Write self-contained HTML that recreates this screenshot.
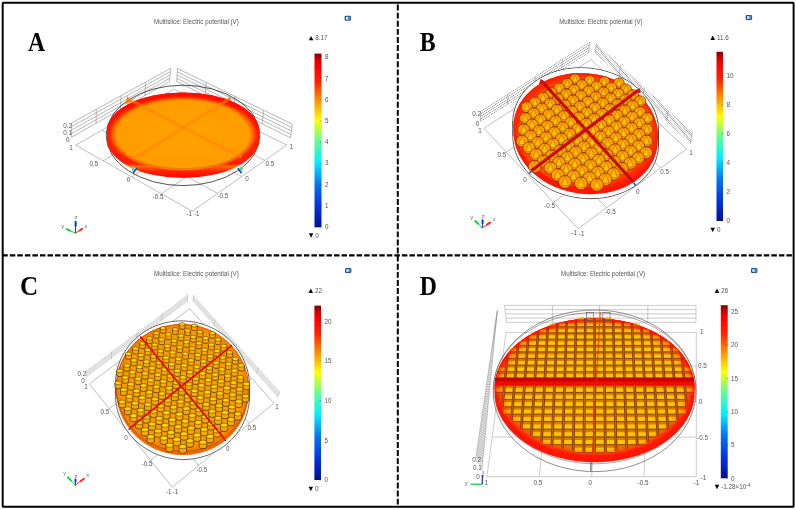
<!DOCTYPE html>
<html><head><meta charset="utf-8"><title>Figure</title>
<style>html,body{margin:0;padding:0;background:#fff;}svg{display:block;font-family:"Liberation Sans",sans-serif;}</style>
</head><body>
<svg width="796" height="510" viewBox="0 0 796 510">
<defs>
<linearGradient id="jet" x1="0" y1="0" x2="0" y2="1">
<stop offset="0" stop-color="#800000"/><stop offset="0.04" stop-color="#d80000"/><stop offset="0.075" stop-color="#ff0000"/><stop offset="0.16" stop-color="#ff2000"/><stop offset="0.27" stop-color="#ff9000"/><stop offset="0.385" stop-color="#ffff00"/><stop offset="0.5" stop-color="#60ff90"/><stop offset="0.625" stop-color="#00f0ff"/><stop offset="0.75" stop-color="#0078f0"/><stop offset="0.875" stop-color="#0034e4"/><stop offset="0.97" stop-color="#0018a8"/><stop offset="1" stop-color="#00108c"/>
</linearGradient>
<radialGradient id="gA" cx="0.5" cy="0.54" r="0.5"><stop offset="0" stop-color="#ffa300"/><stop offset="0.87" stop-color="#ff9c00"/><stop offset="0.925" stop-color="#ff6000"/><stop offset="0.96" stop-color="#ff2800"/><stop offset="1" stop-color="#ff1000"/></radialGradient>
<linearGradient id="rimA" x1="0" y1="0" x2="0" y2="1"><stop offset="0" stop-color="#ff1800"/><stop offset="0.83" stop-color="#ff2000"/><stop offset="0.865" stop-color="#ff6a00"/><stop offset="0.92" stop-color="#ff2000"/><stop offset="1" stop-color="#ff0800"/></linearGradient>
<radialGradient id="gB" cx="0.5" cy="0.5" r="0.5"><stop offset="0" stop-color="#ff6c00"/><stop offset="0.86" stop-color="#ff6400"/><stop offset="0.95" stop-color="#ff4400"/><stop offset="1" stop-color="#ff2800"/></radialGradient>
<radialGradient id="gC" cx="0.5" cy="0.5" r="0.5"><stop offset="0" stop-color="#f7a200"/><stop offset="0.9" stop-color="#f69c00"/><stop offset="0.97" stop-color="#f48400"/><stop offset="1" stop-color="#f07000"/></radialGradient>
<radialGradient id="gD" cx="0.5" cy="0.5" r="0.5"><stop offset="0" stop-color="#d88a00"/><stop offset="0.93" stop-color="#e07800"/><stop offset="0.965" stop-color="#ff3a00"/><stop offset="1" stop-color="#ff1000"/></radialGradient>
<radialGradient id="ovD" cx="0.5" cy="0.5" r="0.5"><stop offset="0" stop-color="#ff2000" stop-opacity="0"/><stop offset="0.88" stop-color="#ff2000" stop-opacity="0"/><stop offset="0.97" stop-color="#ff2000" stop-opacity="0.4"/><stop offset="1" stop-color="#ff1000" stop-opacity="0.95"/></radialGradient>
<filter id="bl" x="0" y="0" width="796" height="510" filterUnits="userSpaceOnUse"><feGaussianBlur stdDeviation="0.42"/></filter>
<filter id="bl3" x="0" y="0" width="796" height="510" filterUnits="userSpaceOnUse"><feGaussianBlur stdDeviation="0.22"/></filter>
<filter id="bl2" x="0" y="0" width="796" height="510" filterUnits="userSpaceOnUse"><feGaussianBlur stdDeviation="0.3"/></filter>
<linearGradient id="coneB" x1="0" y1="0" x2="0" y2="1"><stop offset="0" stop-color="#ff9800"/><stop offset="1" stop-color="#ffa800"/></linearGradient>
</defs>
<rect x="0" y="0" width="796" height="510" fill="#fff"/>
<g filter="url(#bl3)"><line x1="75.6" y1="145.2" x2="173.7" y2="89.2" stroke="#a4a4a4" stroke-width="0.7" /><line x1="75.6" y1="145.2" x2="192.2" y2="211.2" stroke="#a4a4a4" stroke-width="0.7" /><line x1="103.08" y1="160.75" x2="200.49" y2="102.42" stroke="#a4a4a4" stroke-width="0.7" /><line x1="101.81" y1="130.24" x2="217.6" y2="193.42" stroke="#a4a4a4" stroke-width="0.7" /><line x1="131.63" y1="176.91" x2="228.24" y2="116.11" stroke="#a4a4a4" stroke-width="0.7" /><line x1="126.85" y1="115.95" x2="241.78" y2="176.5" stroke="#a4a4a4" stroke-width="0.7" /><line x1="161.31" y1="193.72" x2="256.99" y2="130.29" stroke="#a4a4a4" stroke-width="0.7" /><line x1="150.79" y1="102.28" x2="264.82" y2="160.38" stroke="#a4a4a4" stroke-width="0.7" /><line x1="192.2" y1="211.2" x2="286.8" y2="145" stroke="#a4a4a4" stroke-width="0.7" /><line x1="173.7" y1="89.2" x2="286.8" y2="145" stroke="#a4a4a4" stroke-width="0.7" /><line x1="71.6" y1="137.1" x2="169.4" y2="81.6" stroke="#969696" stroke-width="0.7" /><line x1="71.6" y1="133.6" x2="169.68" y2="78.27" stroke="#969696" stroke-width="0.7" /><line x1="71.6" y1="130.1" x2="169.95" y2="74.95" stroke="#969696" stroke-width="0.7" /><line x1="71.6" y1="126.6" x2="170.22" y2="71.62" stroke="#969696" stroke-width="0.7" /><line x1="71.6" y1="123.1" x2="170.5" y2="68.3" stroke="#969696" stroke-width="0.7" /><line x1="71.6" y1="137.1" x2="71.6" y2="123.1" stroke="#969696" stroke-width="0.7" /><line x1="96.05" y1="123.22" x2="96.32" y2="109.4" stroke="#969696" stroke-width="0.7" /><line x1="120.5" y1="109.35" x2="121.05" y2="95.7" stroke="#969696" stroke-width="0.7" /><line x1="144.95" y1="95.47" x2="145.78" y2="82" stroke="#969696" stroke-width="0.7" /><line x1="169.4" y1="81.6" x2="170.5" y2="68.3" stroke="#969696" stroke-width="0.7" /><line x1="176.7" y1="81.6" x2="290.6" y2="137.9" stroke="#969696" stroke-width="0.7" /><line x1="176.9" y1="78.35" x2="291.03" y2="134.45" stroke="#969696" stroke-width="0.7" /><line x1="177.1" y1="75.1" x2="291.45" y2="131" stroke="#969696" stroke-width="0.7" /><line x1="177.3" y1="71.85" x2="291.88" y2="127.55" stroke="#969696" stroke-width="0.7" /><line x1="177.5" y1="68.6" x2="292.3" y2="124.1" stroke="#969696" stroke-width="0.7" /><line x1="176.7" y1="81.6" x2="177.5" y2="68.6" stroke="#969696" stroke-width="0.7" /><line x1="205.18" y1="95.67" x2="206.2" y2="82.47" stroke="#969696" stroke-width="0.7" /><line x1="233.65" y1="109.75" x2="234.9" y2="96.35" stroke="#969696" stroke-width="0.7" /><line x1="262.12" y1="123.83" x2="263.6" y2="110.22" stroke="#969696" stroke-width="0.7" /><line x1="290.6" y1="137.9" x2="292.3" y2="124.1" stroke="#969696" stroke-width="0.7" /></g><g filter="url(#bl)"><ellipse cx="183" cy="135.4" rx="76.8" ry="50.2" fill="none" stroke="#2a2a2a" stroke-width="0.8"/><path d="M106.8 131.45 A76.25 39.05 0 0 1 259.3 131.45 L259.3 139.05 A76.25 39.05 0 0 1 106.8 139.05 Z" fill="url(#rimA)"/><path d="M131 166 L137 168.2 L133 173.5 Z" fill="#40e0c0"/><path d="M131.2 166.3 L133 169.5" stroke="#ff9000" stroke-width="1"/><path d="M133 173.3 L136.8 168.4" stroke="#1030c8" stroke-width="1.3"/><path d="M243.5 166 L237.5 168.2 L241.5 173.5 Z" fill="#40e0c0"/><path d="M243.3 166.3 L241.5 169.5" stroke="#ff9000" stroke-width="1"/><path d="M241.5 173.3 L237.7 168.4" stroke="#1030c8" stroke-width="1.3"/><path d="M125.6 104 L126.6 99 L127.5 95.8 L129 99 L132.2 101.5 Z" fill="#ff7a00"/><path d="M231.6 104 L230.6 99 L229.7 95.8 L228.2 99 L225 101.5 Z" fill="#ff7a00"/><ellipse cx="183.05" cy="131.45" rx="76.25" ry="39.05" fill="url(#gA)"/><line x1="128" y1="98.8" x2="241.5" y2="157.3" stroke="#ff8200" stroke-width="3.2" opacity="0.55"/><line x1="229.2" y1="98.8" x2="132" y2="159.8" stroke="#ff8200" stroke-width="3.2" opacity="0.55"/><path d="M109.8 140.45 A76.25 39.05 0 0 0 256.3 140.45" fill="none" stroke="#b03800" stroke-width="0.5" opacity="0.6"/><text x="71.1" y="150.2" font-size="6.3" fill="#555555" text-anchor="middle" >1</text><text x="94" y="165.5" font-size="6.3" fill="#555555" text-anchor="middle" >0.5</text><text x="128.5" y="181.5" font-size="6.3" fill="#555555" text-anchor="middle" >0</text><text x="158" y="198.6" font-size="6.3" fill="#555555" text-anchor="middle" >-0.5</text><text x="189.2" y="216.4" font-size="6.3" fill="#555555" text-anchor="middle" >-1</text><text x="196.7" y="216.4" font-size="6.3" fill="#555555" text-anchor="middle" >-1</text><text x="222.9" y="198.4" font-size="6.3" fill="#555555" text-anchor="middle" >-0.5</text><text x="247" y="181.2" font-size="6.3" fill="#555555" text-anchor="middle" >0</text><text x="269.8" y="165.5" font-size="6.3" fill="#555555" text-anchor="middle" >0.5</text><text x="291.3" y="149.2" font-size="6.3" fill="#555555" text-anchor="middle" >1</text><text x="67.6" y="127.8" font-size="6.3" fill="#555555" text-anchor="middle" >0.2</text><text x="67.6" y="134.8" font-size="6.3" fill="#555555" text-anchor="middle" >0.1</text><text x="67.8" y="142.2" font-size="6.3" fill="#555555" text-anchor="middle" >0</text><line x1="75.4" y1="233.1" x2="66.6" y2="229.2" stroke="#00d848" stroke-width="1.0" /><line x1="69.94" y1="230.68" x2="66.6" y2="229.2" stroke="#00d848" stroke-width="2.0" stroke-linecap="round"/><line x1="75.4" y1="233.1" x2="82.2" y2="228.9" stroke="#ff2828" stroke-width="1.0" /><line x1="79.62" y1="230.5" x2="82.2" y2="228.9" stroke="#ff2828" stroke-width="2.0" stroke-linecap="round"/><line x1="75.4" y1="233.1" x2="75.7" y2="221.8" stroke="#1038e0" stroke-width="1.0" /><line x1="75.59" y1="226.09" x2="75.7" y2="221.8" stroke="#1038e0" stroke-width="2.0" stroke-linecap="round"/><text x="62.7" y="228" font-size="5.8" fill="#6a6a6a" text-anchor="middle" >y</text><text x="86" y="228" font-size="5.8" fill="#6a6a6a" text-anchor="middle" >x</text><text x="76" y="218.7" font-size="5.8" fill="#6a6a6a" text-anchor="middle" >z</text><text x="154" y="24.2" font-size="6.3" fill="#555555" textLength="84.8" lengthAdjust="spacingAndGlyphs">Multislice: Electric potential (V)</text><rect x="344.6" y="15.8" width="6.4" height="5.0" rx="1.2" fill="#2450a4"/><rect x="348.5" y="16.5" width="1.8" height="3.6" fill="#4a86d8"/><rect x="345.9" y="16.9" width="2.4" height="2.8" fill="#d4efd0"/><rect x="314.5" y="53.6" width="7" height="173.7" fill="url(#jet)"/><line x1="320" y1="226.8" x2="321.5" y2="226.8" stroke="#333" stroke-width="0.4" /><text x="324.9" y="229" font-size="6.3" fill="#555555" text-anchor="start" >0</text><line x1="320" y1="205.6" x2="321.5" y2="205.6" stroke="#333" stroke-width="0.4" /><text x="324.9" y="207.8" font-size="6.3" fill="#555555" text-anchor="start" >1</text><line x1="320" y1="184.4" x2="321.5" y2="184.4" stroke="#333" stroke-width="0.4" /><text x="324.9" y="186.6" font-size="6.3" fill="#555555" text-anchor="start" >2</text><line x1="320" y1="163.2" x2="321.5" y2="163.2" stroke="#333" stroke-width="0.4" /><text x="324.9" y="165.4" font-size="6.3" fill="#555555" text-anchor="start" >3</text><line x1="320" y1="142" x2="321.5" y2="142" stroke="#333" stroke-width="0.4" /><text x="324.9" y="144.2" font-size="6.3" fill="#555555" text-anchor="start" >4</text><line x1="320" y1="120.8" x2="321.5" y2="120.8" stroke="#333" stroke-width="0.4" /><text x="324.9" y="123" font-size="6.3" fill="#555555" text-anchor="start" >5</text><line x1="320" y1="99.6" x2="321.5" y2="99.6" stroke="#333" stroke-width="0.4" /><text x="324.9" y="101.8" font-size="6.3" fill="#555555" text-anchor="start" >6</text><line x1="320" y1="78.4" x2="321.5" y2="78.4" stroke="#333" stroke-width="0.4" /><text x="324.9" y="80.6" font-size="6.3" fill="#555555" text-anchor="start" >7</text><line x1="320" y1="57.2" x2="321.5" y2="57.2" stroke="#333" stroke-width="0.4" /><text x="324.9" y="59.4" font-size="6.3" fill="#555555" text-anchor="start" >8</text><path d="M308.8 40.3 l2.3 -4.4 l2.3 4.4z" fill="#111"/><text x="315.3" y="40.3" font-size="6.3" fill="#555555" text-anchor="start" >8.17</text><path d="M308.8 233.3 l2.3 4.4 l2.3 -4.4z" fill="#111"/><text x="315.3" y="237.7" font-size="6.3" fill="#555555" text-anchor="start" >0</text></g>
<g filter="url(#bl3)"><line x1="483.9" y1="128.2" x2="591" y2="59.6" stroke="#a4a4a4" stroke-width="0.7" /><line x1="483.9" y1="128.2" x2="578.2" y2="228.7" stroke="#a4a4a4" stroke-width="0.7" /><line x1="506.26" y1="152.03" x2="613.72" y2="80.87" stroke="#a4a4a4" stroke-width="0.7" /><line x1="511.94" y1="110.24" x2="606.64" y2="207.77" stroke="#a4a4a4" stroke-width="0.7" /><line x1="529.4" y1="176.69" x2="637.19" y2="102.84" stroke="#a4a4a4" stroke-width="0.7" /><line x1="539.11" y1="92.84" x2="634.15" y2="187.53" stroke="#a4a4a4" stroke-width="0.7" /><line x1="553.37" y1="202.24" x2="661.43" y2="125.53" stroke="#a4a4a4" stroke-width="0.7" /><line x1="565.45" y1="75.96" x2="660.75" y2="167.95" stroke="#a4a4a4" stroke-width="0.7" /><line x1="578.2" y1="228.7" x2="686.5" y2="149" stroke="#a4a4a4" stroke-width="0.7" /><line x1="591" y1="59.6" x2="686.5" y2="149" stroke="#a4a4a4" stroke-width="0.7" /><linearGradient id="wg1" gradientUnits="userSpaceOnUse" spreadMethod="repeat" x1="480.6" y1="121.4" x2="479.476" y2="119.631"><stop offset="0" stop-color="#969696"/><stop offset="0.24" stop-color="#f8f8f8"/><stop offset="0.76" stop-color="#f8f8f8"/><stop offset="1" stop-color="#969696"/></linearGradient><path d="M480.6 121.75 L480.6 111.05 L589.7 41.85 L588.7 53.05 Z" fill="url(#wg1)"/><line x1="480.6" y1="121.4" x2="480.6" y2="111.4" stroke="#909090" stroke-width="0.6" /><line x1="507.62" y1="104.23" x2="507.88" y2="94.1" stroke="#909090" stroke-width="0.6" /><line x1="534.65" y1="87.05" x2="535.15" y2="76.8" stroke="#909090" stroke-width="0.6" /><line x1="561.68" y1="69.88" x2="562.43" y2="59.5" stroke="#909090" stroke-width="0.6" /><line x1="588.7" y1="52.7" x2="589.7" y2="42.2" stroke="#909090" stroke-width="0.6" /><linearGradient id="wg2" gradientUnits="userSpaceOnUse" spreadMethod="repeat" x1="690.3" y1="143.7" x2="691.473" y2="142.478"><stop offset="0" stop-color="#969696"/><stop offset="0.24" stop-color="#f8f8f8"/><stop offset="0.76" stop-color="#f8f8f8"/><stop offset="1" stop-color="#969696"/></linearGradient><path d="M690.3 144.05 L692.3 132.25 L596.4 42.75 L595.4 52.95 Z" fill="url(#wg2)"/><line x1="690.3" y1="143.7" x2="692.3" y2="132.6" stroke="#909090" stroke-width="0.6" /><line x1="666.57" y1="120.92" x2="668.32" y2="110.22" stroke="#909090" stroke-width="0.6" /><line x1="642.85" y1="98.15" x2="644.35" y2="87.85" stroke="#909090" stroke-width="0.6" /><line x1="619.12" y1="75.38" x2="620.38" y2="65.47" stroke="#909090" stroke-width="0.6" /><line x1="595.4" y1="52.6" x2="596.4" y2="43.1" stroke="#909090" stroke-width="0.6" /></g><g filter="url(#bl)"><path d="M658 141.83 L657.45 144.82 L656.7 147.77 L655.76 150.67 L654.62 153.51 L653.29 156.3 L651.78 159.01 L650.09 161.65 L648.22 164.2 L646.19 166.67 L643.98 169.03 L641.62 171.29 L639.1 173.44 L636.43 175.47 L633.63 177.38 L630.7 179.16 L627.64 180.82 L624.46 182.33 L621.18 183.7 L617.81 184.93 L614.34 186.01 L610.8 186.94 L607.19 187.71 L603.52 188.33 L599.8 188.8 L596.04 189.1 L592.25 189.24 L588.45 189.23 L584.64 189.05 L580.83 188.72 L577.03 188.22 L573.26 187.57 L569.52 186.77 L565.83 185.81 L562.19 184.7 L558.61 183.44 L555.11 182.04 L551.7 180.5 L548.37 178.82 L545.15 177.01 L542.04 175.08 L539.05 173.02 L536.19 170.85 L533.46 168.57 L530.88 166.18 L528.44 163.7 L526.17 161.13 L524.06 158.48 L522.11 155.75 L520.34 152.95 L518.75 150.09 L517.34 147.18 L516.12 144.23 L515.09 141.23 L514.26 138.21 L513.62 135.17 L513.18 132.12 L512.93 129.07 L512.89 126.02 L513.04 122.98 L513.4 119.97 L513.95 116.98 L514.7 114.03 L515.64 111.13 L516.78 108.29 L518.11 105.5 L519.62 102.79 L521.31 100.15 L523.18 97.6 L525.21 95.13 L527.42 92.77 L529.78 90.51 L532.3 88.36 L534.97 86.33 L537.77 84.42 L540.7 82.64 L543.76 80.98 L546.94 79.47 L550.22 78.1 L553.59 76.87 L557.06 75.79 L560.6 74.86 L564.21 74.09 L567.88 73.47 L571.6 73 L575.36 72.7 L579.15 72.56 L582.95 72.57 L586.76 72.75 L590.57 73.08 L594.37 73.58 L598.14 74.23 L601.88 75.03 L605.57 75.99 L609.21 77.1 L612.79 78.36 L616.29 79.76 L619.7 81.3 L623.03 82.98 L626.25 84.79 L629.36 86.72 L632.35 88.78 L635.21 90.95 L637.94 93.23 L640.52 95.62 L642.96 98.1 L645.23 100.67 L647.34 103.32 L649.29 106.05 L651.06 108.85 L652.65 111.71 L654.06 114.62 L655.28 117.57 L656.31 120.57 L657.14 123.59 L657.78 126.63 L658.22 129.68 L658.47 132.73 L658.51 135.78 L658.36 138.82 Z M658 156.03 L657.45 159.02 L656.7 161.97 L655.76 164.87 L654.62 167.71 L653.29 170.5 L651.78 173.21 L650.09 175.85 L648.22 178.4 L646.19 180.87 L643.98 183.23 L641.62 185.49 L639.1 187.64 L636.43 189.67 L633.63 191.58 L630.7 193.36 L627.64 195.02 L624.46 196.53 L621.18 197.9 L617.81 199.13 L614.34 200.21 L610.8 201.14 L607.19 201.91 L603.52 202.53 L599.8 203 L596.04 203.3 L592.25 203.44 L588.45 203.43 L584.64 203.25 L580.83 202.92 L577.03 202.42 L573.26 201.77 L569.52 200.97 L565.83 200.01 L562.19 198.9 L558.61 197.64 L555.11 196.24 L551.7 194.7 L548.37 193.02 L545.15 191.21 L542.04 189.28 L539.05 187.22 L536.19 185.05 L533.46 182.77 L530.88 180.38 L528.44 177.9 L526.17 175.33 L524.06 172.68 L522.11 169.95 L520.34 167.15 L518.75 164.29 L517.34 161.38 L516.12 158.43 L515.09 155.43 L514.26 152.41 L513.62 149.37 L513.18 146.32 L512.93 143.27 L512.89 140.22 L513.04 137.18 L513.4 134.17 L513.95 131.18 L514.7 128.23 L515.64 125.33 L516.78 122.49 L518.11 119.7 L519.62 116.99 L521.31 114.35 L523.18 111.8 L525.21 109.33 L527.42 106.97 L529.78 104.71 L532.3 102.56 L534.97 100.53 L537.77 98.62 L540.7 96.84 L543.76 95.18 L546.94 93.67 L550.22 92.3 L553.59 91.07 L557.06 89.99 L560.6 89.06 L564.21 88.29 L567.88 87.67 L571.6 87.2 L575.36 86.9 L579.15 86.76 L582.95 86.77 L586.76 86.95 L590.57 87.28 L594.37 87.78 L598.14 88.43 L601.88 89.23 L605.57 90.19 L609.21 91.3 L612.79 92.56 L616.29 93.96 L619.7 95.5 L623.03 97.18 L626.25 98.99 L629.36 100.92 L632.35 102.98 L635.21 105.15 L637.94 107.43 L640.52 109.82 L642.96 112.3 L645.23 114.87 L647.34 117.52 L649.29 120.25 L651.06 123.05 L652.65 125.91 L654.06 128.82 L655.28 131.77 L656.31 134.77 L657.14 137.79 L657.78 140.83 L658.22 143.88 L658.47 146.93 L658.51 149.98 L658.36 153.02 Z M658.51 135.78 L658.51 149.98 L512.89 140.22 L512.89 126.02 Z" fill="#fff" stroke="#444" stroke-width="0.9" transform="translate(0,-4.8)"/><path d="M657.29 141.73 L656.74 144.68 L656 147.6 L655.06 150.47 L653.94 153.29 L652.63 156.05 L651.13 158.73 L649.46 161.35 L647.61 163.87 L645.59 166.31 L643.4 168.65 L641.06 170.89 L638.57 173.02 L635.93 175.03 L633.16 176.92 L630.25 178.69 L627.22 180.32 L624.08 181.82 L620.83 183.18 L617.49 184.39 L614.06 185.46 L610.55 186.38 L606.98 187.15 L603.34 187.76 L599.66 188.22 L595.94 188.52 L592.19 188.67 L588.42 188.65 L584.65 188.48 L580.87 188.14 L577.12 187.65 L573.38 187.01 L569.68 186.21 L566.02 185.26 L562.42 184.16 L558.88 182.92 L555.42 181.53 L552.03 180.01 L548.74 178.34 L545.55 176.55 L542.47 174.64 L539.51 172.6 L536.68 170.45 L533.98 168.19 L531.42 165.83 L529.01 163.38 L526.76 160.83 L524.67 158.2 L522.74 155.5 L520.99 152.73 L519.41 149.9 L518.02 147.02 L516.81 144.09 L515.79 141.13 L514.97 138.14 L514.33 135.13 L513.89 132.11 L513.65 129.09 L513.61 126.07 L513.76 123.06 L514.11 120.07 L514.66 117.12 L515.4 114.2 L516.34 111.33 L517.46 108.51 L518.77 105.75 L520.27 103.07 L521.94 100.45 L523.79 97.93 L525.81 95.49 L528 93.15 L530.34 90.91 L532.83 88.78 L535.47 86.77 L538.24 84.88 L541.15 83.11 L544.18 81.48 L547.32 79.98 L550.57 78.62 L553.91 77.41 L557.34 76.34 L560.85 75.42 L564.42 74.65 L568.06 74.04 L571.74 73.58 L575.46 73.28 L579.21 73.13 L582.98 73.15 L586.75 73.32 L590.53 73.66 L594.28 74.15 L598.02 74.79 L601.72 75.59 L605.38 76.54 L608.98 77.64 L612.52 78.88 L615.98 80.27 L619.37 81.79 L622.66 83.46 L625.85 85.25 L628.93 87.16 L631.89 89.2 L634.72 91.35 L637.42 93.61 L639.98 95.97 L642.39 98.42 L644.64 100.97 L646.73 103.6 L648.66 106.3 L650.41 109.07 L651.99 111.9 L653.38 114.78 L654.59 117.71 L655.61 120.67 L656.43 123.66 L657.07 126.67 L657.51 129.69 L657.75 132.71 L657.79 135.73 L657.64 138.74 Z M657.29 155.93 L656.74 158.88 L656 161.8 L655.06 164.67 L653.94 167.49 L652.63 170.25 L651.13 172.93 L649.46 175.55 L647.61 178.07 L645.59 180.51 L643.4 182.85 L641.06 185.09 L638.57 187.22 L635.93 189.23 L633.16 191.12 L630.25 192.89 L627.22 194.52 L624.08 196.02 L620.83 197.38 L617.49 198.59 L614.06 199.66 L610.55 200.58 L606.98 201.35 L603.34 201.96 L599.66 202.42 L595.94 202.72 L592.19 202.87 L588.42 202.85 L584.65 202.68 L580.87 202.34 L577.12 201.85 L573.38 201.21 L569.68 200.41 L566.02 199.46 L562.42 198.36 L558.88 197.12 L555.42 195.73 L552.03 194.21 L548.74 192.54 L545.55 190.75 L542.47 188.84 L539.51 186.8 L536.68 184.65 L533.98 182.39 L531.42 180.03 L529.01 177.58 L526.76 175.03 L524.67 172.4 L522.74 169.7 L520.99 166.93 L519.41 164.1 L518.02 161.22 L516.81 158.29 L515.79 155.33 L514.97 152.34 L514.33 149.33 L513.89 146.31 L513.65 143.29 L513.61 140.27 L513.76 137.26 L514.11 134.27 L514.66 131.32 L515.4 128.4 L516.34 125.53 L517.46 122.71 L518.77 119.95 L520.27 117.27 L521.94 114.65 L523.79 112.13 L525.81 109.69 L528 107.35 L530.34 105.11 L532.83 102.98 L535.47 100.97 L538.24 99.08 L541.15 97.31 L544.18 95.68 L547.32 94.18 L550.57 92.82 L553.91 91.61 L557.34 90.54 L560.85 89.62 L564.42 88.85 L568.06 88.24 L571.74 87.78 L575.46 87.48 L579.21 87.33 L582.98 87.35 L586.75 87.52 L590.53 87.86 L594.28 88.35 L598.02 88.99 L601.72 89.79 L605.38 90.74 L608.98 91.84 L612.52 93.08 L615.98 94.47 L619.37 95.99 L622.66 97.66 L625.85 99.45 L628.93 101.36 L631.89 103.4 L634.72 105.55 L637.42 107.81 L639.98 110.17 L642.39 112.62 L644.64 115.17 L646.73 117.8 L648.66 120.5 L650.41 123.27 L651.99 126.1 L653.38 128.98 L654.59 131.91 L655.61 134.87 L656.43 137.86 L657.07 140.87 L657.51 143.89 L657.75 146.91 L657.79 149.93 L657.64 152.94 Z M657.79 135.73 L657.79 149.93 L513.61 140.27 L513.61 126.07 Z" fill="#fff" transform="translate(0,-4.8)"/><line x1="531" y1="171.5" x2="529" y2="174" stroke="#1060e0" stroke-width="1.6" /><line x1="633.7" y1="182.5" x2="635.5" y2="185.5" stroke="#1060e0" stroke-width="1.6" /><path d="M657.29 141.73 L656.74 144.68 L656 147.6 L655.06 150.47 L653.94 153.29 L652.63 156.05 L651.13 158.73 L649.46 161.35 L647.61 163.87 L645.59 166.31 L643.4 168.65 L641.06 170.89 L638.57 173.02 L635.93 175.03 L633.16 176.92 L630.25 178.69 L627.22 180.32 L624.08 181.82 L620.83 183.18 L617.49 184.39 L614.06 185.46 L610.55 186.38 L606.98 187.15 L603.34 187.76 L599.66 188.22 L595.94 188.52 L592.19 188.67 L588.42 188.65 L584.65 188.48 L580.87 188.14 L577.12 187.65 L573.38 187.01 L569.68 186.21 L566.02 185.26 L562.42 184.16 L558.88 182.92 L555.42 181.53 L552.03 180.01 L548.74 178.34 L545.55 176.55 L542.47 174.64 L539.51 172.6 L536.68 170.45 L533.98 168.19 L531.42 165.83 L529.01 163.38 L526.76 160.83 L524.67 158.2 L522.74 155.5 L520.99 152.73 L519.41 149.9 L518.02 147.02 L516.81 144.09 L515.79 141.13 L514.97 138.14 L514.33 135.13 L513.89 132.11 L513.65 129.09 L513.61 126.07 L513.76 123.06 L514.11 120.07 L514.66 117.12 L515.4 114.2 L516.34 111.33 L517.46 108.51 L518.77 105.75 L520.27 103.07 L521.94 100.45 L523.79 97.93 L525.81 95.49 L528 93.15 L530.34 90.91 L532.83 88.78 L535.47 86.77 L538.24 84.88 L541.15 83.11 L544.18 81.48 L547.32 79.98 L550.57 78.62 L553.91 77.41 L557.34 76.34 L560.85 75.42 L564.42 74.65 L568.06 74.04 L571.74 73.58 L575.46 73.28 L579.21 73.13 L582.98 73.15 L586.75 73.32 L590.53 73.66 L594.28 74.15 L598.02 74.79 L601.72 75.59 L605.38 76.54 L608.98 77.64 L612.52 78.88 L615.98 80.27 L619.37 81.79 L622.66 83.46 L625.85 85.25 L628.93 87.16 L631.89 89.2 L634.72 91.35 L637.42 93.61 L639.98 95.97 L642.39 98.42 L644.64 100.97 L646.73 103.6 L648.66 106.3 L650.41 109.07 L651.99 111.9 L653.38 114.78 L654.59 117.71 L655.61 120.67 L656.43 123.66 L657.07 126.67 L657.51 129.69 L657.75 132.71 L657.79 135.73 L657.64 138.74 Z M657.29 147.33 L656.74 150.28 L656 153.2 L655.06 156.07 L653.94 158.89 L652.63 161.65 L651.13 164.33 L649.46 166.95 L647.61 169.47 L645.59 171.91 L643.4 174.25 L641.06 176.49 L638.57 178.62 L635.93 180.63 L633.16 182.52 L630.25 184.29 L627.22 185.92 L624.08 187.42 L620.83 188.78 L617.49 189.99 L614.06 191.06 L610.55 191.98 L606.98 192.75 L603.34 193.36 L599.66 193.82 L595.94 194.12 L592.19 194.27 L588.42 194.25 L584.65 194.08 L580.87 193.74 L577.12 193.25 L573.38 192.61 L569.68 191.81 L566.02 190.86 L562.42 189.76 L558.88 188.52 L555.42 187.13 L552.03 185.61 L548.74 183.94 L545.55 182.15 L542.47 180.24 L539.51 178.2 L536.68 176.05 L533.98 173.79 L531.42 171.43 L529.01 168.98 L526.76 166.43 L524.67 163.8 L522.74 161.1 L520.99 158.33 L519.41 155.5 L518.02 152.62 L516.81 149.69 L515.79 146.73 L514.97 143.74 L514.33 140.73 L513.89 137.71 L513.65 134.69 L513.61 131.67 L513.76 128.66 L514.11 125.67 L514.66 122.72 L515.4 119.8 L516.34 116.93 L517.46 114.11 L518.77 111.35 L520.27 108.67 L521.94 106.05 L523.79 103.53 L525.81 101.09 L528 98.75 L530.34 96.51 L532.83 94.38 L535.47 92.37 L538.24 90.48 L541.15 88.71 L544.18 87.08 L547.32 85.58 L550.57 84.22 L553.91 83.01 L557.34 81.94 L560.85 81.02 L564.42 80.25 L568.06 79.64 L571.74 79.18 L575.46 78.88 L579.21 78.73 L582.98 78.75 L586.75 78.92 L590.53 79.26 L594.28 79.75 L598.02 80.39 L601.72 81.19 L605.38 82.14 L608.98 83.24 L612.52 84.48 L615.98 85.87 L619.37 87.39 L622.66 89.06 L625.85 90.85 L628.93 92.76 L631.89 94.8 L634.72 96.95 L637.42 99.21 L639.98 101.57 L642.39 104.02 L644.64 106.57 L646.73 109.2 L648.66 111.9 L650.41 114.67 L651.99 117.5 L653.38 120.38 L654.59 123.31 L655.61 126.27 L656.43 129.26 L657.07 132.27 L657.51 135.29 L657.75 138.31 L657.79 141.33 L657.64 144.34 Z M657.79 135.73 L657.79 141.33 L513.61 131.67 L513.61 126.07 Z" fill="#ff1800"/><path d="M657.29 141.73 L656.74 144.68 L656 147.6 L655.06 150.47 L653.94 153.29 L652.63 156.05 L651.13 158.73 L649.46 161.35 L647.61 163.87 L645.59 166.31 L643.4 168.65 L641.06 170.89 L638.57 173.02 L635.93 175.03 L633.16 176.92 L630.25 178.69 L627.22 180.32 L624.08 181.82 L620.83 183.18 L617.49 184.39 L614.06 185.46 L610.55 186.38 L606.98 187.15 L603.34 187.76 L599.66 188.22 L595.94 188.52 L592.19 188.67 L588.42 188.65 L584.65 188.48 L580.87 188.14 L577.12 187.65 L573.38 187.01 L569.68 186.21 L566.02 185.26 L562.42 184.16 L558.88 182.92 L555.42 181.53 L552.03 180.01 L548.74 178.34 L545.55 176.55 L542.47 174.64 L539.51 172.6 L536.68 170.45 L533.98 168.19 L531.42 165.83 L529.01 163.38 L526.76 160.83 L524.67 158.2 L522.74 155.5 L520.99 152.73 L519.41 149.9 L518.02 147.02 L516.81 144.09 L515.79 141.13 L514.97 138.14 L514.33 135.13 L513.89 132.11 L513.65 129.09 L513.61 126.07 L513.76 123.06 L514.11 120.07 L514.66 117.12 L515.4 114.2 L516.34 111.33 L517.46 108.51 L518.77 105.75 L520.27 103.07 L521.94 100.45 L523.79 97.93 L525.81 95.49 L528 93.15 L530.34 90.91 L532.83 88.78 L535.47 86.77 L538.24 84.88 L541.15 83.11 L544.18 81.48 L547.32 79.98 L550.57 78.62 L553.91 77.41 L557.34 76.34 L560.85 75.42 L564.42 74.65 L568.06 74.04 L571.74 73.58 L575.46 73.28 L579.21 73.13 L582.98 73.15 L586.75 73.32 L590.53 73.66 L594.28 74.15 L598.02 74.79 L601.72 75.59 L605.38 76.54 L608.98 77.64 L612.52 78.88 L615.98 80.27 L619.37 81.79 L622.66 83.46 L625.85 85.25 L628.93 87.16 L631.89 89.2 L634.72 91.35 L637.42 93.61 L639.98 95.97 L642.39 98.42 L644.64 100.97 L646.73 103.6 L648.66 106.3 L650.41 109.07 L651.99 111.9 L653.38 114.78 L654.59 117.71 L655.61 120.67 L656.43 123.66 L657.07 126.67 L657.51 129.69 L657.75 132.71 L657.79 135.73 L657.64 138.74 Z" fill="#ff2200"/><path d="M655.5 142.06 L654.96 144.94 L654.24 147.78 L653.33 150.58 L652.23 153.33 L650.95 156.02 L649.49 158.64 L647.86 161.19 L646.06 163.65 L644.09 166.03 L641.96 168.31 L639.68 170.49 L637.25 172.57 L634.68 174.53 L631.97 176.37 L629.14 178.09 L626.18 179.69 L623.12 181.15 L619.95 182.47 L616.7 183.66 L613.35 184.7 L609.93 185.6 L606.44 186.35 L602.9 186.94 L599.31 187.39 L595.68 187.68 L592.03 187.82 L588.35 187.81 L584.67 187.64 L581 187.31 L577.33 186.84 L573.69 186.21 L570.08 185.43 L566.52 184.5 L563 183.43 L559.55 182.22 L556.17 180.87 L552.87 179.38 L549.67 177.76 L546.56 176.01 L543.55 174.14 L540.67 172.16 L537.9 170.06 L535.27 167.86 L532.78 165.56 L530.43 163.16 L528.23 160.68 L526.19 158.12 L524.31 155.49 L522.61 152.79 L521.07 150.03 L519.71 147.22 L518.53 144.36 L517.54 141.48 L516.73 138.56 L516.12 135.63 L515.69 132.68 L515.45 129.73 L515.41 126.79 L515.56 123.85 L515.9 120.94 L516.44 118.06 L517.16 115.22 L518.07 112.42 L519.17 109.67 L520.45 106.98 L521.91 104.36 L523.54 101.81 L525.34 99.35 L527.31 96.97 L529.44 94.69 L531.72 92.51 L534.15 90.43 L536.72 88.47 L539.43 86.63 L542.26 84.91 L545.22 83.31 L548.28 81.85 L551.45 80.53 L554.7 79.34 L558.05 78.3 L561.47 77.4 L564.96 76.65 L568.5 76.06 L572.09 75.61 L575.72 75.32 L579.37 75.18 L583.05 75.19 L586.73 75.36 L590.4 75.69 L594.07 76.16 L597.71 76.79 L601.32 77.57 L604.88 78.5 L608.4 79.57 L611.85 80.78 L615.23 82.13 L618.53 83.62 L621.73 85.24 L624.84 86.99 L627.85 88.86 L630.73 90.84 L633.5 92.94 L636.13 95.14 L638.62 97.44 L640.97 99.84 L643.17 102.32 L645.21 104.88 L647.09 107.51 L648.79 110.21 L650.33 112.97 L651.69 115.78 L652.87 118.64 L653.86 121.52 L654.67 124.44 L655.28 127.37 L655.71 130.32 L655.95 133.27 L655.99 136.21 L655.84 139.15 Z" fill="url(#gB)"/><ellipse cx="575.04" cy="78.98" rx="5.35" ry="5.13" fill="#ffa000" stroke="#6e1a00" stroke-width="0.6"/><path d="M572.08 82.04 L575.04 74.58 L578.01 82.04 Z" fill="#ffc400" stroke="#8a3000" stroke-width="0.35"/><ellipse cx="589.66" cy="80.32" rx="5.37" ry="5.14" fill="#ffa000" stroke="#6e1a00" stroke-width="0.6"/><path d="M586.68 83.39 L589.66 75.9 L592.64 83.39 Z" fill="#ffc400" stroke="#8a3000" stroke-width="0.35"/><ellipse cx="604.28" cy="81.66" rx="5.38" ry="5.16" fill="#ffa000" stroke="#6e1a00" stroke-width="0.6"/><path d="M601.3 84.73 L604.28 77.23 L607.27 84.73 Z" fill="#ffc400" stroke="#8a3000" stroke-width="0.35"/><ellipse cx="618.92" cy="83" rx="5.4" ry="5.17" fill="#ffa000" stroke="#6e1a00" stroke-width="0.6"/><path d="M615.92 86.08 L618.92 78.55 L621.91 86.08 Z" fill="#ffc400" stroke="#8a3000" stroke-width="0.35"/><ellipse cx="567.19" cy="83.56" rx="5.4" ry="5.18" fill="#ffa000" stroke="#6e1a00" stroke-width="0.6"/><path d="M564.19 86.65 L567.19 79.11 L570.19 86.65 Z" fill="#ffc400" stroke="#8a3000" stroke-width="0.35"/><ellipse cx="581.87" cy="84.91" rx="5.42" ry="5.19" fill="#ffa000" stroke="#6e1a00" stroke-width="0.6"/><path d="M578.87 88.01 L581.87 80.44 L584.88 88.01 Z" fill="#ffc400" stroke="#8a3000" stroke-width="0.35"/><ellipse cx="596.56" cy="86.26" rx="5.44" ry="5.21" fill="#ffa000" stroke="#6e1a00" stroke-width="0.6"/><path d="M593.55 89.36 L596.56 81.78 L599.58 89.36 Z" fill="#ffc400" stroke="#8a3000" stroke-width="0.35"/><ellipse cx="611.26" cy="87.6" rx="5.45" ry="5.22" fill="#ffa000" stroke="#6e1a00" stroke-width="0.6"/><path d="M608.24 90.72 L611.26 83.11 L614.28 90.72 Z" fill="#ffc400" stroke="#8a3000" stroke-width="0.35"/><ellipse cx="559.27" cy="88.19" rx="5.46" ry="5.23" fill="#ffa000" stroke="#6e1a00" stroke-width="0.6"/><path d="M556.24 91.31 L559.27 83.69 L562.29 91.31 Z" fill="#ffc400" stroke="#8a3000" stroke-width="0.35"/><ellipse cx="625.96" cy="88.95" rx="5.47" ry="5.24" fill="#ffa000" stroke="#6e1a00" stroke-width="0.6"/><path d="M622.93 92.08 L625.96 84.45 L629 92.08 Z" fill="#ffc400" stroke="#8a3000" stroke-width="0.35"/><ellipse cx="574.02" cy="89.54" rx="5.48" ry="5.25" fill="#ffa000" stroke="#6e1a00" stroke-width="0.6"/><path d="M570.98 92.67 L574.02 85.03 L577.05 92.67 Z" fill="#ffc400" stroke="#8a3000" stroke-width="0.35"/><ellipse cx="588.77" cy="90.89" rx="5.49" ry="5.26" fill="#ffa000" stroke="#6e1a00" stroke-width="0.6"/><path d="M585.73 94.03 L588.77 86.37 L591.82 94.03 Z" fill="#ffc400" stroke="#8a3000" stroke-width="0.35"/><ellipse cx="603.53" cy="92.25" rx="5.51" ry="5.28" fill="#ffa000" stroke="#6e1a00" stroke-width="0.6"/><path d="M600.48 95.4 L603.53 87.71 L606.59 95.4 Z" fill="#ffc400" stroke="#8a3000" stroke-width="0.35"/><ellipse cx="551.27" cy="92.85" rx="5.52" ry="5.28" fill="#ffa000" stroke="#6e1a00" stroke-width="0.6"/><path d="M548.21 96 L551.27 88.31 L554.33 96 Z" fill="#ffc400" stroke="#8a3000" stroke-width="0.35"/><ellipse cx="618.31" cy="93.6" rx="5.52" ry="5.29" fill="#ffa000" stroke="#6e1a00" stroke-width="0.6"/><path d="M615.24 96.76 L618.31 89.06 L621.37 96.76 Z" fill="#ffc400" stroke="#8a3000" stroke-width="0.35"/><ellipse cx="566.08" cy="94.21" rx="5.53" ry="5.3" fill="#ffa000" stroke="#6e1a00" stroke-width="0.6"/><path d="M563.02 97.37 L566.08 89.66 L569.15 97.37 Z" fill="#ffc400" stroke="#8a3000" stroke-width="0.35"/><ellipse cx="633.08" cy="94.96" rx="5.54" ry="5.31" fill="#ffa000" stroke="#6e1a00" stroke-width="0.6"/><path d="M630.01 98.13 L633.08 90.4 L636.16 98.13 Z" fill="#ffc400" stroke="#8a3000" stroke-width="0.35"/><ellipse cx="580.91" cy="95.58" rx="5.55" ry="5.31" fill="#ffa000" stroke="#6e1a00" stroke-width="0.6"/><path d="M577.83 98.75 L580.91 91.01 L583.98 98.75 Z" fill="#ffc400" stroke="#8a3000" stroke-width="0.35"/><ellipse cx="595.74" cy="96.94" rx="5.56" ry="5.33" fill="#ffa000" stroke="#6e1a00" stroke-width="0.6"/><path d="M592.65 100.12 L595.74 92.36 L598.82 100.12 Z" fill="#ffc400" stroke="#8a3000" stroke-width="0.35"/><ellipse cx="543.19" cy="97.56" rx="5.57" ry="5.34" fill="#ffa000" stroke="#6e1a00" stroke-width="0.6"/><path d="M540.1 100.75 L543.19 92.98 L546.28 100.75 Z" fill="#ffc400" stroke="#8a3000" stroke-width="0.35"/><ellipse cx="610.57" cy="98.3" rx="5.58" ry="5.35" fill="#ffa000" stroke="#6e1a00" stroke-width="0.6"/><path d="M607.48 101.49 L610.57 93.71 L613.67 101.49 Z" fill="#ffc400" stroke="#8a3000" stroke-width="0.35"/><ellipse cx="558.08" cy="98.93" rx="5.59" ry="5.35" fill="#ffa000" stroke="#6e1a00" stroke-width="0.6"/><path d="M554.98 102.13 L558.08 94.33 L561.18 102.13 Z" fill="#ffc400" stroke="#8a3000" stroke-width="0.35"/><ellipse cx="625.42" cy="99.66" rx="5.6" ry="5.36" fill="#ffa000" stroke="#6e1a00" stroke-width="0.6"/><path d="M622.32 102.86 L625.42 95.06 L628.52 102.86 Z" fill="#ffc400" stroke="#8a3000" stroke-width="0.35"/><ellipse cx="572.97" cy="100.3" rx="5.6" ry="5.37" fill="#ffa000" stroke="#6e1a00" stroke-width="0.6"/><path d="M569.86 103.5 L572.97 95.69 L576.07 103.5 Z" fill="#ffc400" stroke="#8a3000" stroke-width="0.35"/><ellipse cx="640.27" cy="101.03" rx="5.61" ry="5.38" fill="#ffa000" stroke="#6e1a00" stroke-width="0.6"/><path d="M637.16 104.24 L640.27 96.41 L643.39 104.24 Z" fill="#ffc400" stroke="#8a3000" stroke-width="0.35"/><ellipse cx="587.86" cy="101.67" rx="5.62" ry="5.38" fill="#ffa000" stroke="#6e1a00" stroke-width="0.6"/><path d="M584.75 104.88 L587.86 97.04 L590.98 104.88 Z" fill="#ffc400" stroke="#8a3000" stroke-width="0.35"/><ellipse cx="535.04" cy="102.32" rx="5.63" ry="5.39" fill="#ffa000" stroke="#6e1a00" stroke-width="0.6"/><path d="M531.92 105.53 L535.04 97.68 L538.17 105.53 Z" fill="#ffc400" stroke="#8a3000" stroke-width="0.35"/><ellipse cx="602.77" cy="103.04" rx="5.64" ry="5.4" fill="#ffa000" stroke="#6e1a00" stroke-width="0.6"/><path d="M599.64 106.26 L602.77 98.4 L605.9 106.26 Z" fill="#ffc400" stroke="#8a3000" stroke-width="0.35"/><ellipse cx="550" cy="103.69" rx="5.64" ry="5.41" fill="#ffa000" stroke="#6e1a00" stroke-width="0.6"/><path d="M546.86 106.92 L550 99.05 L553.13 106.92 Z" fill="#ffc400" stroke="#8a3000" stroke-width="0.35"/><ellipse cx="617.68" cy="104.41" rx="5.65" ry="5.42" fill="#ffa000" stroke="#6e1a00" stroke-width="0.6"/><path d="M614.55 107.64 L617.68 99.76 L620.82 107.64 Z" fill="#ffc400" stroke="#8a3000" stroke-width="0.35"/><ellipse cx="564.95" cy="105.07" rx="5.66" ry="5.42" fill="#ffa000" stroke="#6e1a00" stroke-width="0.6"/><path d="M561.81 108.31 L564.95 100.41 L568.09 108.31 Z" fill="#ffc400" stroke="#8a3000" stroke-width="0.35"/><ellipse cx="632.6" cy="105.79" rx="5.67" ry="5.43" fill="#ffa000" stroke="#6e1a00" stroke-width="0.6"/><path d="M629.46 109.02 L632.6 101.12 L635.75 109.02 Z" fill="#ffc400" stroke="#8a3000" stroke-width="0.35"/><ellipse cx="579.92" cy="106.45" rx="5.68" ry="5.44" fill="#ffa000" stroke="#6e1a00" stroke-width="0.6"/><path d="M576.77 109.69 L579.92 101.77 L583.07 109.69 Z" fill="#ffc400" stroke="#8a3000" stroke-width="0.35"/><ellipse cx="526.82" cy="107.12" rx="5.68" ry="5.45" fill="#ffa000" stroke="#6e1a00" stroke-width="0.6"/><path d="M523.66 110.37 L526.82 102.44 L529.97 110.37 Z" fill="#ffc400" stroke="#8a3000" stroke-width="0.35"/><ellipse cx="594.89" cy="107.83" rx="5.69" ry="5.45" fill="#ffa000" stroke="#6e1a00" stroke-width="0.6"/><path d="M591.74 111.08 L594.89 103.14 L598.05 111.08 Z" fill="#ffc400" stroke="#8a3000" stroke-width="0.35"/><ellipse cx="541.84" cy="108.5" rx="5.7" ry="5.46" fill="#ffa000" stroke="#6e1a00" stroke-width="0.6"/><path d="M538.67 111.76 L541.84 103.81 L545 111.76 Z" fill="#ffc400" stroke="#8a3000" stroke-width="0.35"/><ellipse cx="609.87" cy="109.21" rx="5.71" ry="5.47" fill="#ffa000" stroke="#6e1a00" stroke-width="0.6"/><path d="M606.71 112.47 L609.87 104.5 L613.04 112.47 Z" fill="#ffc400" stroke="#8a3000" stroke-width="0.35"/><ellipse cx="556.86" cy="109.89" rx="5.72" ry="5.48" fill="#ffa000" stroke="#6e1a00" stroke-width="0.6"/><path d="M553.69 113.15 L556.86 105.18 L560.04 113.15 Z" fill="#ffc400" stroke="#8a3000" stroke-width="0.35"/><ellipse cx="624.86" cy="110.59" rx="5.73" ry="5.49" fill="#ffa000" stroke="#6e1a00" stroke-width="0.6"/><path d="M621.69 113.86 L624.86 105.87 L628.04 113.86 Z" fill="#ffc400" stroke="#8a3000" stroke-width="0.35"/><ellipse cx="571.9" cy="111.27" rx="5.73" ry="5.49" fill="#ffa000" stroke="#6e1a00" stroke-width="0.6"/><path d="M568.72 114.55 L571.9 106.55 L575.08 114.55 Z" fill="#ffc400" stroke="#8a3000" stroke-width="0.35"/><ellipse cx="639.86" cy="111.97" rx="5.74" ry="5.5" fill="#ffa000" stroke="#6e1a00" stroke-width="0.6"/><path d="M636.68 115.25 L639.86 107.24 L643.05 115.25 Z" fill="#ffc400" stroke="#8a3000" stroke-width="0.35"/><ellipse cx="586.94" cy="112.66" rx="5.75" ry="5.51" fill="#ffa000" stroke="#6e1a00" stroke-width="0.6"/><path d="M583.75 115.94 L586.94 107.92 L590.13 115.94 Z" fill="#ffc400" stroke="#8a3000" stroke-width="0.35"/><ellipse cx="533.6" cy="113.36" rx="5.76" ry="5.52" fill="#ffa000" stroke="#6e1a00" stroke-width="0.6"/><path d="M530.41 116.65 L533.6 108.61 L536.8 116.65 Z" fill="#ffc400" stroke="#8a3000" stroke-width="0.35"/><ellipse cx="601.99" cy="114.05" rx="5.77" ry="5.52" fill="#ffa000" stroke="#6e1a00" stroke-width="0.6"/><path d="M598.79 117.34 L601.99 109.3 L605.19 117.34 Z" fill="#ffc400" stroke="#8a3000" stroke-width="0.35"/><ellipse cx="548.7" cy="114.75" rx="5.78" ry="5.53" fill="#ffa000" stroke="#6e1a00" stroke-width="0.6"/><path d="M545.49 118.05 L548.7 109.99 L551.9 118.05 Z" fill="#ffc400" stroke="#8a3000" stroke-width="0.35"/><ellipse cx="617.05" cy="115.43" rx="5.78" ry="5.54" fill="#ffa000" stroke="#6e1a00" stroke-width="0.6"/><path d="M613.84 118.74 L617.05 110.67 L620.26 118.74 Z" fill="#ffc400" stroke="#8a3000" stroke-width="0.35"/><ellipse cx="563.8" cy="116.14" rx="5.79" ry="5.55" fill="#ffa000" stroke="#6e1a00" stroke-width="0.6"/><path d="M560.59 119.45 L563.8 111.37 L567.01 119.45 Z" fill="#ffc400" stroke="#8a3000" stroke-width="0.35"/><ellipse cx="632.12" cy="116.82" rx="5.8" ry="5.56" fill="#ffa000" stroke="#6e1a00" stroke-width="0.6"/><path d="M628.9 120.14 L632.12 112.04 L635.33 120.14 Z" fill="#ffc400" stroke="#8a3000" stroke-width="0.35"/><ellipse cx="578.91" cy="117.54" rx="5.81" ry="5.56" fill="#ffa000" stroke="#6e1a00" stroke-width="0.6"/><path d="M575.69 120.86 L578.91 112.75 L582.14 120.86 Z" fill="#ffc400" stroke="#8a3000" stroke-width="0.35"/><ellipse cx="647.19" cy="118.21" rx="5.82" ry="5.57" fill="#ffa000" stroke="#6e1a00" stroke-width="0.6"/><path d="M643.96 121.53 L647.19 113.42 L650.42 121.53 Z" fill="#ffc400" stroke="#8a3000" stroke-width="0.35"/><ellipse cx="525.29" cy="118.26" rx="5.82" ry="5.57" fill="#ffa000" stroke="#6e1a00" stroke-width="0.6"/><path d="M522.06 121.58 L525.29 113.46 L528.51 121.58 Z" fill="#ffc400" stroke="#8a3000" stroke-width="0.35"/><ellipse cx="594.03" cy="118.93" rx="5.83" ry="5.58" fill="#ffa000" stroke="#6e1a00" stroke-width="0.6"/><path d="M590.8 122.26 L594.03 114.13 L597.26 122.26 Z" fill="#ffc400" stroke="#8a3000" stroke-width="0.35"/><ellipse cx="540.45" cy="119.66" rx="5.83" ry="5.59" fill="#ffa000" stroke="#6e1a00" stroke-width="0.6"/><path d="M537.22 122.99 L540.45 114.85 L543.69 122.99 Z" fill="#ffc400" stroke="#8a3000" stroke-width="0.35"/><ellipse cx="609.16" cy="120.33" rx="5.84" ry="5.6" fill="#ffa000" stroke="#6e1a00" stroke-width="0.6"/><path d="M605.92 123.66 L609.16 115.51 L612.4 123.66 Z" fill="#ffc400" stroke="#8a3000" stroke-width="0.35"/><ellipse cx="555.63" cy="121.06" rx="5.85" ry="5.6" fill="#ffa000" stroke="#6e1a00" stroke-width="0.6"/><path d="M552.38 124.4 L555.63 116.24 L558.87 124.4 Z" fill="#ffc400" stroke="#8a3000" stroke-width="0.35"/><ellipse cx="624.3" cy="121.72" rx="5.86" ry="5.61" fill="#ffa000" stroke="#6e1a00" stroke-width="0.6"/><path d="M621.05 125.07 L624.3 116.9 L627.55 125.07 Z" fill="#ffc400" stroke="#8a3000" stroke-width="0.35"/><ellipse cx="570.81" cy="122.46" rx="5.87" ry="5.62" fill="#ffa000" stroke="#6e1a00" stroke-width="0.6"/><path d="M567.56 125.81 L570.81 117.63 L574.06 125.81 Z" fill="#ffc400" stroke="#8a3000" stroke-width="0.35"/><ellipse cx="639.44" cy="123.12" rx="5.88" ry="5.63" fill="#ffa000" stroke="#6e1a00" stroke-width="0.6"/><path d="M636.18 126.48 L639.44 118.28 L642.7 126.48 Z" fill="#ffc400" stroke="#8a3000" stroke-width="0.35"/><ellipse cx="586" cy="123.86" rx="5.88" ry="5.64" fill="#ffa000" stroke="#6e1a00" stroke-width="0.6"/><path d="M582.74 127.22 L586 119.02 L589.26 127.22 Z" fill="#ffc400" stroke="#8a3000" stroke-width="0.35"/><ellipse cx="532.13" cy="124.61" rx="5.89" ry="5.65" fill="#ffa000" stroke="#6e1a00" stroke-width="0.6"/><path d="M528.86 127.98 L532.13 119.76 L535.4 127.98 Z" fill="#ffc400" stroke="#8a3000" stroke-width="0.35"/><ellipse cx="601.2" cy="125.27" rx="5.9" ry="5.65" fill="#ffa000" stroke="#6e1a00" stroke-width="0.6"/><path d="M597.92 128.64 L601.2 120.41 L604.47 128.64 Z" fill="#ffc400" stroke="#8a3000" stroke-width="0.35"/><ellipse cx="547.37" cy="126.02" rx="5.91" ry="5.66" fill="#ffa000" stroke="#6e1a00" stroke-width="0.6"/><path d="M544.1 129.4 L547.37 121.15 L550.65 129.4 Z" fill="#ffc400" stroke="#8a3000" stroke-width="0.35"/><ellipse cx="616.4" cy="126.67" rx="5.92" ry="5.67" fill="#ffa000" stroke="#6e1a00" stroke-width="0.6"/><path d="M613.12 130.05 L616.4 121.8 L619.69 130.05 Z" fill="#ffc400" stroke="#8a3000" stroke-width="0.35"/><ellipse cx="562.63" cy="127.43" rx="5.93" ry="5.68" fill="#ffa000" stroke="#6e1a00" stroke-width="0.6"/><path d="M559.34 130.82 L562.63 122.55 L565.91 130.82 Z" fill="#ffc400" stroke="#8a3000" stroke-width="0.35"/><ellipse cx="631.62" cy="128.07" rx="5.93" ry="5.68" fill="#ffa000" stroke="#6e1a00" stroke-width="0.6"/><path d="M628.33 131.47 L631.62 123.19 L634.91 131.47 Z" fill="#ffc400" stroke="#8a3000" stroke-width="0.35"/><ellipse cx="577.89" cy="128.84" rx="5.94" ry="5.69" fill="#ffa000" stroke="#6e1a00" stroke-width="0.6"/><path d="M574.59 132.24 L577.89 123.95 L581.18 132.24 Z" fill="#ffc400" stroke="#8a3000" stroke-width="0.35"/><ellipse cx="646.84" cy="129.48" rx="5.95" ry="5.7" fill="#ffa000" stroke="#6e1a00" stroke-width="0.6"/><path d="M643.54 132.88 L646.84 124.58 L650.14 132.88 Z" fill="#ffc400" stroke="#8a3000" stroke-width="0.35"/><ellipse cx="523.72" cy="129.61" rx="5.95" ry="5.7" fill="#ffa000" stroke="#6e1a00" stroke-width="0.6"/><path d="M520.42 133.02 L523.72 124.71 L527.03 133.02 Z" fill="#ffc400" stroke="#8a3000" stroke-width="0.35"/><ellipse cx="593.16" cy="130.25" rx="5.96" ry="5.71" fill="#ffa000" stroke="#6e1a00" stroke-width="0.6"/><path d="M589.85 133.66 L593.16 125.34 L596.46 133.66 Z" fill="#ffc400" stroke="#8a3000" stroke-width="0.35"/><ellipse cx="539.04" cy="131.03" rx="5.97" ry="5.72" fill="#ffa000" stroke="#6e1a00" stroke-width="0.6"/><path d="M535.73 134.44 L539.04 126.12 L542.35 134.44 Z" fill="#ffc400" stroke="#8a3000" stroke-width="0.35"/><ellipse cx="608.43" cy="131.66" rx="5.98" ry="5.73" fill="#ffa000" stroke="#6e1a00" stroke-width="0.6"/><path d="M605.12 135.08 L608.43 126.74 L611.75 135.08 Z" fill="#ffc400" stroke="#8a3000" stroke-width="0.35"/><ellipse cx="554.37" cy="132.45" rx="5.99" ry="5.73" fill="#ffa000" stroke="#6e1a00" stroke-width="0.6"/><path d="M551.05 135.87 L554.37 127.52 L557.69 135.87 Z" fill="#ffc400" stroke="#8a3000" stroke-width="0.35"/><ellipse cx="623.72" cy="133.08" rx="5.99" ry="5.74" fill="#ffa000" stroke="#6e1a00" stroke-width="0.6"/><path d="M620.4 136.5 L623.72 128.14 L627.04 136.5 Z" fill="#ffc400" stroke="#8a3000" stroke-width="0.35"/><ellipse cx="569.7" cy="133.87" rx="6" ry="5.75" fill="#ffa000" stroke="#6e1a00" stroke-width="0.6"/><path d="M566.37 137.3 L569.7 128.92 L573.03 137.3 Z" fill="#ffc400" stroke="#8a3000" stroke-width="0.35"/><ellipse cx="639.01" cy="134.49" rx="6.01" ry="5.76" fill="#ffa000" stroke="#6e1a00" stroke-width="0.6"/><path d="M635.68 137.93 L639.01 129.54 L642.35 137.93 Z" fill="#ffc400" stroke="#8a3000" stroke-width="0.35"/><ellipse cx="585.04" cy="135.29" rx="6.02" ry="5.77" fill="#ffa000" stroke="#6e1a00" stroke-width="0.6"/><path d="M581.7 138.73 L585.04 130.33 L588.38 138.73 Z" fill="#ffc400" stroke="#8a3000" stroke-width="0.35"/><ellipse cx="530.63" cy="136.09" rx="6.03" ry="5.78" fill="#ffa000" stroke="#6e1a00" stroke-width="0.6"/><path d="M527.28 139.54 L530.63 131.13 L533.97 139.54 Z" fill="#ffc400" stroke="#8a3000" stroke-width="0.35"/><ellipse cx="600.39" cy="136.71" rx="6.04" ry="5.78" fill="#ffa000" stroke="#6e1a00" stroke-width="0.6"/><path d="M597.04 140.16 L600.39 131.74 L603.74 140.16 Z" fill="#ffc400" stroke="#8a3000" stroke-width="0.35"/><ellipse cx="546.02" cy="137.52" rx="6.05" ry="5.79" fill="#ffa000" stroke="#6e1a00" stroke-width="0.6"/><path d="M542.67 140.97 L546.02 132.54 L549.38 140.97 Z" fill="#ffc400" stroke="#8a3000" stroke-width="0.35"/><ellipse cx="615.74" cy="138.13" rx="6.05" ry="5.8" fill="#ffa000" stroke="#6e1a00" stroke-width="0.6"/><path d="M612.39 141.59 L615.74 133.14 L619.1 141.59 Z" fill="#ffc400" stroke="#8a3000" stroke-width="0.35"/><ellipse cx="561.43" cy="138.94" rx="6.06" ry="5.81" fill="#ffa000" stroke="#6e1a00" stroke-width="0.6"/><path d="M558.07 142.41 L561.43 133.95 L564.79 142.41 Z" fill="#ffc400" stroke="#8a3000" stroke-width="0.35"/><ellipse cx="631.11" cy="139.55" rx="6.07" ry="5.82" fill="#ffa000" stroke="#6e1a00" stroke-width="0.6"/><path d="M627.74 143.02 L631.11 134.55 L634.48 143.02 Z" fill="#ffc400" stroke="#8a3000" stroke-width="0.35"/><ellipse cx="576.84" cy="140.37" rx="6.08" ry="5.83" fill="#ffa000" stroke="#6e1a00" stroke-width="0.6"/><path d="M573.47 143.85 L576.84 135.36 L580.21 143.85 Z" fill="#ffc400" stroke="#8a3000" stroke-width="0.35"/><ellipse cx="646.48" cy="140.97" rx="6.09" ry="5.83" fill="#ffa000" stroke="#6e1a00" stroke-width="0.6"/><path d="M643.11 144.45 L646.48 135.96 L649.86 144.45 Z" fill="#ffc400" stroke="#8a3000" stroke-width="0.35"/><ellipse cx="522.13" cy="141.2" rx="6.09" ry="5.83" fill="#ffa000" stroke="#6e1a00" stroke-width="0.6"/><path d="M518.75 144.68 L522.13 136.18 L525.51 144.68 Z" fill="#ffc400" stroke="#8a3000" stroke-width="0.35"/><ellipse cx="592.26" cy="141.8" rx="6.1" ry="5.84" fill="#ffa000" stroke="#6e1a00" stroke-width="0.6"/><path d="M588.88 145.29 L592.26 136.78 L595.64 145.29 Z" fill="#ffc400" stroke="#8a3000" stroke-width="0.35"/><ellipse cx="537.6" cy="142.63" rx="6.11" ry="5.85" fill="#ffa000" stroke="#6e1a00" stroke-width="0.6"/><path d="M534.21 146.12 L537.6 137.6 L540.99 146.12 Z" fill="#ffc400" stroke="#8a3000" stroke-width="0.35"/><ellipse cx="607.69" cy="143.23" rx="6.11" ry="5.86" fill="#ffa000" stroke="#6e1a00" stroke-width="0.6"/><path d="M604.3 146.72 L607.69 138.19 L611.08 146.72 Z" fill="#ffc400" stroke="#8a3000" stroke-width="0.35"/><ellipse cx="553.08" cy="144.07" rx="6.12" ry="5.87" fill="#ffa000" stroke="#6e1a00" stroke-width="0.6"/><path d="M549.68 147.57 L553.08 139.03 L556.48 147.57 Z" fill="#ffc400" stroke="#8a3000" stroke-width="0.35"/><ellipse cx="623.13" cy="144.66" rx="6.13" ry="5.87" fill="#ffa000" stroke="#6e1a00" stroke-width="0.6"/><path d="M619.73 148.16 L623.13 139.61 L626.53 148.16 Z" fill="#ffc400" stroke="#8a3000" stroke-width="0.35"/><ellipse cx="568.56" cy="145.51" rx="6.14" ry="5.88" fill="#ffa000" stroke="#6e1a00" stroke-width="0.6"/><path d="M565.16 149.02 L568.56 140.45 L571.97 149.02 Z" fill="#ffc400" stroke="#8a3000" stroke-width="0.35"/><ellipse cx="638.58" cy="146.09" rx="6.15" ry="5.89" fill="#ffa000" stroke="#6e1a00" stroke-width="0.6"/><path d="M635.17 149.6 L638.58 141.03 L641.99 149.6 Z" fill="#ffc400" stroke="#8a3000" stroke-width="0.35"/><ellipse cx="584.06" cy="146.94" rx="6.16" ry="5.9" fill="#ffa000" stroke="#6e1a00" stroke-width="0.6"/><path d="M580.64 150.46 L584.06 141.87 L587.47 150.46 Z" fill="#ffc400" stroke="#8a3000" stroke-width="0.35"/><ellipse cx="529.1" cy="147.8" rx="6.17" ry="5.91" fill="#ffa000" stroke="#6e1a00" stroke-width="0.6"/><path d="M525.67 151.33 L529.1 142.72 L532.52 151.33 Z" fill="#ffc400" stroke="#8a3000" stroke-width="0.35"/><ellipse cx="599.56" cy="148.38" rx="6.18" ry="5.92" fill="#ffa000" stroke="#6e1a00" stroke-width="0.6"/><path d="M596.14 151.91 L599.56 143.29 L602.99 151.91 Z" fill="#ffc400" stroke="#8a3000" stroke-width="0.35"/><ellipse cx="544.65" cy="149.25" rx="6.19" ry="5.93" fill="#ffa000" stroke="#6e1a00" stroke-width="0.6"/><path d="M541.22 152.78 L544.65 144.15 L548.08 152.78 Z" fill="#ffc400" stroke="#8a3000" stroke-width="0.35"/><ellipse cx="615.07" cy="149.82" rx="6.19" ry="5.93" fill="#ffa000" stroke="#6e1a00" stroke-width="0.6"/><path d="M611.64 153.36 L615.07 144.72 L618.51 153.36 Z" fill="#ffc400" stroke="#8a3000" stroke-width="0.35"/><ellipse cx="560.21" cy="150.69" rx="6.2" ry="5.94" fill="#ffa000" stroke="#6e1a00" stroke-width="0.6"/><path d="M556.77 154.23 L560.21 145.58 L563.65 154.23 Z" fill="#ffc400" stroke="#8a3000" stroke-width="0.35"/><ellipse cx="630.59" cy="151.26" rx="6.21" ry="5.95" fill="#ffa000" stroke="#6e1a00" stroke-width="0.6"/><path d="M627.15 154.81 L630.59 146.14 L634.04 154.81 Z" fill="#ffc400" stroke="#8a3000" stroke-width="0.35"/><ellipse cx="575.77" cy="152.14" rx="6.22" ry="5.96" fill="#ffa000" stroke="#6e1a00" stroke-width="0.6"/><path d="M572.32 155.69 L575.77 147.01 L579.22 155.69 Z" fill="#ffc400" stroke="#8a3000" stroke-width="0.35"/><ellipse cx="646.12" cy="152.7" rx="6.23" ry="5.97" fill="#ffa000" stroke="#6e1a00" stroke-width="0.6"/><path d="M642.67 156.26 L646.12 147.57 L649.57 156.26 Z" fill="#ffc400" stroke="#8a3000" stroke-width="0.35"/><ellipse cx="591.35" cy="153.58" rx="6.24" ry="5.98" fill="#ffa000" stroke="#6e1a00" stroke-width="0.6"/><path d="M587.89 157.15 L591.35 148.44 L594.81 157.15 Z" fill="#ffc400" stroke="#8a3000" stroke-width="0.35"/><ellipse cx="536.13" cy="154.47" rx="6.25" ry="5.99" fill="#ffa000" stroke="#6e1a00" stroke-width="0.6"/><path d="M532.67 158.04 L536.13 149.33 L539.6 158.04 Z" fill="#ffc400" stroke="#8a3000" stroke-width="0.35"/><ellipse cx="606.94" cy="155.03" rx="6.25" ry="5.99" fill="#ffa000" stroke="#6e1a00" stroke-width="0.6"/><path d="M603.47 158.6 L606.94 149.88 L610.4 158.6 Z" fill="#ffc400" stroke="#8a3000" stroke-width="0.35"/><ellipse cx="551.77" cy="155.93" rx="6.27" ry="6" fill="#ffa000" stroke="#6e1a00" stroke-width="0.6"/><path d="M548.29 159.51 L551.77 150.77 L555.24 159.51 Z" fill="#ffc400" stroke="#8a3000" stroke-width="0.35"/><ellipse cx="622.53" cy="156.48" rx="6.27" ry="6.01" fill="#ffa000" stroke="#6e1a00" stroke-width="0.6"/><path d="M619.05 160.06 L622.53 151.31 L626.01 160.06 Z" fill="#ffc400" stroke="#8a3000" stroke-width="0.35"/><ellipse cx="567.41" cy="157.38" rx="6.28" ry="6.02" fill="#ffa000" stroke="#6e1a00" stroke-width="0.6"/><path d="M563.92 160.97 L567.41 152.2 L570.89 160.97 Z" fill="#ffc400" stroke="#8a3000" stroke-width="0.35"/><ellipse cx="638.13" cy="157.93" rx="6.29" ry="6.03" fill="#ffa000" stroke="#6e1a00" stroke-width="0.6"/><path d="M634.64 161.52 L638.13 152.75 L641.62 161.52 Z" fill="#ffc400" stroke="#8a3000" stroke-width="0.35"/><ellipse cx="583.06" cy="158.83" rx="6.3" ry="6.04" fill="#ffa000" stroke="#6e1a00" stroke-width="0.6"/><path d="M579.57 162.43 L583.06 153.65 L586.55 162.43 Z" fill="#ffc400" stroke="#8a3000" stroke-width="0.35"/><ellipse cx="598.72" cy="160.29" rx="6.32" ry="6.05" fill="#ffa000" stroke="#6e1a00" stroke-width="0.6"/><path d="M595.21 163.9 L598.72 155.09 L602.22 163.9 Z" fill="#ffc400" stroke="#8a3000" stroke-width="0.35"/><ellipse cx="543.24" cy="161.21" rx="6.33" ry="6.06" fill="#ffa000" stroke="#6e1a00" stroke-width="0.6"/><path d="M539.73 164.83 L543.24 156 L546.75 164.83 Z" fill="#ffc400" stroke="#8a3000" stroke-width="0.35"/><ellipse cx="614.39" cy="161.75" rx="6.33" ry="6.07" fill="#ffa000" stroke="#6e1a00" stroke-width="0.6"/><path d="M610.87 165.37 L614.39 156.53 L617.9 165.37 Z" fill="#ffc400" stroke="#8a3000" stroke-width="0.35"/><ellipse cx="558.96" cy="162.67" rx="6.35" ry="6.08" fill="#ffa000" stroke="#6e1a00" stroke-width="0.6"/><path d="M555.44 166.3 L558.96 157.45 L562.48 166.3 Z" fill="#ffc400" stroke="#8a3000" stroke-width="0.35"/><ellipse cx="630.06" cy="163.2" rx="6.35" ry="6.09" fill="#ffa000" stroke="#6e1a00" stroke-width="0.6"/><path d="M626.54 166.83 L630.06 157.97 L633.59 166.83 Z" fill="#ffc400" stroke="#8a3000" stroke-width="0.35"/><ellipse cx="574.69" cy="164.14" rx="6.36" ry="6.1" fill="#ffa000" stroke="#6e1a00" stroke-width="0.6"/><path d="M571.16 167.77 L574.69 158.9 L578.22 167.77 Z" fill="#ffc400" stroke="#8a3000" stroke-width="0.35"/><ellipse cx="590.42" cy="165.6" rx="6.38" ry="6.11" fill="#ffa000" stroke="#6e1a00" stroke-width="0.6"/><path d="M586.88 169.25 L590.42 160.35 L593.96 169.25 Z" fill="#ffc400" stroke="#8a3000" stroke-width="0.35"/><ellipse cx="534.63" cy="166.55" rx="6.39" ry="6.12" fill="#ffa000" stroke="#6e1a00" stroke-width="0.6"/><path d="M531.09 170.2 L534.63 161.29 L538.18 170.2 Z" fill="#ffc400" stroke="#8a3000" stroke-width="0.35"/><ellipse cx="606.16" cy="167.07" rx="6.4" ry="6.13" fill="#ffa000" stroke="#6e1a00" stroke-width="0.6"/><path d="M602.62 170.72 L606.16 161.8 L609.71 170.72 Z" fill="#ffc400" stroke="#8a3000" stroke-width="0.35"/><ellipse cx="550.43" cy="168.02" rx="6.41" ry="6.14" fill="#ffa000" stroke="#6e1a00" stroke-width="0.6"/><path d="M546.87 171.69 L550.43 162.74 L553.98 171.69 Z" fill="#ffc400" stroke="#8a3000" stroke-width="0.35"/><ellipse cx="621.92" cy="168.53" rx="6.42" ry="6.15" fill="#ffa000" stroke="#6e1a00" stroke-width="0.6"/><path d="M618.36 172.2 L621.92 163.25 L625.47 172.2 Z" fill="#ffc400" stroke="#8a3000" stroke-width="0.35"/><ellipse cx="566.23" cy="169.5" rx="6.43" ry="6.16" fill="#ffa000" stroke="#6e1a00" stroke-width="0.6"/><path d="M562.66 173.17 L566.23 164.2 L569.79 173.17 Z" fill="#ffc400" stroke="#8a3000" stroke-width="0.35"/><ellipse cx="582.04" cy="170.97" rx="6.44" ry="6.17" fill="#ffa000" stroke="#6e1a00" stroke-width="0.6"/><path d="M578.47 174.65 L582.04 165.66 L585.61 174.65 Z" fill="#ffc400" stroke="#8a3000" stroke-width="0.35"/><ellipse cx="597.86" cy="172.44" rx="6.46" ry="6.19" fill="#ffa000" stroke="#6e1a00" stroke-width="0.6"/><path d="M594.27 176.13 L597.86 167.12 L601.44 176.13 Z" fill="#ffc400" stroke="#8a3000" stroke-width="0.35"/><ellipse cx="613.69" cy="173.92" rx="6.48" ry="6.21" fill="#ffa000" stroke="#6e1a00" stroke-width="0.6"/><path d="M610.09 177.62 L613.69 168.58 L617.28 177.62 Z" fill="#ffc400" stroke="#8a3000" stroke-width="0.35"/><ellipse cx="557.69" cy="174.91" rx="6.49" ry="6.22" fill="#ffa000" stroke="#6e1a00" stroke-width="0.6"/><path d="M554.09 178.62 L557.69 169.56 L561.29 178.62 Z" fill="#ffc400" stroke="#8a3000" stroke-width="0.35"/><ellipse cx="573.57" cy="176.39" rx="6.51" ry="6.24" fill="#ffa000" stroke="#6e1a00" stroke-width="0.6"/><path d="M569.96 180.11 L573.57 171.03 L577.18 180.11 Z" fill="#ffc400" stroke="#8a3000" stroke-width="0.35"/><ellipse cx="589.47" cy="177.87" rx="6.53" ry="6.25" fill="#ffa000" stroke="#6e1a00" stroke-width="0.6"/><path d="M585.85 181.6 L589.47 172.5 L593.09 181.6 Z" fill="#ffc400" stroke="#8a3000" stroke-width="0.35"/><ellipse cx="605.38" cy="179.35" rx="6.54" ry="6.27" fill="#ffa000" stroke="#6e1a00" stroke-width="0.6"/><path d="M601.75 183.09 L605.38 173.96 L609.01 183.09 Z" fill="#ffc400" stroke="#8a3000" stroke-width="0.35"/><ellipse cx="565.02" cy="181.86" rx="6.57" ry="6.3" fill="#ffa000" stroke="#6e1a00" stroke-width="0.6"/><path d="M561.38 185.62 L565.02 176.45 L568.67 185.62 Z" fill="#ffc400" stroke="#8a3000" stroke-width="0.35"/><ellipse cx="581" cy="183.35" rx="6.59" ry="6.32" fill="#ffa000" stroke="#6e1a00" stroke-width="0.6"/><path d="M577.34 187.12 L581 177.92 L584.65 187.12 Z" fill="#ffc400" stroke="#8a3000" stroke-width="0.35"/><ellipse cx="596.98" cy="184.85" rx="6.61" ry="6.33" fill="#ffa000" stroke="#6e1a00" stroke-width="0.6"/><path d="M593.31 188.62 L596.98 179.4 L600.65 188.62 Z" fill="#ffc400" stroke="#8a3000" stroke-width="0.35"/><line x1="541.2" y1="80.6" x2="633.4" y2="182" stroke="#c80c0c" stroke-width="3.3" /><line x1="638.2" y1="90.3" x2="531.5" y2="170.6" stroke="#c80c0c" stroke-width="3.3" /><path d="M539 84 L540.8 78.8 L545 83 Z" fill="#d81010"/><path d="M640.5 93.5 L640.2 88 L635 91 Z" fill="#d81010"/><text x="479.9" y="133.4" font-size="6.3" fill="#555555" text-anchor="middle" >1</text><text x="502" y="157.2" font-size="6.3" fill="#555555" text-anchor="middle" >0.5</text><text x="525" y="182.2" font-size="6.3" fill="#555555" text-anchor="middle" >0</text><text x="549.5" y="207.8" font-size="6.3" fill="#555555" text-anchor="middle" >-0.5</text><text x="574.2" y="235.2" font-size="6.3" fill="#555555" text-anchor="middle" >-1</text><text x="581.7" y="235.6" font-size="6.3" fill="#555555" text-anchor="middle" >-1</text><text x="610.4" y="214.3" font-size="6.3" fill="#555555" text-anchor="middle" >-0.5</text><text x="637.7" y="193.9" font-size="6.3" fill="#555555" text-anchor="middle" >0</text><text x="664.6" y="173.8" font-size="6.3" fill="#555555" text-anchor="middle" >0.5</text><text x="691" y="154.5" font-size="6.3" fill="#555555" text-anchor="middle" >1</text><text x="476.6" y="115.8" font-size="6.3" fill="#555555" text-anchor="middle" >0.2</text><text x="477.6" y="126.3" font-size="6.3" fill="#555555" text-anchor="middle" >0</text><line x1="482.3" y1="227.8" x2="475.2" y2="221" stroke="#00d848" stroke-width="1.0" /><line x1="477.9" y1="223.58" x2="475.2" y2="221" stroke="#00d848" stroke-width="2.0" stroke-linecap="round"/><line x1="482.3" y1="227.8" x2="490" y2="222.6" stroke="#ff2828" stroke-width="1.0" /><line x1="487.07" y1="224.58" x2="490" y2="222.6" stroke="#ff2828" stroke-width="2.0" stroke-linecap="round"/><line x1="482.3" y1="227.8" x2="482.6" y2="220.2" stroke="#1038e0" stroke-width="1.0" /><line x1="482.49" y1="223.09" x2="482.6" y2="220.2" stroke="#1038e0" stroke-width="2.0" stroke-linecap="round"/><text x="471.7" y="218.5" font-size="5.8" fill="#6a6a6a" text-anchor="middle" >y</text><text x="494.3" y="220.9" font-size="5.8" fill="#6a6a6a" text-anchor="middle" >x</text><text x="483.3" y="217.5" font-size="5.8" fill="#6a6a6a" text-anchor="middle" >z</text><text x="559.2" y="23.8" font-size="6.3" fill="#555555" textLength="83.4" lengthAdjust="spacingAndGlyphs">Multislice: Electric potential (V)</text><rect x="745.7" y="15" width="6.4" height="5.0" rx="1.2" fill="#2450a4"/><rect x="749.6" y="15.7" width="1.8" height="3.6" fill="#4a86d8"/><rect x="747" y="16.1" width="2.4" height="2.8" fill="#d4efd0"/><rect x="716.5" y="51.8" width="6.5" height="169.2" fill="url(#jet)"/><line x1="721.5" y1="221" x2="723" y2="221" stroke="#333" stroke-width="0.4" /><text x="726.4" y="223.2" font-size="6.3" fill="#555555" text-anchor="start" >0</text><line x1="721.5" y1="191.88" x2="723" y2="191.88" stroke="#333" stroke-width="0.4" /><text x="726.4" y="194.08" font-size="6.3" fill="#555555" text-anchor="start" >2</text><line x1="721.5" y1="162.76" x2="723" y2="162.76" stroke="#333" stroke-width="0.4" /><text x="726.4" y="164.96" font-size="6.3" fill="#555555" text-anchor="start" >4</text><line x1="721.5" y1="133.64" x2="723" y2="133.64" stroke="#333" stroke-width="0.4" /><text x="726.4" y="135.84" font-size="6.3" fill="#555555" text-anchor="start" >6</text><line x1="721.5" y1="104.52" x2="723" y2="104.52" stroke="#333" stroke-width="0.4" /><text x="726.4" y="106.72" font-size="6.3" fill="#555555" text-anchor="start" >8</text><line x1="721.5" y1="75.4" x2="723" y2="75.4" stroke="#333" stroke-width="0.4" /><text x="726.4" y="77.6" font-size="6.3" fill="#555555" text-anchor="start" >10</text><path d="M710.4 39.9 l2.3 -4.4 l2.3 4.4z" fill="#111"/><text x="716.9" y="39.9" font-size="6.3" fill="#555555" text-anchor="start" >11.6</text><path d="M710.4 227.8 l2.3 4.4 l2.3 -4.4z" fill="#111"/><text x="716.9" y="232.2" font-size="6.3" fill="#555555" text-anchor="start" >0</text></g>
<g filter="url(#bl3)"><line x1="89.3" y1="383.9" x2="189.7" y2="308.6" stroke="#a4a4a4" stroke-width="0.7" /><line x1="89.3" y1="383.9" x2="172.2" y2="487.2" stroke="#a4a4a4" stroke-width="0.7" /><line x1="109.23" y1="408.73" x2="209.95" y2="331.38" stroke="#a4a4a4" stroke-width="0.7" /><line x1="115.27" y1="364.42" x2="198.53" y2="465.43" stroke="#a4a4a4" stroke-width="0.7" /><line x1="129.67" y1="434.21" x2="230.71" y2="354.73" stroke="#a4a4a4" stroke-width="0.7" /><line x1="140.65" y1="345.39" x2="224.23" y2="444.19" stroke="#a4a4a4" stroke-width="0.7" /><line x1="150.66" y1="460.35" x2="251.98" y2="378.66" stroke="#a4a4a4" stroke-width="0.7" /><line x1="165.45" y1="326.78" x2="249.31" y2="423.45" stroke="#a4a4a4" stroke-width="0.7" /><line x1="172.2" y1="487.2" x2="273.8" y2="403.2" stroke="#a4a4a4" stroke-width="0.7" /><line x1="189.7" y1="308.6" x2="273.8" y2="403.2" stroke="#a4a4a4" stroke-width="0.7" /><path d="M86.1 377.6 L86.1 370.6 L187.7 294.5 L187.2 302.1 Z" fill="#e6e6e6"/><line x1="86.1" y1="377.6" x2="86.1" y2="370.6" stroke="#d0d0d0" stroke-width="0.35" /><line x1="87.78" y1="376.34" x2="87.79" y2="369.33" stroke="#d0d0d0" stroke-width="0.35" /><line x1="89.47" y1="375.08" x2="89.49" y2="368.06" stroke="#d0d0d0" stroke-width="0.35" /><line x1="91.16" y1="373.83" x2="91.18" y2="366.8" stroke="#d0d0d0" stroke-width="0.35" /><line x1="92.84" y1="372.57" x2="92.87" y2="365.53" stroke="#d0d0d0" stroke-width="0.35" /><line x1="94.52" y1="371.31" x2="94.57" y2="364.26" stroke="#d0d0d0" stroke-width="0.35" /><line x1="96.21" y1="370.05" x2="96.26" y2="362.99" stroke="#d0d0d0" stroke-width="0.35" /><line x1="97.89" y1="368.79" x2="97.95" y2="361.72" stroke="#d0d0d0" stroke-width="0.35" /><line x1="99.58" y1="367.53" x2="99.65" y2="360.45" stroke="#d0d0d0" stroke-width="0.35" /><line x1="101.26" y1="366.28" x2="101.34" y2="359.19" stroke="#d0d0d0" stroke-width="0.35" /><line x1="102.95" y1="365.02" x2="103.03" y2="357.92" stroke="#d0d0d0" stroke-width="0.35" /><line x1="104.63" y1="363.76" x2="104.73" y2="356.65" stroke="#d0d0d0" stroke-width="0.35" /><line x1="106.32" y1="362.5" x2="106.42" y2="355.38" stroke="#d0d0d0" stroke-width="0.35" /><line x1="108" y1="361.24" x2="108.11" y2="354.11" stroke="#d0d0d0" stroke-width="0.35" /><line x1="109.69" y1="359.98" x2="109.81" y2="352.84" stroke="#d0d0d0" stroke-width="0.35" /><line x1="111.38" y1="358.73" x2="111.5" y2="351.58" stroke="#d0d0d0" stroke-width="0.35" /><line x1="113.06" y1="357.47" x2="113.19" y2="350.31" stroke="#d0d0d0" stroke-width="0.35" /><line x1="114.74" y1="356.21" x2="114.89" y2="349.04" stroke="#d0d0d0" stroke-width="0.35" /><line x1="116.43" y1="354.95" x2="116.58" y2="347.77" stroke="#d0d0d0" stroke-width="0.35" /><line x1="118.11" y1="353.69" x2="118.27" y2="346.5" stroke="#d0d0d0" stroke-width="0.35" /><line x1="119.8" y1="352.43" x2="119.97" y2="345.23" stroke="#d0d0d0" stroke-width="0.35" /><line x1="121.48" y1="351.18" x2="121.66" y2="343.97" stroke="#d0d0d0" stroke-width="0.35" /><line x1="123.17" y1="349.92" x2="123.35" y2="342.7" stroke="#d0d0d0" stroke-width="0.35" /><line x1="124.85" y1="348.66" x2="125.05" y2="341.43" stroke="#d0d0d0" stroke-width="0.35" /><line x1="126.54" y1="347.4" x2="126.74" y2="340.16" stroke="#d0d0d0" stroke-width="0.35" /><line x1="128.22" y1="346.14" x2="128.43" y2="338.89" stroke="#d0d0d0" stroke-width="0.35" /><line x1="129.91" y1="344.88" x2="130.13" y2="337.62" stroke="#d0d0d0" stroke-width="0.35" /><line x1="131.59" y1="343.62" x2="131.82" y2="336.36" stroke="#d0d0d0" stroke-width="0.35" /><line x1="133.28" y1="342.37" x2="133.51" y2="335.09" stroke="#d0d0d0" stroke-width="0.35" /><line x1="134.96" y1="341.11" x2="135.21" y2="333.82" stroke="#d0d0d0" stroke-width="0.35" /><line x1="136.65" y1="339.85" x2="136.9" y2="332.55" stroke="#d0d0d0" stroke-width="0.35" /><line x1="138.33" y1="338.59" x2="138.59" y2="331.28" stroke="#d0d0d0" stroke-width="0.35" /><line x1="140.02" y1="337.33" x2="140.29" y2="330.01" stroke="#d0d0d0" stroke-width="0.35" /><line x1="141.7" y1="336.08" x2="141.98" y2="328.75" stroke="#d0d0d0" stroke-width="0.35" /><line x1="143.39" y1="334.82" x2="143.67" y2="327.48" stroke="#d0d0d0" stroke-width="0.35" /><line x1="145.07" y1="333.56" x2="145.37" y2="326.21" stroke="#d0d0d0" stroke-width="0.35" /><line x1="146.76" y1="332.3" x2="147.06" y2="324.94" stroke="#d0d0d0" stroke-width="0.35" /><line x1="148.44" y1="331.04" x2="148.75" y2="323.67" stroke="#d0d0d0" stroke-width="0.35" /><line x1="150.13" y1="329.78" x2="150.45" y2="322.4" stroke="#d0d0d0" stroke-width="0.35" /><line x1="151.81" y1="328.53" x2="152.14" y2="321.13" stroke="#d0d0d0" stroke-width="0.35" /><line x1="153.5" y1="327.27" x2="153.83" y2="319.87" stroke="#d0d0d0" stroke-width="0.35" /><line x1="155.19" y1="326.01" x2="155.53" y2="318.6" stroke="#d0d0d0" stroke-width="0.35" /><line x1="156.87" y1="324.75" x2="157.22" y2="317.33" stroke="#d0d0d0" stroke-width="0.35" /><line x1="158.56" y1="323.49" x2="158.91" y2="316.06" stroke="#d0d0d0" stroke-width="0.35" /><line x1="160.24" y1="322.23" x2="160.61" y2="314.79" stroke="#d0d0d0" stroke-width="0.35" /><line x1="161.92" y1="320.98" x2="162.3" y2="313.52" stroke="#d0d0d0" stroke-width="0.35" /><line x1="163.61" y1="319.72" x2="163.99" y2="312.26" stroke="#d0d0d0" stroke-width="0.35" /><line x1="165.29" y1="318.46" x2="165.69" y2="310.99" stroke="#d0d0d0" stroke-width="0.35" /><line x1="166.98" y1="317.2" x2="167.38" y2="309.72" stroke="#d0d0d0" stroke-width="0.35" /><line x1="168.66" y1="315.94" x2="169.07" y2="308.45" stroke="#d0d0d0" stroke-width="0.35" /><line x1="170.35" y1="314.68" x2="170.77" y2="307.18" stroke="#d0d0d0" stroke-width="0.35" /><line x1="172.03" y1="313.43" x2="172.46" y2="305.92" stroke="#d0d0d0" stroke-width="0.35" /><line x1="173.72" y1="312.17" x2="174.15" y2="304.65" stroke="#d0d0d0" stroke-width="0.35" /><line x1="175.4" y1="310.91" x2="175.85" y2="303.38" stroke="#d0d0d0" stroke-width="0.35" /><line x1="177.09" y1="309.65" x2="177.54" y2="302.11" stroke="#d0d0d0" stroke-width="0.35" /><line x1="178.77" y1="308.39" x2="179.23" y2="300.84" stroke="#d0d0d0" stroke-width="0.35" /><line x1="180.46" y1="307.13" x2="180.93" y2="299.57" stroke="#d0d0d0" stroke-width="0.35" /><line x1="182.14" y1="305.88" x2="182.62" y2="298.31" stroke="#d0d0d0" stroke-width="0.35" /><line x1="183.83" y1="304.62" x2="184.31" y2="297.04" stroke="#d0d0d0" stroke-width="0.35" /><line x1="185.51" y1="303.36" x2="186.01" y2="295.77" stroke="#d0d0d0" stroke-width="0.35" /><line x1="187.2" y1="302.1" x2="187.7" y2="294.5" stroke="#d0d0d0" stroke-width="0.35" /><line x1="86.1" y1="377.6" x2="86.1" y2="370.6" stroke="#aaa" stroke-width="0.5" /><line x1="111.38" y1="358.73" x2="111.5" y2="351.58" stroke="#aaa" stroke-width="0.5" /><line x1="136.65" y1="339.85" x2="136.9" y2="332.55" stroke="#aaa" stroke-width="0.5" /><line x1="161.92" y1="320.98" x2="162.3" y2="313.52" stroke="#aaa" stroke-width="0.5" /><line x1="187.2" y1="302.1" x2="187.7" y2="294.5" stroke="#aaa" stroke-width="0.5" /><path d="M193.2 302.1 L193.4 295.1 L279.8 391.6 L277.5 397.3 Z" fill="#e6e6e6"/><line x1="193.2" y1="302.1" x2="193.4" y2="295.1" stroke="#d0d0d0" stroke-width="0.35" /><line x1="194.6" y1="303.69" x2="194.84" y2="296.71" stroke="#d0d0d0" stroke-width="0.35" /><line x1="196.01" y1="305.27" x2="196.28" y2="298.32" stroke="#d0d0d0" stroke-width="0.35" /><line x1="197.41" y1="306.86" x2="197.72" y2="299.93" stroke="#d0d0d0" stroke-width="0.35" /><line x1="198.82" y1="308.45" x2="199.16" y2="301.53" stroke="#d0d0d0" stroke-width="0.35" /><line x1="200.22" y1="310.03" x2="200.6" y2="303.14" stroke="#d0d0d0" stroke-width="0.35" /><line x1="201.63" y1="311.62" x2="202.04" y2="304.75" stroke="#d0d0d0" stroke-width="0.35" /><line x1="203.03" y1="313.21" x2="203.48" y2="306.36" stroke="#d0d0d0" stroke-width="0.35" /><line x1="204.44" y1="314.79" x2="204.92" y2="307.97" stroke="#d0d0d0" stroke-width="0.35" /><line x1="205.84" y1="316.38" x2="206.36" y2="309.58" stroke="#d0d0d0" stroke-width="0.35" /><line x1="207.25" y1="317.97" x2="207.8" y2="311.18" stroke="#d0d0d0" stroke-width="0.35" /><line x1="208.66" y1="319.55" x2="209.24" y2="312.79" stroke="#d0d0d0" stroke-width="0.35" /><line x1="210.06" y1="321.14" x2="210.68" y2="314.4" stroke="#d0d0d0" stroke-width="0.35" /><line x1="211.47" y1="322.73" x2="212.12" y2="316.01" stroke="#d0d0d0" stroke-width="0.35" /><line x1="212.87" y1="324.31" x2="213.56" y2="317.62" stroke="#d0d0d0" stroke-width="0.35" /><line x1="214.27" y1="325.9" x2="215" y2="319.23" stroke="#d0d0d0" stroke-width="0.35" /><line x1="215.68" y1="327.49" x2="216.44" y2="320.83" stroke="#d0d0d0" stroke-width="0.35" /><line x1="217.08" y1="329.07" x2="217.88" y2="322.44" stroke="#d0d0d0" stroke-width="0.35" /><line x1="218.49" y1="330.66" x2="219.32" y2="324.05" stroke="#d0d0d0" stroke-width="0.35" /><line x1="219.89" y1="332.25" x2="220.76" y2="325.66" stroke="#d0d0d0" stroke-width="0.35" /><line x1="221.3" y1="333.83" x2="222.2" y2="327.27" stroke="#d0d0d0" stroke-width="0.35" /><line x1="222.7" y1="335.42" x2="223.64" y2="328.88" stroke="#d0d0d0" stroke-width="0.35" /><line x1="224.11" y1="337.01" x2="225.08" y2="330.48" stroke="#d0d0d0" stroke-width="0.35" /><line x1="225.51" y1="338.59" x2="226.52" y2="332.09" stroke="#d0d0d0" stroke-width="0.35" /><line x1="226.92" y1="340.18" x2="227.96" y2="333.7" stroke="#d0d0d0" stroke-width="0.35" /><line x1="228.32" y1="341.77" x2="229.4" y2="335.31" stroke="#d0d0d0" stroke-width="0.35" /><line x1="229.73" y1="343.35" x2="230.84" y2="336.92" stroke="#d0d0d0" stroke-width="0.35" /><line x1="231.13" y1="344.94" x2="232.28" y2="338.53" stroke="#d0d0d0" stroke-width="0.35" /><line x1="232.54" y1="346.53" x2="233.72" y2="340.13" stroke="#d0d0d0" stroke-width="0.35" /><line x1="233.94" y1="348.11" x2="235.16" y2="341.74" stroke="#d0d0d0" stroke-width="0.35" /><line x1="235.35" y1="349.7" x2="236.6" y2="343.35" stroke="#d0d0d0" stroke-width="0.35" /><line x1="236.75" y1="351.29" x2="238.04" y2="344.96" stroke="#d0d0d0" stroke-width="0.35" /><line x1="238.16" y1="352.87" x2="239.48" y2="346.57" stroke="#d0d0d0" stroke-width="0.35" /><line x1="239.56" y1="354.46" x2="240.92" y2="348.18" stroke="#d0d0d0" stroke-width="0.35" /><line x1="240.97" y1="356.05" x2="242.36" y2="349.78" stroke="#d0d0d0" stroke-width="0.35" /><line x1="242.38" y1="357.63" x2="243.8" y2="351.39" stroke="#d0d0d0" stroke-width="0.35" /><line x1="243.78" y1="359.22" x2="245.24" y2="353" stroke="#d0d0d0" stroke-width="0.35" /><line x1="245.19" y1="360.81" x2="246.68" y2="354.61" stroke="#d0d0d0" stroke-width="0.35" /><line x1="246.59" y1="362.39" x2="248.12" y2="356.22" stroke="#d0d0d0" stroke-width="0.35" /><line x1="248" y1="363.98" x2="249.56" y2="357.83" stroke="#d0d0d0" stroke-width="0.35" /><line x1="249.4" y1="365.57" x2="251" y2="359.43" stroke="#d0d0d0" stroke-width="0.35" /><line x1="250.81" y1="367.15" x2="252.44" y2="361.04" stroke="#d0d0d0" stroke-width="0.35" /><line x1="252.21" y1="368.74" x2="253.88" y2="362.65" stroke="#d0d0d0" stroke-width="0.35" /><line x1="253.62" y1="370.33" x2="255.32" y2="364.26" stroke="#d0d0d0" stroke-width="0.35" /><line x1="255.02" y1="371.91" x2="256.76" y2="365.87" stroke="#d0d0d0" stroke-width="0.35" /><line x1="256.43" y1="373.5" x2="258.2" y2="367.48" stroke="#d0d0d0" stroke-width="0.35" /><line x1="257.83" y1="375.09" x2="259.64" y2="369.08" stroke="#d0d0d0" stroke-width="0.35" /><line x1="259.24" y1="376.67" x2="261.08" y2="370.69" stroke="#d0d0d0" stroke-width="0.35" /><line x1="260.64" y1="378.26" x2="262.52" y2="372.3" stroke="#d0d0d0" stroke-width="0.35" /><line x1="262.05" y1="379.85" x2="263.96" y2="373.91" stroke="#d0d0d0" stroke-width="0.35" /><line x1="263.45" y1="381.43" x2="265.4" y2="375.52" stroke="#d0d0d0" stroke-width="0.35" /><line x1="264.86" y1="383.02" x2="266.84" y2="377.12" stroke="#d0d0d0" stroke-width="0.35" /><line x1="266.26" y1="384.61" x2="268.28" y2="378.73" stroke="#d0d0d0" stroke-width="0.35" /><line x1="267.66" y1="386.19" x2="269.72" y2="380.34" stroke="#d0d0d0" stroke-width="0.35" /><line x1="269.07" y1="387.78" x2="271.16" y2="381.95" stroke="#d0d0d0" stroke-width="0.35" /><line x1="270.48" y1="389.37" x2="272.6" y2="383.56" stroke="#d0d0d0" stroke-width="0.35" /><line x1="271.88" y1="390.95" x2="274.04" y2="385.17" stroke="#d0d0d0" stroke-width="0.35" /><line x1="273.28" y1="392.54" x2="275.48" y2="386.78" stroke="#d0d0d0" stroke-width="0.35" /><line x1="274.69" y1="394.13" x2="276.92" y2="388.38" stroke="#d0d0d0" stroke-width="0.35" /><line x1="276.1" y1="395.71" x2="278.36" y2="389.99" stroke="#d0d0d0" stroke-width="0.35" /><line x1="277.5" y1="397.3" x2="279.8" y2="391.6" stroke="#d0d0d0" stroke-width="0.35" /><line x1="193.2" y1="302.1" x2="193.4" y2="295.1" stroke="#aaa" stroke-width="0.5" /><line x1="214.27" y1="325.9" x2="215" y2="319.23" stroke="#aaa" stroke-width="0.5" /><line x1="235.35" y1="349.7" x2="236.6" y2="343.35" stroke="#aaa" stroke-width="0.5" /><line x1="256.43" y1="373.5" x2="258.2" y2="367.48" stroke="#aaa" stroke-width="0.5" /><line x1="277.5" y1="397.3" x2="279.8" y2="391.6" stroke="#aaa" stroke-width="0.5" /></g><g filter="url(#bl)"><path d="M226.41 436.92 L229.06 434.63 L231.58 432.2 L233.95 429.64 L236.17 426.98 L238.23 424.2 L240.13 421.32 L241.87 418.36 L243.43 415.31 L244.82 412.19 L246.04 409.01 L247.07 405.77 L247.92 402.49 L248.59 399.18 L249.07 395.84 L249.38 392.48 L249.49 389.12 L249.42 385.76 L249.18 382.41 L248.75 379.08 L248.14 375.78 L247.35 372.52 L246.4 369.31 L245.27 366.15 L243.98 363.06 L242.53 360.03 L240.92 357.09 L239.15 354.23 L237.24 351.46 L235.2 348.79 L233.01 346.23 L230.7 343.78 L228.26 341.44 L225.71 339.23 L223.05 337.15 L220.28 335.2 L217.42 333.39 L214.47 331.72 L211.45 330.2 L208.35 328.82 L205.18 327.6 L201.96 326.53 L198.69 325.62 L195.39 324.87 L192.04 324.28 L188.68 323.85 L185.3 323.59 L181.91 323.49 L178.52 323.55 L175.14 323.78 L171.78 324.18 L168.45 324.73 L165.14 325.45 L161.89 326.33 L158.68 327.36 L155.53 328.56 L152.45 329.9 L149.44 331.4 L146.52 333.04 L143.68 334.83 L140.94 336.76 L138.31 338.82 L135.79 341.02 L133.39 343.34 L131.11 345.78 L128.97 348.33 L126.96 350.99 L125.1 353.75 L123.38 356.61 L121.82 359.56 L120.42 362.58 L119.19 365.68 L118.12 368.85 L117.22 372.07 L116.5 375.34 L115.96 378.65 L115.6 381.99 L115.42 385.35 L115.43 388.73 L115.62 392.11 L115.99 395.48 L116.56 398.84 L117.3 402.17 L118.23 405.47 L119.35 408.73 L120.64 411.93 L122.11 415.07 L123.76 418.13 L125.57 421.12 L127.55 424.01 L129.69 426.8 L131.98 429.49 L134.42 432.06 L137.01 434.5 L139.73 436.81 L142.57 438.99 L145.54 441.01 L148.61 442.89 L151.79 444.6 L155.06 446.15 L158.41 447.53 L161.83 448.73 L165.32 449.76 L168.85 450.6 L172.43 451.26 L176.04 451.73 L179.66 452.02 L183.3 452.12 L186.93 452.03 L190.55 451.75 L194.14 451.28 L197.7 450.62 L201.21 449.78 L204.66 448.77 L208.05 447.57 L211.36 446.2 L214.58 444.66 L217.7 442.96 L220.72 441.1 L223.63 439.08 Z M226.41 446.92 L229.06 444.63 L231.58 442.2 L233.95 439.64 L236.17 436.98 L238.23 434.2 L240.13 431.32 L241.87 428.36 L243.43 425.31 L244.82 422.19 L246.04 419.01 L247.07 415.77 L247.92 412.49 L248.59 409.18 L249.07 405.84 L249.38 402.48 L249.49 399.12 L249.42 395.76 L249.18 392.41 L248.75 389.08 L248.14 385.78 L247.35 382.52 L246.4 379.31 L245.27 376.15 L243.98 373.06 L242.53 370.03 L240.92 367.09 L239.15 364.23 L237.24 361.46 L235.2 358.79 L233.01 356.23 L230.7 353.78 L228.26 351.44 L225.71 349.23 L223.05 347.15 L220.28 345.2 L217.42 343.39 L214.47 341.72 L211.45 340.2 L208.35 338.82 L205.18 337.6 L201.96 336.53 L198.69 335.62 L195.39 334.87 L192.04 334.28 L188.68 333.85 L185.3 333.59 L181.91 333.49 L178.52 333.55 L175.14 333.78 L171.78 334.18 L168.45 334.73 L165.14 335.45 L161.89 336.33 L158.68 337.36 L155.53 338.56 L152.45 339.9 L149.44 341.4 L146.52 343.04 L143.68 344.83 L140.94 346.76 L138.31 348.82 L135.79 351.02 L133.39 353.34 L131.11 355.78 L128.97 358.33 L126.96 360.99 L125.1 363.75 L123.38 366.61 L121.82 369.56 L120.42 372.58 L119.19 375.68 L118.12 378.85 L117.22 382.07 L116.5 385.34 L115.96 388.65 L115.6 391.99 L115.42 395.35 L115.43 398.73 L115.62 402.11 L115.99 405.48 L116.56 408.84 L117.3 412.17 L118.23 415.47 L119.35 418.73 L120.64 421.93 L122.11 425.07 L123.76 428.13 L125.57 431.12 L127.55 434.01 L129.69 436.8 L131.98 439.49 L134.42 442.06 L137.01 444.5 L139.73 446.81 L142.57 448.99 L145.54 451.01 L148.61 452.89 L151.79 454.6 L155.06 456.15 L158.41 457.53 L161.83 458.73 L165.32 459.76 L168.85 460.6 L172.43 461.26 L176.04 461.73 L179.66 462.02 L183.3 462.12 L186.93 462.03 L190.55 461.75 L194.14 461.28 L197.7 460.62 L201.21 459.78 L204.66 458.77 L208.05 457.57 L211.36 456.2 L214.58 454.66 L217.7 452.96 L220.72 451.1 L223.63 449.08 Z M249.49 389.12 L249.49 399.12 L115.42 395.35 L115.42 385.35 Z" fill="#fff" stroke="#555" stroke-width="0.9" transform="translate(0,-2.6)"/><path d="M225.88 436.3 L228.5 434.03 L230.98 431.63 L233.33 429.11 L235.52 426.47 L237.56 423.73 L239.44 420.89 L241.15 417.96 L242.7 414.95 L244.08 411.87 L245.28 408.73 L246.3 405.53 L247.14 402.29 L247.8 399.02 L248.28 395.72 L248.58 392.4 L248.7 389.08 L248.63 385.76 L248.39 382.45 L247.97 379.16 L247.37 375.9 L246.59 372.68 L245.65 369.5 L244.54 366.38 L243.26 363.32 L241.83 360.33 L240.24 357.42 L238.5 354.59 L236.61 351.85 L234.58 349.22 L232.43 346.68 L230.14 344.26 L227.73 341.95 L225.21 339.77 L222.58 337.71 L219.85 335.78 L217.02 333.99 L214.11 332.34 L211.12 330.83 L208.05 329.47 L204.93 328.26 L201.74 327.21 L198.51 326.31 L195.24 325.57 L191.94 324.98 L188.61 324.56 L185.27 324.3 L181.91 324.2 L178.57 324.26 L175.23 324.49 L171.9 324.88 L168.61 325.43 L165.34 326.14 L162.12 327.01 L158.95 328.03 L155.84 329.21 L152.8 330.54 L149.82 332.02 L146.93 333.65 L144.13 335.42 L141.42 337.32 L138.82 339.36 L136.33 341.53 L133.96 343.83 L131.71 346.24 L129.59 348.76 L127.61 351.39 L125.77 354.12 L124.07 356.95 L122.53 359.86 L121.15 362.85 L119.93 365.92 L118.88 369.04 L117.99 372.23 L117.28 375.46 L116.75 378.73 L116.39 382.03 L116.22 385.35 L116.23 388.69 L116.42 392.03 L116.79 395.36 L117.35 398.68 L118.09 401.97 L119.01 405.23 L120.11 408.45 L121.39 411.61 L122.84 414.71 L124.47 417.74 L126.26 420.69 L128.22 423.54 L130.33 426.3 L132.6 428.96 L135.01 431.49 L137.56 433.91 L140.25 436.19 L143.06 438.33 L145.99 440.33 L149.03 442.18 L152.17 443.88 L155.39 445.4 L158.7 446.77 L162.09 447.95 L165.53 448.97 L169.02 449.8 L172.56 450.45 L176.12 450.92 L179.7 451.2 L183.29 451.3 L186.88 451.21 L190.45 450.93 L194 450.47 L197.51 449.82 L200.98 449 L204.39 447.99 L207.74 446.81 L211.01 445.46 L214.19 443.94 L217.28 442.26 L220.26 440.42 L223.13 438.43 Z M225.88 440.1 L228.5 437.83 L230.98 435.43 L233.33 432.91 L235.52 430.27 L237.56 427.53 L239.44 424.69 L241.15 421.76 L242.7 418.75 L244.08 415.67 L245.28 412.53 L246.3 409.33 L247.14 406.09 L247.8 402.82 L248.28 399.52 L248.58 396.2 L248.7 392.88 L248.63 389.56 L248.39 386.25 L247.97 382.96 L247.37 379.7 L246.59 376.48 L245.65 373.3 L244.54 370.18 L243.26 367.12 L241.83 364.13 L240.24 361.22 L238.5 358.39 L236.61 355.65 L234.58 353.02 L232.43 350.48 L230.14 348.06 L227.73 345.75 L225.21 343.57 L222.58 341.51 L219.85 339.58 L217.02 337.79 L214.11 336.14 L211.12 334.63 L208.05 333.27 L204.93 332.06 L201.74 331.01 L198.51 330.11 L195.24 329.37 L191.94 328.78 L188.61 328.36 L185.27 328.1 L181.91 328 L178.57 328.06 L175.23 328.29 L171.9 328.68 L168.61 329.23 L165.34 329.94 L162.12 330.81 L158.95 331.83 L155.84 333.01 L152.8 334.34 L149.82 335.82 L146.93 337.45 L144.13 339.22 L141.42 341.12 L138.82 343.16 L136.33 345.33 L133.96 347.63 L131.71 350.04 L129.59 352.56 L127.61 355.19 L125.77 357.92 L124.07 360.75 L122.53 363.66 L121.15 366.65 L119.93 369.72 L118.88 372.84 L117.99 376.03 L117.28 379.26 L116.75 382.53 L116.39 385.83 L116.22 389.15 L116.23 392.49 L116.42 395.83 L116.79 399.16 L117.35 402.48 L118.09 405.77 L119.01 409.03 L120.11 412.25 L121.39 415.41 L122.84 418.51 L124.47 421.54 L126.26 424.49 L128.22 427.34 L130.33 430.1 L132.6 432.76 L135.01 435.29 L137.56 437.71 L140.25 439.99 L143.06 442.13 L145.99 444.13 L149.03 445.98 L152.17 447.68 L155.39 449.2 L158.7 450.57 L162.09 451.75 L165.53 452.77 L169.02 453.6 L172.56 454.25 L176.12 454.72 L179.7 455 L183.29 455.1 L186.88 455.01 L190.45 454.73 L194 454.27 L197.51 453.62 L200.98 452.8 L204.39 451.79 L207.74 450.61 L211.01 449.26 L214.19 447.74 L217.28 446.06 L220.26 444.22 L223.13 442.23 Z M248.7 389.08 L248.7 392.88 L116.22 389.15 L116.22 385.35 Z" fill="#f06800"/><path d="M225.88 436.3 L228.5 434.03 L230.98 431.63 L233.33 429.11 L235.52 426.47 L237.56 423.73 L239.44 420.89 L241.15 417.96 L242.7 414.95 L244.08 411.87 L245.28 408.73 L246.3 405.53 L247.14 402.29 L247.8 399.02 L248.28 395.72 L248.58 392.4 L248.7 389.08 L248.63 385.76 L248.39 382.45 L247.97 379.16 L247.37 375.9 L246.59 372.68 L245.65 369.5 L244.54 366.38 L243.26 363.32 L241.83 360.33 L240.24 357.42 L238.5 354.59 L236.61 351.85 L234.58 349.22 L232.43 346.68 L230.14 344.26 L227.73 341.95 L225.21 339.77 L222.58 337.71 L219.85 335.78 L217.02 333.99 L214.11 332.34 L211.12 330.83 L208.05 329.47 L204.93 328.26 L201.74 327.21 L198.51 326.31 L195.24 325.57 L191.94 324.98 L188.61 324.56 L185.27 324.3 L181.91 324.2 L178.57 324.26 L175.23 324.49 L171.9 324.88 L168.61 325.43 L165.34 326.14 L162.12 327.01 L158.95 328.03 L155.84 329.21 L152.8 330.54 L149.82 332.02 L146.93 333.65 L144.13 335.42 L141.42 337.32 L138.82 339.36 L136.33 341.53 L133.96 343.83 L131.71 346.24 L129.59 348.76 L127.61 351.39 L125.77 354.12 L124.07 356.95 L122.53 359.86 L121.15 362.85 L119.93 365.92 L118.88 369.04 L117.99 372.23 L117.28 375.46 L116.75 378.73 L116.39 382.03 L116.22 385.35 L116.23 388.69 L116.42 392.03 L116.79 395.36 L117.35 398.68 L118.09 401.97 L119.01 405.23 L120.11 408.45 L121.39 411.61 L122.84 414.71 L124.47 417.74 L126.26 420.69 L128.22 423.54 L130.33 426.3 L132.6 428.96 L135.01 431.49 L137.56 433.91 L140.25 436.19 L143.06 438.33 L145.99 440.33 L149.03 442.18 L152.17 443.88 L155.39 445.4 L158.7 446.77 L162.09 447.95 L165.53 448.97 L169.02 449.8 L172.56 450.45 L176.12 450.92 L179.7 451.2 L183.29 451.3 L186.88 451.21 L190.45 450.93 L194 450.47 L197.51 449.82 L200.98 449 L204.39 447.99 L207.74 446.81 L211.01 445.46 L214.19 443.94 L217.28 442.26 L220.26 440.42 L223.13 438.43 Z" fill="url(#gC)" stroke="#8a4000" stroke-width="0.4"/><path d="M179.23 324.32 v3.48 a2.87 1.65 0 0 0 5.73 0 v-3.48z" fill="#f5aa00" stroke="#4a1c00" stroke-width="0.7"/><ellipse cx="182.1" cy="324.32" rx="2.87" ry="1.65" fill="#ffd800" stroke="#5e2c00" stroke-width="0.55"/><path d="M191.51 325.57 v3.49 a2.88 1.66 0 0 0 5.75 0 v-3.49z" fill="#f5aa00" stroke="#4a1c00" stroke-width="0.7"/><ellipse cx="194.38" cy="325.57" rx="2.88" ry="1.66" fill="#ffd800" stroke="#5e2c00" stroke-width="0.55"/><path d="M160.15 328.11 v3.51 a2.89 1.67 0 0 0 5.79 0 v-3.51z" fill="#f5aa00" stroke="#4a1c00" stroke-width="0.7"/><ellipse cx="163.04" cy="328.11" rx="2.89" ry="1.67" fill="#ffd800" stroke="#5e2c00" stroke-width="0.55"/><path d="M172.45 329.37 v3.52 a2.9 1.67 0 0 0 5.81 0 v-3.52z" fill="#f5aa00" stroke="#4a1c00" stroke-width="0.7"/><ellipse cx="175.36" cy="329.37" rx="2.9" ry="1.67" fill="#ffd800" stroke="#5e2c00" stroke-width="0.55"/><path d="M184.76 330.62 v3.53 a2.91 1.68 0 0 0 5.82 0 v-3.53z" fill="#f5aa00" stroke="#4a1c00" stroke-width="0.7"/><ellipse cx="187.68" cy="330.62" rx="2.91" ry="1.68" fill="#ffd800" stroke="#5e2c00" stroke-width="0.55"/><path d="M197.08 331.88 v3.54 a2.92 1.68 0 0 0 5.84 0 v-3.54z" fill="#f5aa00" stroke="#4a1c00" stroke-width="0.7"/><ellipse cx="200" cy="331.88" rx="2.92" ry="1.68" fill="#ffd800" stroke="#5e2c00" stroke-width="0.55"/><path d="M209.41 333.14 v3.55 a2.93 1.69 0 0 0 5.86 0 v-3.55z" fill="#f5aa00" stroke="#4a1c00" stroke-width="0.7"/><ellipse cx="212.34" cy="333.14" rx="2.93" ry="1.69" fill="#ffd800" stroke="#5e2c00" stroke-width="0.55"/><path d="M153.29 333.18 v3.55 a2.93 1.69 0 0 0 5.86 0 v-3.55z" fill="#f5aa00" stroke="#4a1c00" stroke-width="0.7"/><ellipse cx="156.22" cy="333.18" rx="2.93" ry="1.69" fill="#ffd800" stroke="#5e2c00" stroke-width="0.55"/><path d="M165.63 334.45 v3.56 a2.94 1.69 0 0 0 5.88 0 v-3.56z" fill="#f5aa00" stroke="#4a1c00" stroke-width="0.7"/><ellipse cx="168.57" cy="334.45" rx="2.94" ry="1.69" fill="#ffd800" stroke="#5e2c00" stroke-width="0.55"/><path d="M177.98 335.71 v3.57 a2.95 1.7 0 0 0 5.9 0 v-3.57z" fill="#f5aa00" stroke="#4a1c00" stroke-width="0.7"/><ellipse cx="180.93" cy="335.71" rx="2.95" ry="1.7" fill="#ffd800" stroke="#5e2c00" stroke-width="0.55"/><path d="M190.33 336.97 v3.59 a2.96 1.7 0 0 0 5.92 0 v-3.59z" fill="#f5aa00" stroke="#4a1c00" stroke-width="0.7"/><ellipse cx="193.29" cy="336.97" rx="2.96" ry="1.7" fill="#ffd800" stroke="#5e2c00" stroke-width="0.55"/><path d="M202.69 338.24 v3.6 a2.97 1.71 0 0 0 5.93 0 v-3.6z" fill="#f5aa00" stroke="#4a1c00" stroke-width="0.7"/><ellipse cx="205.66" cy="338.24" rx="2.97" ry="1.71" fill="#ffd800" stroke="#5e2c00" stroke-width="0.55"/><path d="M146.39 338.29 v3.6 a2.97 1.71 0 0 0 5.94 0 v-3.6z" fill="#f5aa00" stroke="#4a1c00" stroke-width="0.7"/><ellipse cx="149.35" cy="338.29" rx="2.97" ry="1.71" fill="#ffd800" stroke="#5e2c00" stroke-width="0.55"/><path d="M215.06 339.5 v3.61 a2.98 1.71 0 0 0 5.95 0 v-3.61z" fill="#f5aa00" stroke="#4a1c00" stroke-width="0.7"/><ellipse cx="218.04" cy="339.5" rx="2.98" ry="1.71" fill="#ffd800" stroke="#5e2c00" stroke-width="0.55"/><path d="M158.77 339.56 v3.61 a2.98 1.71 0 0 0 5.95 0 v-3.61z" fill="#f5aa00" stroke="#4a1c00" stroke-width="0.7"/><ellipse cx="161.74" cy="339.56" rx="2.98" ry="1.71" fill="#ffd800" stroke="#5e2c00" stroke-width="0.55"/><path d="M171.15 340.83 v3.62 a2.99 1.72 0 0 0 5.97 0 v-3.62z" fill="#f5aa00" stroke="#4a1c00" stroke-width="0.7"/><ellipse cx="174.14" cy="340.83" rx="2.99" ry="1.72" fill="#ffd800" stroke="#5e2c00" stroke-width="0.55"/><path d="M183.54 342.09 v3.63 a3 1.72 0 0 0 5.99 0 v-3.63z" fill="#f5aa00" stroke="#4a1c00" stroke-width="0.7"/><ellipse cx="186.54" cy="342.09" rx="3" ry="1.72" fill="#ffd800" stroke="#5e2c00" stroke-width="0.55"/><path d="M195.94 343.36 v3.64 a3 1.73 0 0 0 6.01 0 v-3.64z" fill="#f5aa00" stroke="#4a1c00" stroke-width="0.7"/><ellipse cx="198.94" cy="343.36" rx="3" ry="1.73" fill="#ffd800" stroke="#5e2c00" stroke-width="0.55"/><path d="M139.44 343.43 v3.64 a3 1.73 0 0 0 6.01 0 v-3.64z" fill="#f5aa00" stroke="#4a1c00" stroke-width="0.7"/><ellipse cx="142.45" cy="343.43" rx="3" ry="1.73" fill="#ffd800" stroke="#5e2c00" stroke-width="0.55"/><path d="M208.34 344.63 v3.65 a3.01 1.74 0 0 0 6.03 0 v-3.65z" fill="#f5aa00" stroke="#4a1c00" stroke-width="0.7"/><ellipse cx="211.36" cy="344.63" rx="3.01" ry="1.74" fill="#ffd800" stroke="#5e2c00" stroke-width="0.55"/><path d="M151.86 344.7 v3.65 a3.01 1.74 0 0 0 6.03 0 v-3.65z" fill="#f5aa00" stroke="#4a1c00" stroke-width="0.7"/><ellipse cx="154.87" cy="344.7" rx="3.01" ry="1.74" fill="#ffd800" stroke="#5e2c00" stroke-width="0.55"/><path d="M220.75 345.91 v3.66 a3.02 1.74 0 0 0 6.05 0 v-3.66z" fill="#f5aa00" stroke="#4a1c00" stroke-width="0.7"/><ellipse cx="223.78" cy="345.91" rx="3.02" ry="1.74" fill="#ffd800" stroke="#5e2c00" stroke-width="0.55"/><path d="M164.28 345.97 v3.66 a3.02 1.74 0 0 0 6.05 0 v-3.66z" fill="#f5aa00" stroke="#4a1c00" stroke-width="0.7"/><ellipse cx="167.3" cy="345.97" rx="3.02" ry="1.74" fill="#ffd800" stroke="#5e2c00" stroke-width="0.55"/><path d="M176.71 347.25 v3.68 a3.03 1.75 0 0 0 6.06 0 v-3.68z" fill="#f5aa00" stroke="#4a1c00" stroke-width="0.7"/><ellipse cx="179.74" cy="347.25" rx="3.03" ry="1.75" fill="#ffd800" stroke="#5e2c00" stroke-width="0.55"/><path d="M189.14 348.52 v3.69 a3.04 1.75 0 0 0 6.08 0 v-3.69z" fill="#f5aa00" stroke="#4a1c00" stroke-width="0.7"/><ellipse cx="192.18" cy="348.52" rx="3.04" ry="1.75" fill="#ffd800" stroke="#5e2c00" stroke-width="0.55"/><path d="M132.46 348.6 v3.69 a3.04 1.75 0 0 0 6.08 0 v-3.69z" fill="#f5aa00" stroke="#4a1c00" stroke-width="0.7"/><ellipse cx="135.5" cy="348.6" rx="3.04" ry="1.75" fill="#ffd800" stroke="#5e2c00" stroke-width="0.55"/><path d="M201.58 349.8 v3.7 a3.05 1.76 0 0 0 6.1 0 v-3.7z" fill="#f5aa00" stroke="#4a1c00" stroke-width="0.7"/><ellipse cx="204.63" cy="349.8" rx="3.05" ry="1.76" fill="#ffd800" stroke="#5e2c00" stroke-width="0.55"/><path d="M144.91 349.88 v3.7 a3.05 1.76 0 0 0 6.1 0 v-3.7z" fill="#f5aa00" stroke="#4a1c00" stroke-width="0.7"/><ellipse cx="147.96" cy="349.88" rx="3.05" ry="1.76" fill="#ffd800" stroke="#5e2c00" stroke-width="0.55"/><path d="M214.03 351.08 v3.71 a3.06 1.76 0 0 0 6.12 0 v-3.71z" fill="#f5aa00" stroke="#4a1c00" stroke-width="0.7"/><ellipse cx="217.09" cy="351.08" rx="3.06" ry="1.76" fill="#ffd800" stroke="#5e2c00" stroke-width="0.55"/><path d="M157.37 351.16 v3.71 a3.06 1.76 0 0 0 6.12 0 v-3.71z" fill="#f5aa00" stroke="#4a1c00" stroke-width="0.7"/><ellipse cx="160.43" cy="351.16" rx="3.06" ry="1.76" fill="#ffd800" stroke="#5e2c00" stroke-width="0.55"/><path d="M226.48 352.35 v3.72 a3.07 1.77 0 0 0 6.14 0 v-3.72z" fill="#f5aa00" stroke="#4a1c00" stroke-width="0.7"/><ellipse cx="229.55" cy="352.35" rx="3.07" ry="1.77" fill="#ffd800" stroke="#5e2c00" stroke-width="0.55"/><path d="M169.83 352.44 v3.72 a3.07 1.77 0 0 0 6.14 0 v-3.72z" fill="#f5aa00" stroke="#4a1c00" stroke-width="0.7"/><ellipse cx="172.9" cy="352.44" rx="3.07" ry="1.77" fill="#ffd800" stroke="#5e2c00" stroke-width="0.55"/><path d="M182.3 353.72 v3.73 a3.08 1.77 0 0 0 6.16 0 v-3.73z" fill="#f5aa00" stroke="#4a1c00" stroke-width="0.7"/><ellipse cx="185.38" cy="353.72" rx="3.08" ry="1.77" fill="#ffd800" stroke="#5e2c00" stroke-width="0.55"/><path d="M125.42 353.8 v3.73 a3.08 1.77 0 0 0 6.16 0 v-3.73z" fill="#f5aa00" stroke="#4a1c00" stroke-width="0.7"/><ellipse cx="128.5" cy="353.8" rx="3.08" ry="1.77" fill="#ffd800" stroke="#5e2c00" stroke-width="0.55"/><path d="M194.78 355 v3.74 a3.09 1.78 0 0 0 6.18 0 v-3.74z" fill="#f5aa00" stroke="#4a1c00" stroke-width="0.7"/><ellipse cx="197.87" cy="355" rx="3.09" ry="1.78" fill="#ffd800" stroke="#5e2c00" stroke-width="0.55"/><path d="M137.91 355.09 v3.74 a3.09 1.78 0 0 0 6.18 0 v-3.74z" fill="#f5aa00" stroke="#4a1c00" stroke-width="0.7"/><ellipse cx="141" cy="355.09" rx="3.09" ry="1.78" fill="#ffd800" stroke="#5e2c00" stroke-width="0.55"/><path d="M207.27 356.28 v3.75 a3.1 1.78 0 0 0 6.19 0 v-3.75z" fill="#f5aa00" stroke="#4a1c00" stroke-width="0.7"/><ellipse cx="210.36" cy="356.28" rx="3.1" ry="1.78" fill="#ffd800" stroke="#5e2c00" stroke-width="0.55"/><path d="M150.41 356.37 v3.76 a3.1 1.78 0 0 0 6.2 0 v-3.76z" fill="#f5aa00" stroke="#4a1c00" stroke-width="0.7"/><ellipse cx="153.51" cy="356.37" rx="3.1" ry="1.78" fill="#ffd800" stroke="#5e2c00" stroke-width="0.55"/><path d="M219.76 357.56 v3.77 a3.11 1.79 0 0 0 6.21 0 v-3.77z" fill="#f5aa00" stroke="#4a1c00" stroke-width="0.7"/><ellipse cx="222.86" cy="357.56" rx="3.11" ry="1.79" fill="#ffd800" stroke="#5e2c00" stroke-width="0.55"/><path d="M162.91 357.65 v3.77 a3.11 1.79 0 0 0 6.21 0 v-3.77z" fill="#f5aa00" stroke="#4a1c00" stroke-width="0.7"/><ellipse cx="166.02" cy="357.65" rx="3.11" ry="1.79" fill="#ffd800" stroke="#5e2c00" stroke-width="0.55"/><path d="M232.25 358.84 v3.78 a3.12 1.79 0 0 0 6.23 0 v-3.78z" fill="#f5aa00" stroke="#4a1c00" stroke-width="0.7"/><ellipse cx="235.37" cy="358.84" rx="3.12" ry="1.79" fill="#ffd800" stroke="#5e2c00" stroke-width="0.55"/><path d="M175.42 358.94 v3.78 a3.12 1.79 0 0 0 6.23 0 v-3.78z" fill="#f5aa00" stroke="#4a1c00" stroke-width="0.7"/><ellipse cx="178.54" cy="358.94" rx="3.12" ry="1.79" fill="#ffd800" stroke="#5e2c00" stroke-width="0.55"/><path d="M187.94 360.23 v3.79 a3.13 1.8 0 0 0 6.25 0 v-3.79z" fill="#f5aa00" stroke="#4a1c00" stroke-width="0.7"/><ellipse cx="191.06" cy="360.23" rx="3.13" ry="1.8" fill="#ffd800" stroke="#5e2c00" stroke-width="0.55"/><path d="M130.88 360.33 v3.79 a3.13 1.8 0 0 0 6.25 0 v-3.79z" fill="#f5aa00" stroke="#4a1c00" stroke-width="0.7"/><ellipse cx="134" cy="360.33" rx="3.13" ry="1.8" fill="#ffd800" stroke="#5e2c00" stroke-width="0.55"/><path d="M200.46 361.51 v3.8 a3.14 1.81 0 0 0 6.27 0 v-3.8z" fill="#f5aa00" stroke="#4a1c00" stroke-width="0.7"/><ellipse cx="203.59" cy="361.51" rx="3.14" ry="1.81" fill="#ffd800" stroke="#5e2c00" stroke-width="0.55"/><path d="M143.41 361.62 v3.8 a3.14 1.81 0 0 0 6.27 0 v-3.8z" fill="#f5aa00" stroke="#4a1c00" stroke-width="0.7"/><ellipse cx="146.55" cy="361.62" rx="3.14" ry="1.81" fill="#ffd800" stroke="#5e2c00" stroke-width="0.55"/><path d="M212.99 362.8 v3.81 a3.14 1.81 0 0 0 6.29 0 v-3.81z" fill="#f5aa00" stroke="#4a1c00" stroke-width="0.7"/><ellipse cx="216.13" cy="362.8" rx="3.14" ry="1.81" fill="#ffd800" stroke="#5e2c00" stroke-width="0.55"/><path d="M155.95 362.91 v3.81 a3.15 1.81 0 0 0 6.29 0 v-3.81z" fill="#f5aa00" stroke="#4a1c00" stroke-width="0.7"/><ellipse cx="159.1" cy="362.91" rx="3.15" ry="1.81" fill="#ffd800" stroke="#5e2c00" stroke-width="0.55"/><path d="M225.52 364.09 v3.82 a3.15 1.82 0 0 0 6.31 0 v-3.82z" fill="#f5aa00" stroke="#4a1c00" stroke-width="0.7"/><ellipse cx="228.67" cy="364.09" rx="3.15" ry="1.82" fill="#ffd800" stroke="#5e2c00" stroke-width="0.55"/><path d="M168.5 364.2 v3.82 a3.15 1.82 0 0 0 6.31 0 v-3.82z" fill="#f5aa00" stroke="#4a1c00" stroke-width="0.7"/><ellipse cx="171.65" cy="364.2" rx="3.15" ry="1.82" fill="#ffd800" stroke="#5e2c00" stroke-width="0.55"/><path d="M238.06 365.38 v3.83 a3.16 1.82 0 0 0 6.33 0 v-3.83z" fill="#f5aa00" stroke="#4a1c00" stroke-width="0.7"/><ellipse cx="241.22" cy="365.38" rx="3.16" ry="1.82" fill="#ffd800" stroke="#5e2c00" stroke-width="0.55"/><path d="M181.05 365.49 v3.83 a3.16 1.82 0 0 0 6.33 0 v-3.83z" fill="#f5aa00" stroke="#4a1c00" stroke-width="0.7"/><ellipse cx="184.21" cy="365.49" rx="3.16" ry="1.82" fill="#ffd800" stroke="#5e2c00" stroke-width="0.55"/><path d="M123.79 365.6 v3.84 a3.16 1.82 0 0 0 6.33 0 v-3.84z" fill="#f5aa00" stroke="#4a1c00" stroke-width="0.7"/><ellipse cx="126.96" cy="365.6" rx="3.16" ry="1.82" fill="#ffd800" stroke="#5e2c00" stroke-width="0.55"/><path d="M193.61 366.78 v3.85 a3.17 1.83 0 0 0 6.35 0 v-3.85z" fill="#f5aa00" stroke="#4a1c00" stroke-width="0.7"/><ellipse cx="196.78" cy="366.78" rx="3.17" ry="1.83" fill="#ffd800" stroke="#5e2c00" stroke-width="0.55"/><path d="M136.37 366.9 v3.85 a3.17 1.83 0 0 0 6.35 0 v-3.85z" fill="#f5aa00" stroke="#4a1c00" stroke-width="0.7"/><ellipse cx="139.54" cy="366.9" rx="3.17" ry="1.83" fill="#ffd800" stroke="#5e2c00" stroke-width="0.55"/><path d="M206.17 368.07 v3.86 a3.18 1.83 0 0 0 6.36 0 v-3.86z" fill="#f5aa00" stroke="#4a1c00" stroke-width="0.7"/><ellipse cx="209.36" cy="368.07" rx="3.18" ry="1.83" fill="#ffd800" stroke="#5e2c00" stroke-width="0.55"/><path d="M148.94 368.19 v3.86 a3.18 1.83 0 0 0 6.37 0 v-3.86z" fill="#f5aa00" stroke="#4a1c00" stroke-width="0.7"/><ellipse cx="152.13" cy="368.19" rx="3.18" ry="1.83" fill="#ffd800" stroke="#5e2c00" stroke-width="0.55"/><path d="M218.75 369.37 v3.87 a3.19 1.84 0 0 0 6.38 0 v-3.87z" fill="#f5aa00" stroke="#4a1c00" stroke-width="0.7"/><ellipse cx="221.94" cy="369.37" rx="3.19" ry="1.84" fill="#ffd800" stroke="#5e2c00" stroke-width="0.55"/><path d="M161.53 369.49 v3.87 a3.19 1.84 0 0 0 6.39 0 v-3.87z" fill="#f5aa00" stroke="#4a1c00" stroke-width="0.7"/><ellipse cx="164.72" cy="369.49" rx="3.19" ry="1.84" fill="#ffd800" stroke="#5e2c00" stroke-width="0.55"/><path d="M231.32 370.66 v3.88 a3.2 1.84 0 0 0 6.4 0 v-3.88z" fill="#f5aa00" stroke="#4a1c00" stroke-width="0.7"/><ellipse cx="234.52" cy="370.66" rx="3.2" ry="1.84" fill="#ffd800" stroke="#5e2c00" stroke-width="0.55"/><path d="M174.12 370.78 v3.88 a3.2 1.84 0 0 0 6.4 0 v-3.88z" fill="#f5aa00" stroke="#4a1c00" stroke-width="0.7"/><ellipse cx="177.32" cy="370.78" rx="3.2" ry="1.84" fill="#ffd800" stroke="#5e2c00" stroke-width="0.55"/><path d="M116.67 370.91 v3.88 a3.2 1.84 0 0 0 6.41 0 v-3.88z" fill="#f5aa00" stroke="#4a1c00" stroke-width="0.7"/><ellipse cx="119.87" cy="370.91" rx="3.2" ry="1.84" fill="#ffd800" stroke="#5e2c00" stroke-width="0.55"/><path d="M186.72 372.08 v3.89 a3.21 1.85 0 0 0 6.42 0 v-3.89z" fill="#f5aa00" stroke="#4a1c00" stroke-width="0.7"/><ellipse cx="189.93" cy="372.08" rx="3.21" ry="1.85" fill="#ffd800" stroke="#5e2c00" stroke-width="0.55"/><path d="M129.28 372.21 v3.89 a3.21 1.85 0 0 0 6.42 0 v-3.89z" fill="#f5aa00" stroke="#4a1c00" stroke-width="0.7"/><ellipse cx="132.49" cy="372.21" rx="3.21" ry="1.85" fill="#ffd800" stroke="#5e2c00" stroke-width="0.55"/><path d="M199.32 373.38 v3.9 a3.22 1.85 0 0 0 6.44 0 v-3.9z" fill="#f5aa00" stroke="#4a1c00" stroke-width="0.7"/><ellipse cx="202.54" cy="373.38" rx="3.22" ry="1.85" fill="#ffd800" stroke="#5e2c00" stroke-width="0.55"/><path d="M141.89 373.51 v3.9 a3.22 1.85 0 0 0 6.44 0 v-3.9z" fill="#f5aa00" stroke="#4a1c00" stroke-width="0.7"/><ellipse cx="145.11" cy="373.51" rx="3.22" ry="1.85" fill="#ffd800" stroke="#5e2c00" stroke-width="0.55"/><path d="M211.93 374.68 v3.92 a3.23 1.86 0 0 0 6.46 0 v-3.92z" fill="#f5aa00" stroke="#4a1c00" stroke-width="0.7"/><ellipse cx="215.16" cy="374.68" rx="3.23" ry="1.86" fill="#ffd800" stroke="#5e2c00" stroke-width="0.55"/><path d="M154.52 374.81 v3.92 a3.23 1.86 0 0 0 6.46 0 v-3.92z" fill="#f5aa00" stroke="#4a1c00" stroke-width="0.7"/><ellipse cx="157.75" cy="374.81" rx="3.23" ry="1.86" fill="#ffd800" stroke="#5e2c00" stroke-width="0.55"/><path d="M224.54 375.98 v3.93 a3.24 1.87 0 0 0 6.48 0 v-3.93z" fill="#f5aa00" stroke="#4a1c00" stroke-width="0.7"/><ellipse cx="227.78" cy="375.98" rx="3.24" ry="1.87" fill="#ffd800" stroke="#5e2c00" stroke-width="0.55"/><path d="M167.14 376.11 v3.93 a3.24 1.87 0 0 0 6.48 0 v-3.93z" fill="#f5aa00" stroke="#4a1c00" stroke-width="0.7"/><ellipse cx="170.38" cy="376.11" rx="3.24" ry="1.87" fill="#ffd800" stroke="#5e2c00" stroke-width="0.55"/><path d="M237.17 377.28 v3.94 a3.25 1.87 0 0 0 6.5 0 v-3.94z" fill="#f5aa00" stroke="#4a1c00" stroke-width="0.7"/><ellipse cx="240.41" cy="377.28" rx="3.25" ry="1.87" fill="#ffd800" stroke="#5e2c00" stroke-width="0.55"/><path d="M179.78 377.42 v3.94 a3.25 1.87 0 0 0 6.5 0 v-3.94z" fill="#f5aa00" stroke="#4a1c00" stroke-width="0.7"/><ellipse cx="183.03" cy="377.42" rx="3.25" ry="1.87" fill="#ffd800" stroke="#5e2c00" stroke-width="0.55"/><path d="M122.14 377.55 v3.94 a3.25 1.87 0 0 0 6.5 0 v-3.94z" fill="#f5aa00" stroke="#4a1c00" stroke-width="0.7"/><ellipse cx="125.39" cy="377.55" rx="3.25" ry="1.87" fill="#ffd800" stroke="#5e2c00" stroke-width="0.55"/><path d="M192.42 378.72 v3.95 a3.26 1.88 0 0 0 6.52 0 v-3.95z" fill="#f5aa00" stroke="#4a1c00" stroke-width="0.7"/><ellipse cx="195.68" cy="378.72" rx="3.26" ry="1.88" fill="#ffd800" stroke="#5e2c00" stroke-width="0.55"/><path d="M134.8 378.86 v3.95 a3.26 1.88 0 0 0 6.52 0 v-3.95z" fill="#f5aa00" stroke="#4a1c00" stroke-width="0.7"/><ellipse cx="138.06" cy="378.86" rx="3.26" ry="1.88" fill="#ffd800" stroke="#5e2c00" stroke-width="0.55"/><path d="M205.07 380.02 v3.96 a3.27 1.88 0 0 0 6.54 0 v-3.96z" fill="#f5aa00" stroke="#4a1c00" stroke-width="0.7"/><ellipse cx="208.34" cy="380.02" rx="3.27" ry="1.88" fill="#ffd800" stroke="#5e2c00" stroke-width="0.55"/><path d="M147.46 380.17 v3.96 a3.27 1.88 0 0 0 6.54 0 v-3.96z" fill="#f5aa00" stroke="#4a1c00" stroke-width="0.7"/><ellipse cx="150.73" cy="380.17" rx="3.27" ry="1.88" fill="#ffd800" stroke="#5e2c00" stroke-width="0.55"/><path d="M217.72 381.33 v3.97 a3.28 1.89 0 0 0 6.56 0 v-3.97z" fill="#f5aa00" stroke="#4a1c00" stroke-width="0.7"/><ellipse cx="221" cy="381.33" rx="3.28" ry="1.89" fill="#ffd800" stroke="#5e2c00" stroke-width="0.55"/><path d="M160.12 381.48 v3.97 a3.28 1.89 0 0 0 6.56 0 v-3.97z" fill="#f5aa00" stroke="#4a1c00" stroke-width="0.7"/><ellipse cx="163.4" cy="381.48" rx="3.28" ry="1.89" fill="#ffd800" stroke="#5e2c00" stroke-width="0.55"/><path d="M230.38 382.63 v3.98 a3.29 1.89 0 0 0 6.57 0 v-3.98z" fill="#f5aa00" stroke="#4a1c00" stroke-width="0.7"/><ellipse cx="233.67" cy="382.63" rx="3.29" ry="1.89" fill="#ffd800" stroke="#5e2c00" stroke-width="0.55"/><path d="M172.8 382.78 v3.99 a3.29 1.89 0 0 0 6.58 0 v-3.99z" fill="#f5aa00" stroke="#4a1c00" stroke-width="0.7"/><ellipse cx="176.09" cy="382.78" rx="3.29" ry="1.89" fill="#ffd800" stroke="#5e2c00" stroke-width="0.55"/><path d="M114.96 382.94 v3.99 a3.29 1.89 0 0 0 6.58 0 v-3.99z" fill="#f5aa00" stroke="#4a1c00" stroke-width="0.7"/><ellipse cx="118.25" cy="382.94" rx="3.29" ry="1.89" fill="#ffd800" stroke="#5e2c00" stroke-width="0.55"/><path d="M243.05 383.94 v4 a3.3 1.9 0 0 0 6.59 0 v-4z" fill="#f5aa00" stroke="#4a1c00" stroke-width="0.7"/><ellipse cx="246.35" cy="383.94" rx="3.3" ry="1.9" fill="#ffd800" stroke="#5e2c00" stroke-width="0.55"/><path d="M185.48 384.09 v4 a3.3 1.9 0 0 0 6.6 0 v-4z" fill="#f5aa00" stroke="#4a1c00" stroke-width="0.7"/><ellipse cx="188.78" cy="384.09" rx="3.3" ry="1.9" fill="#ffd800" stroke="#5e2c00" stroke-width="0.55"/><path d="M127.66 384.25 v4 a3.3 1.9 0 0 0 6.6 0 v-4z" fill="#f5aa00" stroke="#4a1c00" stroke-width="0.7"/><ellipse cx="130.96" cy="384.25" rx="3.3" ry="1.9" fill="#ffd800" stroke="#5e2c00" stroke-width="0.55"/><path d="M198.16 385.4 v4.01 a3.31 1.9 0 0 0 6.61 0 v-4.01z" fill="#f5aa00" stroke="#4a1c00" stroke-width="0.7"/><ellipse cx="201.47" cy="385.4" rx="3.31" ry="1.9" fill="#ffd800" stroke="#5e2c00" stroke-width="0.55"/><path d="M140.36 385.56 v4.01 a3.31 1.9 0 0 0 6.62 0 v-4.01z" fill="#f5aa00" stroke="#4a1c00" stroke-width="0.7"/><ellipse cx="143.66" cy="385.56" rx="3.31" ry="1.9" fill="#ffd800" stroke="#5e2c00" stroke-width="0.55"/><path d="M210.86 386.71 v4.02 a3.32 1.91 0 0 0 6.63 0 v-4.02z" fill="#f5aa00" stroke="#4a1c00" stroke-width="0.7"/><ellipse cx="214.17" cy="386.71" rx="3.32" ry="1.91" fill="#ffd800" stroke="#5e2c00" stroke-width="0.55"/><path d="M153.06 386.87 v4.02 a3.32 1.91 0 0 0 6.64 0 v-4.02z" fill="#f5aa00" stroke="#4a1c00" stroke-width="0.7"/><ellipse cx="156.38" cy="386.87" rx="3.32" ry="1.91" fill="#ffd800" stroke="#5e2c00" stroke-width="0.55"/><path d="M223.55 388.03 v4.03 a3.33 1.92 0 0 0 6.65 0 v-4.03z" fill="#f5aa00" stroke="#4a1c00" stroke-width="0.7"/><ellipse cx="226.88" cy="388.03" rx="3.33" ry="1.92" fill="#ffd800" stroke="#5e2c00" stroke-width="0.55"/><path d="M165.77 388.19 v4.03 a3.33 1.92 0 0 0 6.65 0 v-4.03z" fill="#f5aa00" stroke="#4a1c00" stroke-width="0.7"/><ellipse cx="169.1" cy="388.19" rx="3.33" ry="1.92" fill="#ffd800" stroke="#5e2c00" stroke-width="0.55"/><path d="M236.26 389.34 v4.04 a3.34 1.92 0 0 0 6.67 0 v-4.04z" fill="#f5aa00" stroke="#4a1c00" stroke-width="0.7"/><ellipse cx="239.6" cy="389.34" rx="3.34" ry="1.92" fill="#ffd800" stroke="#5e2c00" stroke-width="0.55"/><path d="M178.49 389.5 v4.04 a3.34 1.92 0 0 0 6.67 0 v-4.04z" fill="#f5aa00" stroke="#4a1c00" stroke-width="0.7"/><ellipse cx="181.83" cy="389.5" rx="3.34" ry="1.92" fill="#ffd800" stroke="#5e2c00" stroke-width="0.55"/><path d="M120.47 389.67 v4.05 a3.34 1.92 0 0 0 6.68 0 v-4.05z" fill="#f5aa00" stroke="#4a1c00" stroke-width="0.7"/><ellipse cx="123.81" cy="389.67" rx="3.34" ry="1.92" fill="#ffd800" stroke="#5e2c00" stroke-width="0.55"/><path d="M191.22 390.82 v4.06 a3.35 1.93 0 0 0 6.69 0 v-4.06z" fill="#f5aa00" stroke="#4a1c00" stroke-width="0.7"/><ellipse cx="194.56" cy="390.82" rx="3.35" ry="1.93" fill="#ffd800" stroke="#5e2c00" stroke-width="0.55"/><path d="M133.21 390.99 v4.06 a3.35 1.93 0 0 0 6.69 0 v-4.06z" fill="#f5aa00" stroke="#4a1c00" stroke-width="0.7"/><ellipse cx="136.56" cy="390.99" rx="3.35" ry="1.93" fill="#ffd800" stroke="#5e2c00" stroke-width="0.55"/><path d="M203.95 392.13 v4.07 a3.36 1.93 0 0 0 6.71 0 v-4.07z" fill="#f5aa00" stroke="#4a1c00" stroke-width="0.7"/><ellipse cx="207.3" cy="392.13" rx="3.36" ry="1.93" fill="#ffd800" stroke="#5e2c00" stroke-width="0.55"/><path d="M145.95 392.3 v4.07 a3.36 1.93 0 0 0 6.71 0 v-4.07z" fill="#f5aa00" stroke="#4a1c00" stroke-width="0.7"/><ellipse cx="149.31" cy="392.3" rx="3.36" ry="1.93" fill="#ffd800" stroke="#5e2c00" stroke-width="0.55"/><path d="M216.68 393.45 v4.08 a3.37 1.94 0 0 0 6.73 0 v-4.08z" fill="#f5aa00" stroke="#4a1c00" stroke-width="0.7"/><ellipse cx="220.05" cy="393.45" rx="3.37" ry="1.94" fill="#ffd800" stroke="#5e2c00" stroke-width="0.55"/><path d="M158.7 393.62 v4.08 a3.37 1.94 0 0 0 6.73 0 v-4.08z" fill="#f5aa00" stroke="#4a1c00" stroke-width="0.7"/><ellipse cx="162.07" cy="393.62" rx="3.37" ry="1.94" fill="#ffd800" stroke="#5e2c00" stroke-width="0.55"/><path d="M229.43 394.77 v4.09 a3.37 1.94 0 0 0 6.75 0 v-4.09z" fill="#f5aa00" stroke="#4a1c00" stroke-width="0.7"/><ellipse cx="232.8" cy="394.77" rx="3.37" ry="1.94" fill="#ffd800" stroke="#5e2c00" stroke-width="0.55"/><path d="M171.46 394.94 v4.09 a3.38 1.94 0 0 0 6.75 0 v-4.09z" fill="#f5aa00" stroke="#4a1c00" stroke-width="0.7"/><ellipse cx="174.84" cy="394.94" rx="3.38" ry="1.94" fill="#ffd800" stroke="#5e2c00" stroke-width="0.55"/><path d="M242.18 396.09 v4.1 a3.38 1.95 0 0 0 6.77 0 v-4.1z" fill="#f5aa00" stroke="#4a1c00" stroke-width="0.7"/><ellipse cx="245.56" cy="396.09" rx="3.38" ry="1.95" fill="#ffd800" stroke="#5e2c00" stroke-width="0.55"/><path d="M184.22 396.27 v4.1 a3.39 1.95 0 0 0 6.77 0 v-4.1z" fill="#f5aa00" stroke="#4a1c00" stroke-width="0.7"/><ellipse cx="187.61" cy="396.27" rx="3.39" ry="1.95" fill="#ffd800" stroke="#5e2c00" stroke-width="0.55"/><path d="M126.01 396.45 v4.11 a3.39 1.95 0 0 0 6.77 0 v-4.11z" fill="#f5aa00" stroke="#4a1c00" stroke-width="0.7"/><ellipse cx="129.4" cy="396.45" rx="3.39" ry="1.95" fill="#ffd800" stroke="#5e2c00" stroke-width="0.55"/><path d="M196.99 397.59 v4.12 a3.4 1.95 0 0 0 6.79 0 v-4.12z" fill="#f5aa00" stroke="#4a1c00" stroke-width="0.7"/><ellipse cx="200.39" cy="397.59" rx="3.4" ry="1.95" fill="#ffd800" stroke="#5e2c00" stroke-width="0.55"/><path d="M138.8 397.77 v4.12 a3.4 1.96 0 0 0 6.79 0 v-4.12z" fill="#f5aa00" stroke="#4a1c00" stroke-width="0.7"/><ellipse cx="142.19" cy="397.77" rx="3.4" ry="1.96" fill="#ffd800" stroke="#5e2c00" stroke-width="0.55"/><path d="M209.77 398.91 v4.13 a3.4 1.96 0 0 0 6.81 0 v-4.13z" fill="#f5aa00" stroke="#4a1c00" stroke-width="0.7"/><ellipse cx="213.17" cy="398.91" rx="3.4" ry="1.96" fill="#ffd800" stroke="#5e2c00" stroke-width="0.55"/><path d="M151.59 399.1 v4.13 a3.41 1.96 0 0 0 6.81 0 v-4.13z" fill="#f5aa00" stroke="#4a1c00" stroke-width="0.7"/><ellipse cx="154.99" cy="399.1" rx="3.41" ry="1.96" fill="#ffd800" stroke="#5e2c00" stroke-width="0.55"/><path d="M222.55 400.23 v4.14 a3.41 1.97 0 0 0 6.83 0 v-4.14z" fill="#f5aa00" stroke="#4a1c00" stroke-width="0.7"/><ellipse cx="225.97" cy="400.23" rx="3.41" ry="1.97" fill="#ffd800" stroke="#5e2c00" stroke-width="0.55"/><path d="M164.38 400.42 v4.14 a3.42 1.97 0 0 0 6.83 0 v-4.14z" fill="#f5aa00" stroke="#4a1c00" stroke-width="0.7"/><ellipse cx="167.8" cy="400.42" rx="3.42" ry="1.97" fill="#ffd800" stroke="#5e2c00" stroke-width="0.55"/><path d="M235.34 401.56 v4.15 a3.42 1.97 0 0 0 6.85 0 v-4.15z" fill="#f5aa00" stroke="#4a1c00" stroke-width="0.7"/><ellipse cx="238.77" cy="401.56" rx="3.42" ry="1.97" fill="#ffd800" stroke="#5e2c00" stroke-width="0.55"/><path d="M177.19 401.75 v4.15 a3.43 1.97 0 0 0 6.85 0 v-4.15z" fill="#f5aa00" stroke="#4a1c00" stroke-width="0.7"/><ellipse cx="180.61" cy="401.75" rx="3.43" ry="1.97" fill="#ffd800" stroke="#5e2c00" stroke-width="0.55"/><path d="M118.77 401.94 v4.15 a3.43 1.97 0 0 0 6.85 0 v-4.15z" fill="#f5aa00" stroke="#4a1c00" stroke-width="0.7"/><ellipse cx="122.2" cy="401.94" rx="3.43" ry="1.97" fill="#ffd800" stroke="#5e2c00" stroke-width="0.55"/><path d="M190 403.08 v4.16 a3.43 1.98 0 0 0 6.87 0 v-4.16z" fill="#f5aa00" stroke="#4a1c00" stroke-width="0.7"/><ellipse cx="193.43" cy="403.08" rx="3.43" ry="1.98" fill="#ffd800" stroke="#5e2c00" stroke-width="0.55"/><path d="M131.6 403.27 v4.16 a3.44 1.98 0 0 0 6.87 0 v-4.16z" fill="#f5aa00" stroke="#4a1c00" stroke-width="0.7"/><ellipse cx="135.03" cy="403.27" rx="3.44" ry="1.98" fill="#ffd800" stroke="#5e2c00" stroke-width="0.55"/><path d="M202.81 404.4 v4.17 a3.44 1.98 0 0 0 6.89 0 v-4.17z" fill="#f5aa00" stroke="#4a1c00" stroke-width="0.7"/><ellipse cx="206.26" cy="404.4" rx="3.44" ry="1.98" fill="#ffd800" stroke="#5e2c00" stroke-width="0.55"/><path d="M144.43 404.6 v4.18 a3.45 1.98 0 0 0 6.89 0 v-4.18z" fill="#f5aa00" stroke="#4a1c00" stroke-width="0.7"/><ellipse cx="147.87" cy="404.6" rx="3.45" ry="1.98" fill="#ffd800" stroke="#5e2c00" stroke-width="0.55"/><path d="M215.63 405.73 v4.19 a3.45 1.99 0 0 0 6.91 0 v-4.19z" fill="#f5aa00" stroke="#4a1c00" stroke-width="0.7"/><ellipse cx="219.09" cy="405.73" rx="3.45" ry="1.99" fill="#ffd800" stroke="#5e2c00" stroke-width="0.55"/><path d="M157.26 405.94 v4.19 a3.46 1.99 0 0 0 6.91 0 v-4.19z" fill="#f5aa00" stroke="#4a1c00" stroke-width="0.7"/><ellipse cx="160.72" cy="405.94" rx="3.46" ry="1.99" fill="#ffd800" stroke="#5e2c00" stroke-width="0.55"/><path d="M228.46 407.06 v4.2 a3.46 1.99 0 0 0 6.93 0 v-4.2z" fill="#f5aa00" stroke="#4a1c00" stroke-width="0.7"/><ellipse cx="231.93" cy="407.06" rx="3.46" ry="1.99" fill="#ffd800" stroke="#5e2c00" stroke-width="0.55"/><path d="M170.1 407.27 v4.2 a3.46 1.99 0 0 0 6.93 0 v-4.2z" fill="#f5aa00" stroke="#4a1c00" stroke-width="0.7"/><ellipse cx="173.57" cy="407.27" rx="3.46" ry="1.99" fill="#ffd800" stroke="#5e2c00" stroke-width="0.55"/><path d="M182.95 408.6 v4.21 a3.47 2 0 0 0 6.95 0 v-4.21z" fill="#f5aa00" stroke="#4a1c00" stroke-width="0.7"/><ellipse cx="186.43" cy="408.6" rx="3.47" ry="2" fill="#ffd800" stroke="#5e2c00" stroke-width="0.55"/><path d="M124.35 408.81 v4.21 a3.48 2 0 0 0 6.95 0 v-4.21z" fill="#f5aa00" stroke="#4a1c00" stroke-width="0.7"/><ellipse cx="127.83" cy="408.81" rx="3.48" ry="2" fill="#ffd800" stroke="#5e2c00" stroke-width="0.55"/><path d="M195.81 409.93 v4.22 a3.48 2.01 0 0 0 6.97 0 v-4.22z" fill="#f5aa00" stroke="#4a1c00" stroke-width="0.7"/><ellipse cx="199.29" cy="409.93" rx="3.48" ry="2.01" fill="#ffd800" stroke="#5e2c00" stroke-width="0.55"/><path d="M137.22 410.15 v4.22 a3.49 2.01 0 0 0 6.97 0 v-4.22z" fill="#f5aa00" stroke="#4a1c00" stroke-width="0.7"/><ellipse cx="140.7" cy="410.15" rx="3.49" ry="2.01" fill="#ffd800" stroke="#5e2c00" stroke-width="0.55"/><path d="M208.67 411.27 v4.23 a3.49 2.01 0 0 0 6.99 0 v-4.23z" fill="#f5aa00" stroke="#4a1c00" stroke-width="0.7"/><ellipse cx="212.16" cy="411.27" rx="3.49" ry="2.01" fill="#ffd800" stroke="#5e2c00" stroke-width="0.55"/><path d="M150.09 411.48 v4.24 a3.5 2.01 0 0 0 6.99 0 v-4.24z" fill="#f5aa00" stroke="#4a1c00" stroke-width="0.7"/><ellipse cx="153.59" cy="411.48" rx="3.5" ry="2.01" fill="#ffd800" stroke="#5e2c00" stroke-width="0.55"/><path d="M221.54 412.6 v4.25 a3.5 2.02 0 0 0 7.01 0 v-4.25z" fill="#f5aa00" stroke="#4a1c00" stroke-width="0.7"/><ellipse cx="225.04" cy="412.6" rx="3.5" ry="2.02" fill="#ffd800" stroke="#5e2c00" stroke-width="0.55"/><path d="M162.98 412.82 v4.25 a3.5 2.02 0 0 0 7.01 0 v-4.25z" fill="#f5aa00" stroke="#4a1c00" stroke-width="0.7"/><ellipse cx="166.48" cy="412.82" rx="3.5" ry="2.02" fill="#ffd800" stroke="#5e2c00" stroke-width="0.55"/><path d="M234.41 413.94 v4.26 a3.51 2.02 0 0 0 7.03 0 v-4.26z" fill="#f5aa00" stroke="#4a1c00" stroke-width="0.7"/><ellipse cx="237.93" cy="413.94" rx="3.51" ry="2.02" fill="#ffd800" stroke="#5e2c00" stroke-width="0.55"/><path d="M175.86 414.16 v4.26 a3.51 2.02 0 0 0 7.03 0 v-4.26z" fill="#f5aa00" stroke="#4a1c00" stroke-width="0.7"/><ellipse cx="179.38" cy="414.16" rx="3.51" ry="2.02" fill="#ffd800" stroke="#5e2c00" stroke-width="0.55"/><path d="M188.76 415.5 v4.27 a3.52 2.03 0 0 0 7.05 0 v-4.27z" fill="#f5aa00" stroke="#4a1c00" stroke-width="0.7"/><ellipse cx="192.28" cy="415.5" rx="3.52" ry="2.03" fill="#ffd800" stroke="#5e2c00" stroke-width="0.55"/><path d="M129.96 415.73 v4.27 a3.53 2.03 0 0 0 7.05 0 v-4.27z" fill="#f5aa00" stroke="#4a1c00" stroke-width="0.7"/><ellipse cx="133.49" cy="415.73" rx="3.53" ry="2.03" fill="#ffd800" stroke="#5e2c00" stroke-width="0.55"/><path d="M201.66 416.84 v4.28 a3.53 2.03 0 0 0 7.07 0 v-4.28z" fill="#f5aa00" stroke="#4a1c00" stroke-width="0.7"/><ellipse cx="205.19" cy="416.84" rx="3.53" ry="2.03" fill="#ffd800" stroke="#5e2c00" stroke-width="0.55"/><path d="M142.88 417.07 v4.29 a3.54 2.04 0 0 0 7.07 0 v-4.29z" fill="#f5aa00" stroke="#4a1c00" stroke-width="0.7"/><ellipse cx="146.41" cy="417.07" rx="3.54" ry="2.04" fill="#ffd800" stroke="#5e2c00" stroke-width="0.55"/><path d="M214.57 418.18 v4.3 a3.54 2.04 0 0 0 7.09 0 v-4.3z" fill="#f5aa00" stroke="#4a1c00" stroke-width="0.7"/><ellipse cx="218.11" cy="418.18" rx="3.54" ry="2.04" fill="#ffd800" stroke="#5e2c00" stroke-width="0.55"/><path d="M155.8 418.41 v4.3 a3.55 2.04 0 0 0 7.09 0 v-4.3z" fill="#f5aa00" stroke="#4a1c00" stroke-width="0.7"/><ellipse cx="159.35" cy="418.41" rx="3.55" ry="2.04" fill="#ffd800" stroke="#5e2c00" stroke-width="0.55"/><path d="M227.48 419.52 v4.31 a3.55 2.05 0 0 0 7.11 0 v-4.31z" fill="#f5aa00" stroke="#4a1c00" stroke-width="0.7"/><ellipse cx="231.04" cy="419.52" rx="3.55" ry="2.05" fill="#ffd800" stroke="#5e2c00" stroke-width="0.55"/><path d="M168.73 419.76 v4.31 a3.55 2.05 0 0 0 7.11 0 v-4.31z" fill="#f5aa00" stroke="#4a1c00" stroke-width="0.7"/><ellipse cx="172.28" cy="419.76" rx="3.55" ry="2.05" fill="#ffd800" stroke="#5e2c00" stroke-width="0.55"/><path d="M181.66 421.1 v4.32 a3.56 2.05 0 0 0 7.13 0 v-4.32z" fill="#f5aa00" stroke="#4a1c00" stroke-width="0.7"/><ellipse cx="185.23" cy="421.1" rx="3.56" ry="2.05" fill="#ffd800" stroke="#5e2c00" stroke-width="0.55"/><path d="M194.61 422.45 v4.33 a3.57 2.06 0 0 0 7.15 0 v-4.33z" fill="#f5aa00" stroke="#4a1c00" stroke-width="0.7"/><ellipse cx="198.18" cy="422.45" rx="3.57" ry="2.06" fill="#ffd800" stroke="#5e2c00" stroke-width="0.55"/><path d="M135.62 422.69 v4.33 a3.58 2.06 0 0 0 7.15 0 v-4.33z" fill="#f5aa00" stroke="#4a1c00" stroke-width="0.7"/><ellipse cx="139.19" cy="422.69" rx="3.58" ry="2.06" fill="#ffd800" stroke="#5e2c00" stroke-width="0.55"/><path d="M207.55 423.79 v4.34 a3.58 2.06 0 0 0 7.17 0 v-4.34z" fill="#f5aa00" stroke="#4a1c00" stroke-width="0.7"/><ellipse cx="211.14" cy="423.79" rx="3.58" ry="2.06" fill="#ffd800" stroke="#5e2c00" stroke-width="0.55"/><path d="M148.58 424.04 v4.35 a3.59 2.06 0 0 0 7.17 0 v-4.35z" fill="#f5aa00" stroke="#4a1c00" stroke-width="0.7"/><ellipse cx="152.17" cy="424.04" rx="3.59" ry="2.06" fill="#ffd800" stroke="#5e2c00" stroke-width="0.55"/><path d="M220.51 425.14 v4.36 a3.59 2.07 0 0 0 7.19 0 v-4.36z" fill="#f5aa00" stroke="#4a1c00" stroke-width="0.7"/><ellipse cx="224.1" cy="425.14" rx="3.59" ry="2.07" fill="#ffd800" stroke="#5e2c00" stroke-width="0.55"/><path d="M161.55 425.39 v4.36 a3.6 2.07 0 0 0 7.19 0 v-4.36z" fill="#f5aa00" stroke="#4a1c00" stroke-width="0.7"/><ellipse cx="165.14" cy="425.39" rx="3.6" ry="2.07" fill="#ffd800" stroke="#5e2c00" stroke-width="0.55"/><path d="M174.52 426.74 v4.37 a3.61 2.08 0 0 0 7.21 0 v-4.37z" fill="#f5aa00" stroke="#4a1c00" stroke-width="0.7"/><ellipse cx="178.13" cy="426.74" rx="3.61" ry="2.08" fill="#ffd800" stroke="#5e2c00" stroke-width="0.55"/><path d="M187.5 428.09 v4.38 a3.61 2.08 0 0 0 7.23 0 v-4.38z" fill="#f5aa00" stroke="#4a1c00" stroke-width="0.7"/><ellipse cx="191.12" cy="428.09" rx="3.61" ry="2.08" fill="#ffd800" stroke="#5e2c00" stroke-width="0.55"/><path d="M200.49 429.44 v4.39 a3.62 2.09 0 0 0 7.25 0 v-4.39z" fill="#f5aa00" stroke="#4a1c00" stroke-width="0.7"/><ellipse cx="204.12" cy="429.44" rx="3.62" ry="2.09" fill="#ffd800" stroke="#5e2c00" stroke-width="0.55"/><path d="M141.31 429.7 v4.4 a3.63 2.09 0 0 0 7.25 0 v-4.4z" fill="#f5aa00" stroke="#4a1c00" stroke-width="0.7"/><ellipse cx="144.94" cy="429.7" rx="3.63" ry="2.09" fill="#ffd800" stroke="#5e2c00" stroke-width="0.55"/><path d="M213.49 430.8 v4.41 a3.63 2.09 0 0 0 7.27 0 v-4.41z" fill="#f5aa00" stroke="#4a1c00" stroke-width="0.7"/><ellipse cx="217.12" cy="430.8" rx="3.63" ry="2.09" fill="#ffd800" stroke="#5e2c00" stroke-width="0.55"/><path d="M154.32 431.06 v4.41 a3.64 2.09 0 0 0 7.27 0 v-4.41z" fill="#f5aa00" stroke="#4a1c00" stroke-width="0.7"/><ellipse cx="157.96" cy="431.06" rx="3.64" ry="2.09" fill="#ffd800" stroke="#5e2c00" stroke-width="0.55"/><path d="M167.34 432.41 v4.42 a3.65 2.1 0 0 0 7.29 0 v-4.42z" fill="#f5aa00" stroke="#4a1c00" stroke-width="0.7"/><ellipse cx="170.98" cy="432.41" rx="3.65" ry="2.1" fill="#ffd800" stroke="#5e2c00" stroke-width="0.55"/><path d="M180.36 433.77 v4.43 a3.66 2.1 0 0 0 7.31 0 v-4.43z" fill="#f5aa00" stroke="#4a1c00" stroke-width="0.7"/><ellipse cx="184.01" cy="433.77" rx="3.66" ry="2.1" fill="#ffd800" stroke="#5e2c00" stroke-width="0.55"/><path d="M193.39 435.13 v4.44 a3.67 2.11 0 0 0 7.33 0 v-4.44z" fill="#f5aa00" stroke="#4a1c00" stroke-width="0.7"/><ellipse cx="197.05" cy="435.13" rx="3.67" ry="2.11" fill="#ffd800" stroke="#5e2c00" stroke-width="0.55"/><path d="M206.42 436.49 v4.45 a3.68 2.12 0 0 0 7.35 0 v-4.45z" fill="#f5aa00" stroke="#4a1c00" stroke-width="0.7"/><ellipse cx="210.1" cy="436.49" rx="3.68" ry="2.12" fill="#ffd800" stroke="#5e2c00" stroke-width="0.55"/><path d="M147.05 436.76 v4.46 a3.68 2.12 0 0 0 7.35 0 v-4.46z" fill="#f5aa00" stroke="#4a1c00" stroke-width="0.7"/><ellipse cx="150.72" cy="436.76" rx="3.68" ry="2.12" fill="#ffd800" stroke="#5e2c00" stroke-width="0.55"/><path d="M160.1 438.13 v4.47 a3.69 2.12 0 0 0 7.37 0 v-4.47z" fill="#f5aa00" stroke="#4a1c00" stroke-width="0.7"/><ellipse cx="163.79" cy="438.13" rx="3.69" ry="2.12" fill="#ffd800" stroke="#5e2c00" stroke-width="0.55"/><path d="M173.16 439.49 v4.48 a3.7 2.13 0 0 0 7.39 0 v-4.48z" fill="#f5aa00" stroke="#4a1c00" stroke-width="0.7"/><ellipse cx="176.86" cy="439.49" rx="3.7" ry="2.13" fill="#ffd800" stroke="#5e2c00" stroke-width="0.55"/><path d="M186.23 440.85 v4.49 a3.71 2.13 0 0 0 7.41 0 v-4.49z" fill="#f5aa00" stroke="#4a1c00" stroke-width="0.7"/><ellipse cx="189.94" cy="440.85" rx="3.71" ry="2.13" fill="#ffd800" stroke="#5e2c00" stroke-width="0.55"/><path d="M199.31 442.22 v4.51 a3.72 2.14 0 0 0 7.43 0 v-4.51z" fill="#f5aa00" stroke="#4a1c00" stroke-width="0.7"/><ellipse cx="203.03" cy="442.22" rx="3.72" ry="2.14" fill="#ffd800" stroke="#5e2c00" stroke-width="0.55"/><path d="M165.92 445.25 v4.53 a3.74 2.15 0 0 0 7.48 0 v-4.53z" fill="#f5aa00" stroke="#4a1c00" stroke-width="0.7"/><ellipse cx="169.66" cy="445.25" rx="3.74" ry="2.15" fill="#ffd800" stroke="#5e2c00" stroke-width="0.55"/><path d="M179.03 446.62 v4.54 a3.75 2.16 0 0 0 7.5 0 v-4.54z" fill="#f5aa00" stroke="#4a1c00" stroke-width="0.7"/><ellipse cx="182.78" cy="446.62" rx="3.75" ry="2.16" fill="#ffd800" stroke="#5e2c00" stroke-width="0.55"/><line x1="140.3" y1="336.5" x2="224.5" y2="439" stroke="#e80000" stroke-width="1.6" /><line x1="232" y1="345.3" x2="130.3" y2="427.8" stroke="#e80000" stroke-width="1.6" /><line x1="129.8" y1="428.3" x2="128.6" y2="429.8" stroke="#1030d0" stroke-width="1.2" /><line x1="224.8" y1="439.5" x2="225.8" y2="441" stroke="#1030d0" stroke-width="1.2" /><text x="85.9" y="388.9" font-size="6.3" fill="#555555" text-anchor="middle" >1</text><text x="105" y="413.7" font-size="6.3" fill="#555555" text-anchor="middle" >0.5</text><text x="126" y="440" font-size="6.3" fill="#555555" text-anchor="middle" >0</text><text x="147.1" y="466.3" font-size="6.3" fill="#555555" text-anchor="middle" >-0.5</text><text x="168.7" y="493.6" font-size="6.3" fill="#555555" text-anchor="middle" >-1</text><text x="175.4" y="493.9" font-size="6.3" fill="#555555" text-anchor="middle" >-1</text><text x="201.9" y="471.8" font-size="6.3" fill="#555555" text-anchor="middle" >-0.5</text><text x="227.7" y="450.6" font-size="6.3" fill="#555555" text-anchor="middle" >0</text><text x="252" y="430" font-size="6.3" fill="#555555" text-anchor="middle" >0.5</text><text x="277.1" y="408.9" font-size="6.3" fill="#555555" text-anchor="middle" >1</text><text x="81.9" y="375.8" font-size="6.3" fill="#555555" text-anchor="middle" >0.2</text><text x="83" y="382.8" font-size="6.3" fill="#555555" text-anchor="middle" >0</text><line x1="75.4" y1="485.2" x2="68" y2="477.4" stroke="#00d848" stroke-width="1.0" /><line x1="70.81" y1="480.36" x2="68" y2="477.4" stroke="#00d848" stroke-width="2.0" stroke-linecap="round"/><line x1="75.4" y1="485.2" x2="83.8" y2="478.7" stroke="#ff2828" stroke-width="1.0" /><line x1="80.61" y1="481.17" x2="83.8" y2="478.7" stroke="#ff2828" stroke-width="2.0" stroke-linecap="round"/><line x1="75.4" y1="485.2" x2="75.5" y2="479.5" stroke="#1038e0" stroke-width="1.0" /><line x1="75.46" y1="481.67" x2="75.5" y2="479.5" stroke="#1038e0" stroke-width="2.0" stroke-linecap="round"/><text x="64.7" y="474.5" font-size="5.8" fill="#6a6a6a" text-anchor="middle" >y</text><text x="87.7" y="476.6" font-size="5.8" fill="#6a6a6a" text-anchor="middle" >x</text><text x="75.9" y="477.6" font-size="5.8" fill="#6a6a6a" text-anchor="middle" >z</text><text x="154" y="276.2" font-size="6.3" fill="#555555" textLength="84.8" lengthAdjust="spacingAndGlyphs">Multislice: Electric potential (V)</text><rect x="345" y="268" width="6.4" height="5.0" rx="1.2" fill="#2450a4"/><rect x="348.9" y="268.7" width="1.8" height="3.6" fill="#4a86d8"/><rect x="346.3" y="269.1" width="2.4" height="2.8" fill="#d4efd0"/><rect x="314.4" y="305.6" width="6.6" height="174.4" fill="url(#jet)"/><line x1="319.5" y1="480" x2="321" y2="480" stroke="#333" stroke-width="0.4" /><text x="324.4" y="482.2" font-size="6.3" fill="#555555" text-anchor="start" >0</text><line x1="319.5" y1="440.35" x2="321" y2="440.35" stroke="#333" stroke-width="0.4" /><text x="324.4" y="442.55" font-size="6.3" fill="#555555" text-anchor="start" >5</text><line x1="319.5" y1="400.7" x2="321" y2="400.7" stroke="#333" stroke-width="0.4" /><text x="324.4" y="402.9" font-size="6.3" fill="#555555" text-anchor="start" >10</text><line x1="319.5" y1="361.05" x2="321" y2="361.05" stroke="#333" stroke-width="0.4" /><text x="324.4" y="363.25" font-size="6.3" fill="#555555" text-anchor="start" >15</text><line x1="319.5" y1="321.4" x2="321" y2="321.4" stroke="#333" stroke-width="0.4" /><text x="324.4" y="323.6" font-size="6.3" fill="#555555" text-anchor="start" >20</text><path d="M308.5 293 l2.3 -4.4 l2.3 4.4z" fill="#111"/><text x="315" y="293" font-size="6.3" fill="#555555" text-anchor="start" >22</text><path d="M308.5 486.8 l2.3 4.4 l2.3 -4.4z" fill="#111"/><text x="315" y="491.2" font-size="6.3" fill="#555555" text-anchor="start" >0</text></g>
<g filter="url(#bl3)"><line x1="504.7" y1="305.4" x2="696" y2="305.4" stroke="#999" stroke-width="0.5" /><line x1="505.12" y1="309.6" x2="696" y2="309.6" stroke="#999" stroke-width="0.5" /><line x1="505.55" y1="313.9" x2="696" y2="313.9" stroke="#999" stroke-width="0.5" /><line x1="505.97" y1="318.1" x2="696" y2="318.1" stroke="#999" stroke-width="0.5" /><line x1="506.39" y1="322.3" x2="696" y2="322.3" stroke="#999" stroke-width="0.5" /><line x1="504.7" y1="305.4" x2="506.4" y2="322.3" stroke="#999" stroke-width="0.5" /><line x1="552.4" y1="305.4" x2="552.4" y2="322.3" stroke="#999" stroke-width="0.5" /><line x1="599.4" y1="305.4" x2="599.4" y2="322.3" stroke="#999" stroke-width="0.5" /><line x1="647.8" y1="305.4" x2="647.8" y2="322.3" stroke="#999" stroke-width="0.5" /><line x1="696" y1="305.4" x2="696" y2="322.3" stroke="#999" stroke-width="0.5" /><path d="M506 332.4 L696.3 332.4 L696.3 476.7 L486.9 476.7 Z" fill="none" stroke="#999" stroke-width="0.5"/><line x1="553.58" y1="332.4" x2="539.25" y2="476.7" stroke="#999" stroke-width="0.5" /><line x1="601.15" y1="332.4" x2="591.6" y2="476.7" stroke="#999" stroke-width="0.5" /><line x1="648.72" y1="332.4" x2="643.95" y2="476.7" stroke="#999" stroke-width="0.5" /><line x1="501.55" y1="366" x2="696.3" y2="366" stroke="#999" stroke-width="0.5" /><line x1="496.85" y1="401.5" x2="696.3" y2="401.5" stroke="#999" stroke-width="0.5" /><line x1="492.15" y1="437" x2="696.3" y2="437" stroke="#999" stroke-width="0.5" /><path d="M497.3 310.6 L481.9 470 L475.8 458 Z" fill="#e2e2e2"/><line x1="496.63" y1="315.21" x2="497.3" y2="310.6" stroke="#8e8e8e" stroke-width="0.5" /><line x1="496.29" y1="317.51" x2="497.12" y2="312.49" stroke="#8e8e8e" stroke-width="0.5" /><line x1="495.96" y1="319.81" x2="496.88" y2="314.98" stroke="#8e8e8e" stroke-width="0.5" /><line x1="495.62" y1="322.12" x2="496.64" y2="317.47" stroke="#8e8e8e" stroke-width="0.5" /><line x1="495.28" y1="324.42" x2="496.4" y2="319.96" stroke="#8e8e8e" stroke-width="0.5" /><line x1="494.95" y1="326.72" x2="496.15" y2="322.46" stroke="#8e8e8e" stroke-width="0.5" /><line x1="494.61" y1="329.03" x2="495.91" y2="324.95" stroke="#8e8e8e" stroke-width="0.5" /><line x1="494.28" y1="331.33" x2="495.67" y2="327.44" stroke="#8e8e8e" stroke-width="0.5" /><line x1="493.94" y1="333.63" x2="495.43" y2="329.93" stroke="#8e8e8e" stroke-width="0.5" /><line x1="493.6" y1="335.93" x2="495.19" y2="332.42" stroke="#8e8e8e" stroke-width="0.5" /><line x1="493.27" y1="338.24" x2="494.95" y2="334.91" stroke="#8e8e8e" stroke-width="0.5" /><line x1="492.93" y1="340.54" x2="494.71" y2="337.4" stroke="#8e8e8e" stroke-width="0.5" /><line x1="492.6" y1="342.84" x2="494.47" y2="339.89" stroke="#8e8e8e" stroke-width="0.5" /><line x1="492.26" y1="345.15" x2="494.23" y2="342.38" stroke="#8e8e8e" stroke-width="0.5" /><line x1="491.93" y1="347.45" x2="493.99" y2="344.87" stroke="#8e8e8e" stroke-width="0.5" /><line x1="491.59" y1="349.75" x2="493.75" y2="347.36" stroke="#8e8e8e" stroke-width="0.5" /><line x1="491.25" y1="352.06" x2="493.51" y2="349.85" stroke="#8e8e8e" stroke-width="0.5" /><line x1="490.92" y1="354.36" x2="493.27" y2="352.34" stroke="#8e8e8e" stroke-width="0.5" /><line x1="490.58" y1="356.66" x2="493.03" y2="354.83" stroke="#8e8e8e" stroke-width="0.5" /><line x1="490.25" y1="358.97" x2="492.79" y2="357.32" stroke="#8e8e8e" stroke-width="0.5" /><line x1="489.91" y1="361.27" x2="492.55" y2="359.81" stroke="#8e8e8e" stroke-width="0.5" /><line x1="489.57" y1="363.57" x2="492.3" y2="362.31" stroke="#8e8e8e" stroke-width="0.5" /><line x1="489.24" y1="365.88" x2="492.06" y2="364.8" stroke="#8e8e8e" stroke-width="0.5" /><line x1="488.9" y1="368.18" x2="491.82" y2="367.29" stroke="#8e8e8e" stroke-width="0.5" /><line x1="488.57" y1="370.48" x2="491.58" y2="369.78" stroke="#8e8e8e" stroke-width="0.5" /><line x1="488.23" y1="372.78" x2="491.34" y2="372.27" stroke="#8e8e8e" stroke-width="0.5" /><line x1="487.89" y1="375.09" x2="491.1" y2="374.76" stroke="#8e8e8e" stroke-width="0.5" /><line x1="487.56" y1="377.39" x2="490.86" y2="377.25" stroke="#8e8e8e" stroke-width="0.5" /><line x1="487.22" y1="379.69" x2="490.62" y2="379.74" stroke="#8e8e8e" stroke-width="0.5" /><line x1="486.89" y1="382" x2="490.38" y2="382.23" stroke="#8e8e8e" stroke-width="0.5" /><line x1="486.55" y1="384.3" x2="490.14" y2="384.72" stroke="#8e8e8e" stroke-width="0.5" /><line x1="486.21" y1="386.6" x2="489.9" y2="387.21" stroke="#8e8e8e" stroke-width="0.5" /><line x1="485.88" y1="388.91" x2="489.66" y2="389.7" stroke="#8e8e8e" stroke-width="0.5" /><line x1="485.54" y1="391.21" x2="489.42" y2="392.19" stroke="#8e8e8e" stroke-width="0.5" /><line x1="485.21" y1="393.51" x2="489.18" y2="394.68" stroke="#8e8e8e" stroke-width="0.5" /><line x1="484.87" y1="395.82" x2="488.94" y2="397.17" stroke="#8e8e8e" stroke-width="0.5" /><line x1="484.53" y1="398.12" x2="488.7" y2="399.66" stroke="#8e8e8e" stroke-width="0.5" /><line x1="484.2" y1="400.42" x2="488.45" y2="402.16" stroke="#8e8e8e" stroke-width="0.5" /><line x1="483.86" y1="402.73" x2="488.21" y2="404.65" stroke="#8e8e8e" stroke-width="0.5" /><line x1="483.53" y1="405.03" x2="487.97" y2="407.14" stroke="#8e8e8e" stroke-width="0.5" /><line x1="483.19" y1="407.33" x2="487.73" y2="409.63" stroke="#8e8e8e" stroke-width="0.5" /><line x1="482.85" y1="409.63" x2="487.49" y2="412.12" stroke="#8e8e8e" stroke-width="0.5" /><line x1="482.52" y1="411.94" x2="487.25" y2="414.61" stroke="#8e8e8e" stroke-width="0.5" /><line x1="482.18" y1="414.24" x2="487.01" y2="417.1" stroke="#8e8e8e" stroke-width="0.5" /><line x1="481.85" y1="416.54" x2="486.77" y2="419.59" stroke="#8e8e8e" stroke-width="0.5" /><line x1="481.51" y1="418.85" x2="486.53" y2="422.08" stroke="#8e8e8e" stroke-width="0.5" /><line x1="481.18" y1="421.15" x2="486.29" y2="424.57" stroke="#8e8e8e" stroke-width="0.5" /><line x1="480.84" y1="423.45" x2="486.05" y2="427.06" stroke="#8e8e8e" stroke-width="0.5" /><line x1="480.5" y1="425.76" x2="485.81" y2="429.55" stroke="#8e8e8e" stroke-width="0.5" /><line x1="480.17" y1="428.06" x2="485.57" y2="432.04" stroke="#8e8e8e" stroke-width="0.5" /><line x1="479.83" y1="430.36" x2="485.33" y2="434.53" stroke="#8e8e8e" stroke-width="0.5" /><line x1="479.5" y1="432.67" x2="485.09" y2="437.02" stroke="#8e8e8e" stroke-width="0.5" /><line x1="479.16" y1="434.97" x2="484.85" y2="439.51" stroke="#8e8e8e" stroke-width="0.5" /><line x1="478.82" y1="437.27" x2="484.6" y2="442.01" stroke="#8e8e8e" stroke-width="0.5" /><line x1="478.49" y1="439.57" x2="484.36" y2="444.5" stroke="#8e8e8e" stroke-width="0.5" /><line x1="478.15" y1="441.88" x2="484.12" y2="446.99" stroke="#8e8e8e" stroke-width="0.5" /><line x1="477.82" y1="444.18" x2="483.88" y2="449.48" stroke="#8e8e8e" stroke-width="0.5" /><line x1="477.48" y1="446.48" x2="483.64" y2="451.97" stroke="#8e8e8e" stroke-width="0.5" /><line x1="477.14" y1="448.79" x2="483.4" y2="454.46" stroke="#8e8e8e" stroke-width="0.5" /><line x1="476.81" y1="451.09" x2="483.16" y2="456.95" stroke="#8e8e8e" stroke-width="0.5" /><line x1="476.47" y1="453.39" x2="482.92" y2="459.44" stroke="#8e8e8e" stroke-width="0.5" /><line x1="476.14" y1="455.7" x2="482.68" y2="461.93" stroke="#8e8e8e" stroke-width="0.5" /><line x1="497.3" y1="310.6" x2="481.9" y2="470" stroke="#999" stroke-width="0.5" /><line x1="497.3" y1="310.6" x2="475.8" y2="458" stroke="#999" stroke-width="0.5" /></g><g filter="url(#bl)"><ellipse cx="594.6" cy="390.8" rx="101.5" ry="80.8" fill="none" stroke="#444" stroke-width="0.6"/><ellipse cx="594.6" cy="388.2" rx="100.8" ry="75.6" fill="none" stroke="#555" stroke-width="0.5"/><path d="M694.19 382.3 L694.41 385.01 L694.48 387.73 L694.39 390.47 L694.15 393.2 L693.75 395.93 L693.19 398.66 L692.47 401.38 L691.59 404.09 L690.56 406.77 L689.36 409.43 L688.01 412.07 L686.5 414.67 L684.84 417.24 L683.02 419.76 L681.05 422.23 L678.93 424.66 L676.66 427.02 L674.25 429.33 L671.7 431.57 L669.01 433.74 L666.19 435.84 L663.24 437.86 L660.16 439.79 L656.96 441.64 L653.65 443.4 L650.23 445.06 L646.71 446.63 L643.09 448.09 L639.38 449.45 L635.58 450.7 L631.71 451.84 L627.77 452.87 L623.76 453.78 L619.7 454.57 L615.59 455.25 L611.44 455.81 L607.26 456.24 L603.05 456.55 L598.83 456.73 L594.6 456.8 L590.37 456.73 L586.15 456.55 L581.94 456.24 L577.76 455.81 L573.61 455.25 L569.5 454.57 L565.44 453.78 L561.43 452.87 L557.49 451.84 L553.62 450.7 L549.82 449.45 L546.11 448.09 L542.49 446.63 L538.97 445.06 L535.55 443.4 L532.24 441.64 L529.04 439.79 L525.96 437.86 L523.01 435.84 L520.19 433.74 L517.5 431.57 L514.95 429.33 L512.54 427.02 L510.27 424.66 L508.15 422.23 L506.18 419.76 L504.36 417.24 L502.7 414.67 L501.19 412.07 L499.84 409.43 L498.64 406.77 L497.61 404.09 L496.73 401.38 L496.01 398.66 L495.45 395.93 L495.05 393.2 L494.81 390.47 L494.72 387.73 L494.79 385.01 L495.01 382.3 L495.38 379.6 L495.9 376.93 L496.57 374.28 L497.38 371.66 L498.34 369.06 L499.44 366.51 L500.68 363.99 L502.05 361.51 L503.55 359.08 L505.18 356.69 L506.94 354.36 L508.81 352.08 L510.81 349.86 L512.92 347.7 L515.14 345.59 L517.46 343.56 L519.89 341.59 L522.42 339.68 L525.04 337.85 L527.76 336.09 L530.56 334.41 L533.44 332.8 L536.41 331.27 L539.44 329.82 L542.55 328.45 L545.72 327.16 L548.95 325.96 L552.25 324.84 L555.59 323.8 L558.98 322.85 L562.42 321.99 L565.89 321.22 L569.4 320.54 L572.95 319.95 L576.51 319.45 L580.11 319.03 L583.71 318.71 L587.33 318.48 L590.97 318.35 L594.6 318.3 L598.23 318.35 L601.87 318.48 L605.49 318.71 L609.09 319.03 L612.69 319.45 L616.25 319.95 L619.8 320.54 L623.31 321.22 L626.78 321.99 L630.22 322.85 L633.61 323.8 L636.95 324.84 L640.25 325.96 L643.48 327.16 L646.65 328.45 L649.76 329.82 L652.79 331.27 L655.76 332.8 L658.64 334.41 L661.44 336.09 L664.16 337.85 L666.78 339.68 L669.31 341.59 L671.74 343.56 L674.06 345.59 L676.28 347.7 L678.39 349.86 L680.39 352.08 L682.26 354.36 L684.02 356.69 L685.65 359.08 L687.15 361.51 L688.52 363.99 L689.76 366.51 L690.86 369.06 L691.82 371.66 L692.63 374.28 L693.3 376.93 L693.82 379.6 Z M694.19 387.8 L694.41 390.51 L694.48 393.23 L694.39 395.97 L694.15 398.7 L693.75 401.43 L693.19 404.16 L692.47 406.88 L691.59 409.59 L690.56 412.27 L689.36 414.93 L688.01 417.57 L686.5 420.17 L684.84 422.74 L683.02 425.26 L681.05 427.73 L678.93 430.16 L676.66 432.52 L674.25 434.83 L671.7 437.07 L669.01 439.24 L666.19 441.34 L663.24 443.36 L660.16 445.29 L656.96 447.14 L653.65 448.9 L650.23 450.56 L646.71 452.13 L643.09 453.59 L639.38 454.95 L635.58 456.2 L631.71 457.34 L627.77 458.37 L623.76 459.28 L619.7 460.07 L615.59 460.75 L611.44 461.31 L607.26 461.74 L603.05 462.05 L598.83 462.23 L594.6 462.3 L590.37 462.23 L586.15 462.05 L581.94 461.74 L577.76 461.31 L573.61 460.75 L569.5 460.07 L565.44 459.28 L561.43 458.37 L557.49 457.34 L553.62 456.2 L549.82 454.95 L546.11 453.59 L542.49 452.13 L538.97 450.56 L535.55 448.9 L532.24 447.14 L529.04 445.29 L525.96 443.36 L523.01 441.34 L520.19 439.24 L517.5 437.07 L514.95 434.83 L512.54 432.52 L510.27 430.16 L508.15 427.73 L506.18 425.26 L504.36 422.74 L502.7 420.17 L501.19 417.57 L499.84 414.93 L498.64 412.27 L497.61 409.59 L496.73 406.88 L496.01 404.16 L495.45 401.43 L495.05 398.7 L494.81 395.97 L494.72 393.23 L494.79 390.51 L495.01 387.8 L495.38 385.1 L495.9 382.43 L496.57 379.78 L497.38 377.16 L498.34 374.56 L499.44 372.01 L500.68 369.49 L502.05 367.01 L503.55 364.58 L505.18 362.19 L506.94 359.86 L508.81 357.58 L510.81 355.36 L512.92 353.2 L515.14 351.09 L517.46 349.06 L519.89 347.09 L522.42 345.18 L525.04 343.35 L527.76 341.59 L530.56 339.91 L533.44 338.3 L536.41 336.77 L539.44 335.32 L542.55 333.95 L545.72 332.66 L548.95 331.46 L552.25 330.34 L555.59 329.3 L558.98 328.35 L562.42 327.49 L565.89 326.72 L569.4 326.04 L572.95 325.45 L576.51 324.95 L580.11 324.53 L583.71 324.21 L587.33 323.98 L590.97 323.85 L594.6 323.8 L598.23 323.85 L601.87 323.98 L605.49 324.21 L609.09 324.53 L612.69 324.95 L616.25 325.45 L619.8 326.04 L623.31 326.72 L626.78 327.49 L630.22 328.35 L633.61 329.3 L636.95 330.34 L640.25 331.46 L643.48 332.66 L646.65 333.95 L649.76 335.32 L652.79 336.77 L655.76 338.3 L658.64 339.91 L661.44 341.59 L664.16 343.35 L666.78 345.18 L669.31 347.09 L671.74 349.06 L674.06 351.09 L676.28 353.2 L678.39 355.36 L680.39 357.58 L682.26 359.86 L684.02 362.19 L685.65 364.58 L687.15 367.01 L688.52 369.49 L689.76 372.01 L690.86 374.56 L691.82 377.16 L692.63 379.78 L693.3 382.43 L693.82 385.1 Z" fill="#ff1800"/><path d="M694.19 382.3 L694.41 385.01 L694.48 387.73 L694.39 390.47 L694.15 393.2 L693.75 395.93 L693.19 398.66 L692.47 401.38 L691.59 404.09 L690.56 406.77 L689.36 409.43 L688.01 412.07 L686.5 414.67 L684.84 417.24 L683.02 419.76 L681.05 422.23 L678.93 424.66 L676.66 427.02 L674.25 429.33 L671.7 431.57 L669.01 433.74 L666.19 435.84 L663.24 437.86 L660.16 439.79 L656.96 441.64 L653.65 443.4 L650.23 445.06 L646.71 446.63 L643.09 448.09 L639.38 449.45 L635.58 450.7 L631.71 451.84 L627.77 452.87 L623.76 453.78 L619.7 454.57 L615.59 455.25 L611.44 455.81 L607.26 456.24 L603.05 456.55 L598.83 456.73 L594.6 456.8 L590.37 456.73 L586.15 456.55 L581.94 456.24 L577.76 455.81 L573.61 455.25 L569.5 454.57 L565.44 453.78 L561.43 452.87 L557.49 451.84 L553.62 450.7 L549.82 449.45 L546.11 448.09 L542.49 446.63 L538.97 445.06 L535.55 443.4 L532.24 441.64 L529.04 439.79 L525.96 437.86 L523.01 435.84 L520.19 433.74 L517.5 431.57 L514.95 429.33 L512.54 427.02 L510.27 424.66 L508.15 422.23 L506.18 419.76 L504.36 417.24 L502.7 414.67 L501.19 412.07 L499.84 409.43 L498.64 406.77 L497.61 404.09 L496.73 401.38 L496.01 398.66 L495.45 395.93 L495.05 393.2 L494.81 390.47 L494.72 387.73 L494.79 385.01 L495.01 382.3 L495.38 379.6 L495.9 376.93 L496.57 374.28 L497.38 371.66 L498.34 369.06 L499.44 366.51 L500.68 363.99 L502.05 361.51 L503.55 359.08 L505.18 356.69 L506.94 354.36 L508.81 352.08 L510.81 349.86 L512.92 347.7 L515.14 345.59 L517.46 343.56 L519.89 341.59 L522.42 339.68 L525.04 337.85 L527.76 336.09 L530.56 334.41 L533.44 332.8 L536.41 331.27 L539.44 329.82 L542.55 328.45 L545.72 327.16 L548.95 325.96 L552.25 324.84 L555.59 323.8 L558.98 322.85 L562.42 321.99 L565.89 321.22 L569.4 320.54 L572.95 319.95 L576.51 319.45 L580.11 319.03 L583.71 318.71 L587.33 318.48 L590.97 318.35 L594.6 318.3 L598.23 318.35 L601.87 318.48 L605.49 318.71 L609.09 319.03 L612.69 319.45 L616.25 319.95 L619.8 320.54 L623.31 321.22 L626.78 321.99 L630.22 322.85 L633.61 323.8 L636.95 324.84 L640.25 325.96 L643.48 327.16 L646.65 328.45 L649.76 329.82 L652.79 331.27 L655.76 332.8 L658.64 334.41 L661.44 336.09 L664.16 337.85 L666.78 339.68 L669.31 341.59 L671.74 343.56 L674.06 345.59 L676.28 347.7 L678.39 349.86 L680.39 352.08 L682.26 354.36 L684.02 356.69 L685.65 359.08 L687.15 361.51 L688.52 363.99 L689.76 366.51 L690.86 369.06 L691.82 371.66 L692.63 374.28 L693.3 376.93 L693.82 379.6 Z" fill="url(#gD)"/><clipPath id="clipD"><path d="M693.99 382.3 L694.21 385.01 L694.28 387.72 L694.19 390.45 L693.95 393.18 L693.55 395.91 L692.99 398.63 L692.27 401.34 L691.39 404.04 L690.36 406.72 L689.17 409.38 L687.82 412.01 L686.31 414.6 L684.65 417.16 L682.84 419.68 L680.87 422.15 L678.75 424.57 L676.49 426.93 L674.09 429.23 L671.54 431.47 L668.85 433.63 L666.04 435.72 L663.09 437.74 L660.02 439.67 L656.83 441.51 L653.53 443.27 L650.11 444.93 L646.6 446.49 L642.99 447.95 L639.28 449.3 L635.49 450.55 L631.63 451.69 L627.7 452.72 L623.7 453.63 L619.65 454.42 L615.54 455.09 L611.4 455.65 L607.23 456.08 L603.03 456.39 L598.82 456.57 L594.6 456.64 L590.38 456.57 L586.17 456.39 L581.97 456.08 L577.8 455.65 L573.66 455.09 L569.55 454.42 L565.5 453.63 L561.5 452.72 L557.57 451.69 L553.71 450.55 L549.92 449.3 L546.21 447.95 L542.6 446.49 L539.09 444.93 L535.67 443.27 L532.37 441.51 L529.18 439.67 L526.11 437.74 L523.16 435.72 L520.35 433.63 L517.66 431.47 L515.11 429.23 L512.71 426.93 L510.45 424.57 L508.33 422.15 L506.36 419.68 L504.55 417.16 L502.89 414.6 L501.38 412.01 L500.03 409.38 L498.84 406.72 L497.81 404.04 L496.93 401.34 L496.21 398.63 L495.65 395.91 L495.25 393.18 L495.01 390.45 L494.92 387.72 L494.99 385.01 L495.21 382.3 L495.58 379.61 L496.1 376.94 L496.76 374.29 L497.58 371.68 L498.53 369.09 L499.63 366.54 L500.86 364.02 L502.23 361.55 L503.73 359.12 L505.35 356.74 L507.11 354.42 L508.98 352.14 L510.97 349.92 L513.07 347.76 L515.29 345.67 L517.61 343.63 L520.04 341.66 L522.56 339.76 L525.18 337.94 L527.89 336.18 L530.68 334.5 L533.56 332.89 L536.52 331.37 L539.55 329.92 L542.65 328.55 L545.81 327.26 L549.04 326.06 L552.33 324.94 L555.66 323.91 L559.05 322.97 L562.48 322.11 L565.95 321.34 L569.45 320.66 L572.99 320.06 L576.55 319.56 L580.13 319.15 L583.73 318.83 L587.35 318.6 L590.97 318.47 L594.6 318.42 L598.23 318.47 L601.85 318.6 L605.47 318.83 L609.07 319.15 L612.65 319.56 L616.21 320.06 L619.75 320.66 L623.25 321.34 L626.72 322.11 L630.15 322.97 L633.54 323.91 L636.87 324.94 L640.16 326.06 L643.39 327.26 L646.55 328.55 L649.65 329.92 L652.68 331.37 L655.64 332.89 L658.52 334.5 L661.31 336.18 L664.02 337.94 L666.64 339.76 L669.16 341.66 L671.59 343.63 L673.91 345.67 L676.13 347.76 L678.23 349.92 L680.22 352.14 L682.09 354.42 L683.85 356.74 L685.47 359.12 L686.97 361.55 L688.34 364.02 L689.57 366.54 L690.67 369.09 L691.62 371.68 L692.44 374.29 L693.1 376.94 L693.62 379.61 Z"/></clipPath><g transform="translate(0,-1.8)" clip-path="url(#clipD)"><path d="M577.37 318.9 L584.04 318.9 L583.99 322.49 L577.3 322.49 Z" fill="#ffc600"/><path d="M577.3 322.49 L583.99 322.49 L583.98 323.57 L577.27 323.57 Z" fill="#cc7400"/><line x1="577.3" y1="322.49" x2="583.99" y2="322.49" stroke="#4a1800" stroke-width="0.6" /><path d="M586.63 318.9 L593.3 318.9 L593.3 322.49 L586.6 322.49 Z" fill="#ffc600"/><path d="M586.6 322.49 L593.3 322.49 L593.3 323.57 L586.59 323.57 Z" fill="#cc7400"/><line x1="586.6" y1="322.49" x2="593.3" y2="322.49" stroke="#4a1800" stroke-width="0.6" /><path d="M595.9 318.9 L602.57 318.9 L602.6 322.49 L595.9 322.49 Z" fill="#ffc600"/><path d="M595.9 322.49 L602.6 322.49 L602.61 323.57 L595.9 323.57 Z" fill="#cc7400"/><line x1="595.9" y1="322.49" x2="602.6" y2="322.49" stroke="#4a1800" stroke-width="0.6" /><path d="M605.16 318.9 L611.83 318.9 L611.9 322.49 L605.21 322.49 Z" fill="#ffc600"/><path d="M605.21 322.49 L611.9 322.49 L611.93 323.57 L605.22 323.57 Z" fill="#cc7400"/><line x1="605.21" y1="322.49" x2="611.9" y2="322.49" stroke="#4a1800" stroke-width="0.6" /><path d="M549.26 324.9 L555.97 324.9 L555.81 328.54 L549.06 328.54 Z" fill="#ffc600"/><path d="M549.06 328.54 L555.81 328.54 L555.76 329.64 L549 329.64 Z" fill="#cc7400"/><line x1="549.06" y1="328.54" x2="555.81" y2="328.54" stroke="#4a1800" stroke-width="0.6" /><path d="M558.59 324.9 L565.3 324.9 L565.18 328.54 L558.43 328.54 Z" fill="#ffc600"/><path d="M558.43 328.54 L565.18 328.54 L565.14 329.64 L558.39 329.64 Z" fill="#cc7400"/><line x1="558.43" y1="328.54" x2="565.18" y2="328.54" stroke="#4a1800" stroke-width="0.6" /><path d="M567.92 324.9 L574.63 324.9 L574.55 328.54 L567.8 328.54 Z" fill="#ffc600"/><path d="M567.8 328.54 L574.55 328.54 L574.52 329.64 L567.77 329.64 Z" fill="#cc7400"/><line x1="567.8" y1="328.54" x2="574.55" y2="328.54" stroke="#4a1800" stroke-width="0.6" /><path d="M577.25 324.9 L583.96 324.9 L583.92 328.54 L577.17 328.54 Z" fill="#ffc600"/><path d="M577.17 328.54 L583.92 328.54 L583.9 329.64 L577.15 329.64 Z" fill="#cc7400"/><line x1="577.17" y1="328.54" x2="583.92" y2="328.54" stroke="#4a1800" stroke-width="0.6" /><path d="M586.58 324.9 L593.29 324.9 L593.29 328.54 L586.54 328.54 Z" fill="#ffc600"/><path d="M586.54 328.54 L593.29 328.54 L593.29 329.64 L586.53 329.64 Z" fill="#cc7400"/><line x1="586.54" y1="328.54" x2="593.29" y2="328.54" stroke="#4a1800" stroke-width="0.6" /><path d="M595.91 324.9 L602.62 324.9 L602.66 328.54 L595.91 328.54 Z" fill="#ffc600"/><path d="M595.91 328.54 L602.66 328.54 L602.67 329.64 L595.91 329.64 Z" fill="#cc7400"/><line x1="595.91" y1="328.54" x2="602.66" y2="328.54" stroke="#4a1800" stroke-width="0.6" /><path d="M605.24 324.9 L611.95 324.9 L612.03 328.54 L605.28 328.54 Z" fill="#ffc600"/><path d="M605.28 328.54 L612.03 328.54 L612.05 329.64 L605.3 329.64 Z" fill="#cc7400"/><line x1="605.28" y1="328.54" x2="612.03" y2="328.54" stroke="#4a1800" stroke-width="0.6" /><path d="M614.57 324.9 L621.28 324.9 L621.4 328.54 L614.65 328.54 Z" fill="#ffc600"/><path d="M614.65 328.54 L621.4 328.54 L621.43 329.64 L614.68 329.64 Z" fill="#cc7400"/><line x1="614.65" y1="328.54" x2="621.4" y2="328.54" stroke="#4a1800" stroke-width="0.6" /><path d="M623.9 324.9 L630.61 324.9 L630.77 328.54 L624.02 328.54 Z" fill="#ffc600"/><path d="M624.02 328.54 L630.77 328.54 L630.81 329.64 L624.06 329.64 Z" fill="#cc7400"/><line x1="624.02" y1="328.54" x2="630.77" y2="328.54" stroke="#4a1800" stroke-width="0.6" /><path d="M633.23 324.9 L639.94 324.9 L640.14 328.54 L633.39 328.54 Z" fill="#ffc600"/><path d="M633.39 328.54 L640.14 328.54 L640.2 329.64 L633.44 329.64 Z" fill="#cc7400"/><line x1="633.39" y1="328.54" x2="640.14" y2="328.54" stroke="#4a1800" stroke-width="0.6" /><path d="M539.54 330.98 L546.3 330.98 L546.09 334.67 L539.3 334.67 Z" fill="#ffc600"/><path d="M539.3 334.67 L546.09 334.67 L546.03 335.79 L539.23 335.79 Z" fill="#cc7400"/><line x1="539.3" y1="334.67" x2="546.09" y2="334.67" stroke="#4a1800" stroke-width="0.6" /><path d="M548.93 330.98 L555.7 330.98 L555.53 334.67 L548.74 334.67 Z" fill="#ffc600"/><path d="M548.74 334.67 L555.53 334.67 L555.48 335.79 L548.68 335.79 Z" fill="#cc7400"/><line x1="548.74" y1="334.67" x2="555.53" y2="334.67" stroke="#4a1800" stroke-width="0.6" /><path d="M558.33 330.98 L565.09 330.98 L564.97 334.67 L558.17 334.67 Z" fill="#ffc600"/><path d="M558.17 334.67 L564.97 334.67 L564.93 335.79 L558.13 335.79 Z" fill="#cc7400"/><line x1="558.17" y1="334.67" x2="564.97" y2="334.67" stroke="#4a1800" stroke-width="0.6" /><path d="M567.73 330.98 L574.49 330.98 L574.4 334.67 L567.61 334.67 Z" fill="#ffc600"/><path d="M567.61 334.67 L574.4 334.67 L574.38 335.79 L567.57 335.79 Z" fill="#cc7400"/><line x1="567.61" y1="334.67" x2="574.4" y2="334.67" stroke="#4a1800" stroke-width="0.6" /><path d="M577.12 330.98 L583.89 330.98 L583.84 334.67 L577.05 334.67 Z" fill="#ffc600"/><path d="M577.05 334.67 L583.84 334.67 L583.83 335.79 L577.02 335.79 Z" fill="#cc7400"/><line x1="577.05" y1="334.67" x2="583.84" y2="334.67" stroke="#4a1800" stroke-width="0.6" /><path d="M586.52 330.98 L593.28 330.98 L593.28 334.67 L586.48 334.67 Z" fill="#ffc600"/><path d="M586.48 334.67 L593.28 334.67 L593.28 335.79 L586.47 335.79 Z" fill="#cc7400"/><line x1="586.48" y1="334.67" x2="593.28" y2="334.67" stroke="#4a1800" stroke-width="0.6" /><path d="M595.92 330.98 L602.68 330.98 L602.72 334.67 L595.92 334.67 Z" fill="#ffc600"/><path d="M595.92 334.67 L602.72 334.67 L602.73 335.79 L595.92 335.79 Z" fill="#cc7400"/><line x1="595.92" y1="334.67" x2="602.72" y2="334.67" stroke="#4a1800" stroke-width="0.6" /><path d="M605.31 330.98 L612.08 330.98 L612.15 334.67 L605.36 334.67 Z" fill="#ffc600"/><path d="M605.36 334.67 L612.15 334.67 L612.18 335.79 L605.37 335.79 Z" fill="#cc7400"/><line x1="605.36" y1="334.67" x2="612.15" y2="334.67" stroke="#4a1800" stroke-width="0.6" /><path d="M614.71 330.98 L621.47 330.98 L621.59 334.67 L614.8 334.67 Z" fill="#ffc600"/><path d="M614.8 334.67 L621.59 334.67 L621.63 335.79 L614.82 335.79 Z" fill="#cc7400"/><line x1="614.8" y1="334.67" x2="621.59" y2="334.67" stroke="#4a1800" stroke-width="0.6" /><path d="M624.11 330.98 L630.87 330.98 L631.03 334.67 L624.23 334.67 Z" fill="#ffc600"/><path d="M624.23 334.67 L631.03 334.67 L631.07 335.79 L624.27 335.79 Z" fill="#cc7400"/><line x1="624.23" y1="334.67" x2="631.03" y2="334.67" stroke="#4a1800" stroke-width="0.6" /><path d="M633.5 330.98 L640.27 330.98 L640.46 334.67 L633.67 334.67 Z" fill="#ffc600"/><path d="M633.67 334.67 L640.46 334.67 L640.52 335.79 L633.72 335.79 Z" fill="#cc7400"/><line x1="633.67" y1="334.67" x2="640.46" y2="334.67" stroke="#4a1800" stroke-width="0.6" /><path d="M642.9 330.98 L649.66 330.98 L649.9 334.67 L643.11 334.67 Z" fill="#ffc600"/><path d="M643.11 334.67 L649.9 334.67 L649.97 335.79 L643.17 335.79 Z" fill="#cc7400"/><line x1="643.11" y1="334.67" x2="649.9" y2="334.67" stroke="#4a1800" stroke-width="0.6" /><path d="M529.67 337.15 L536.49 337.15 L536.24 340.9 L529.39 340.9 Z" fill="#ffc600"/><path d="M529.39 340.9 L536.24 340.9 L536.16 342.03 L529.31 342.03 Z" fill="#cc7400"/><line x1="529.39" y1="340.9" x2="536.24" y2="340.9" stroke="#4a1800" stroke-width="0.6" /><path d="M539.14 337.15 L545.95 337.15 L545.74 340.9 L538.9 340.9 Z" fill="#ffc600"/><path d="M538.9 340.9 L545.74 340.9 L545.68 342.03 L538.83 342.03 Z" fill="#cc7400"/><line x1="538.9" y1="340.9" x2="545.74" y2="340.9" stroke="#4a1800" stroke-width="0.6" /><path d="M548.6 337.15 L555.42 337.15 L555.25 340.9 L548.4 340.9 Z" fill="#ffc600"/><path d="M548.4 340.9 L555.25 340.9 L555.2 342.03 L548.34 342.03 Z" fill="#cc7400"/><line x1="548.4" y1="340.9" x2="555.25" y2="340.9" stroke="#4a1800" stroke-width="0.6" /><path d="M558.07 337.15 L564.88 337.15 L564.75 340.9 L557.91 340.9 Z" fill="#ffc600"/><path d="M557.91 340.9 L564.75 340.9 L564.71 342.03 L557.86 342.03 Z" fill="#cc7400"/><line x1="557.91" y1="340.9" x2="564.75" y2="340.9" stroke="#4a1800" stroke-width="0.6" /><path d="M567.53 337.15 L574.35 337.15 L574.26 340.9 L567.41 340.9 Z" fill="#ffc600"/><path d="M567.41 340.9 L574.26 340.9 L574.23 342.03 L567.38 342.03 Z" fill="#cc7400"/><line x1="567.41" y1="340.9" x2="574.26" y2="340.9" stroke="#4a1800" stroke-width="0.6" /><path d="M577 337.15 L583.81 337.15 L583.76 340.9 L576.92 340.9 Z" fill="#ffc600"/><path d="M576.92 340.9 L583.76 340.9 L583.75 342.03 L576.9 342.03 Z" fill="#cc7400"/><line x1="576.92" y1="340.9" x2="583.76" y2="340.9" stroke="#4a1800" stroke-width="0.6" /><path d="M586.46 337.15 L593.27 337.15 L593.27 340.9 L586.43 340.9 Z" fill="#ffc600"/><path d="M586.43 340.9 L593.27 340.9 L593.27 342.03 L586.41 342.03 Z" fill="#cc7400"/><line x1="586.43" y1="340.9" x2="593.27" y2="340.9" stroke="#4a1800" stroke-width="0.6" /><path d="M595.93 337.15 L602.74 337.15 L602.77 340.9 L595.93 340.9 Z" fill="#ffc600"/><path d="M595.93 340.9 L602.77 340.9 L602.79 342.03 L595.93 342.03 Z" fill="#cc7400"/><line x1="595.93" y1="340.9" x2="602.77" y2="340.9" stroke="#4a1800" stroke-width="0.6" /><path d="M605.39 337.15 L612.2 337.15 L612.28 340.9 L605.44 340.9 Z" fill="#ffc600"/><path d="M605.44 340.9 L612.28 340.9 L612.3 342.03 L605.45 342.03 Z" fill="#cc7400"/><line x1="605.44" y1="340.9" x2="612.28" y2="340.9" stroke="#4a1800" stroke-width="0.6" /><path d="M614.85 337.15 L621.67 337.15 L621.79 340.9 L614.94 340.9 Z" fill="#ffc600"/><path d="M614.94 340.9 L621.79 340.9 L621.82 342.03 L614.97 342.03 Z" fill="#cc7400"/><line x1="614.94" y1="340.9" x2="621.79" y2="340.9" stroke="#4a1800" stroke-width="0.6" /><path d="M624.32 337.15 L631.13 337.15 L631.29 340.9 L624.45 340.9 Z" fill="#ffc600"/><path d="M624.45 340.9 L631.29 340.9 L631.34 342.03 L624.49 342.03 Z" fill="#cc7400"/><line x1="624.45" y1="340.9" x2="631.29" y2="340.9" stroke="#4a1800" stroke-width="0.6" /><path d="M633.78 337.15 L640.6 337.15 L640.8 340.9 L633.95 340.9 Z" fill="#ffc600"/><path d="M633.95 340.9 L640.8 340.9 L640.86 342.03 L634 342.03 Z" fill="#cc7400"/><line x1="633.95" y1="340.9" x2="640.8" y2="340.9" stroke="#4a1800" stroke-width="0.6" /><path d="M643.25 337.15 L650.06 337.15 L650.3 340.9 L643.46 340.9 Z" fill="#ffc600"/><path d="M643.46 340.9 L650.3 340.9 L650.37 342.03 L643.52 342.03 Z" fill="#cc7400"/><line x1="643.46" y1="340.9" x2="650.3" y2="340.9" stroke="#4a1800" stroke-width="0.6" /><path d="M652.71 337.15 L659.53 337.15 L659.81 340.9 L652.96 340.9 Z" fill="#ffc600"/><path d="M652.96 340.9 L659.81 340.9 L659.89 342.03 L653.04 342.03 Z" fill="#cc7400"/><line x1="652.96" y1="340.9" x2="659.81" y2="340.9" stroke="#4a1800" stroke-width="0.6" /><path d="M519.67 343.42 L526.53 343.42 L526.24 347.22 L519.34 347.22 Z" fill="#ffc600"/><path d="M519.34 347.22 L526.24 347.22 L526.15 348.37 L519.24 348.37 Z" fill="#cc7400"/><line x1="519.34" y1="347.22" x2="526.24" y2="347.22" stroke="#4a1800" stroke-width="0.6" /><path d="M529.2 343.42 L536.07 343.42 L535.81 347.22 L528.92 347.22 Z" fill="#ffc600"/><path d="M528.92 347.22 L535.81 347.22 L535.73 348.37 L528.83 348.37 Z" fill="#cc7400"/><line x1="528.92" y1="347.22" x2="535.81" y2="347.22" stroke="#4a1800" stroke-width="0.6" /><path d="M538.74 343.42 L545.6 343.42 L545.39 347.22 L538.49 347.22 Z" fill="#ffc600"/><path d="M538.49 347.22 L545.39 347.22 L545.32 348.37 L538.42 348.37 Z" fill="#cc7400"/><line x1="538.49" y1="347.22" x2="545.39" y2="347.22" stroke="#4a1800" stroke-width="0.6" /><path d="M548.27 343.42 L555.13 343.42 L554.96 347.22 L548.07 347.22 Z" fill="#ffc600"/><path d="M548.07 347.22 L554.96 347.22 L554.91 348.37 L548.01 348.37 Z" fill="#cc7400"/><line x1="548.07" y1="347.22" x2="554.96" y2="347.22" stroke="#4a1800" stroke-width="0.6" /><path d="M557.8 343.42 L564.67 343.42 L564.54 347.22 L557.64 347.22 Z" fill="#ffc600"/><path d="M557.64 347.22 L564.54 347.22 L564.5 348.37 L557.59 348.37 Z" fill="#cc7400"/><line x1="557.64" y1="347.22" x2="564.54" y2="347.22" stroke="#4a1800" stroke-width="0.6" /><path d="M567.34 343.42 L574.2 343.42 L574.11 347.22 L567.22 347.22 Z" fill="#ffc600"/><path d="M567.22 347.22 L574.11 347.22 L574.08 348.37 L567.18 348.37 Z" fill="#cc7400"/><line x1="567.22" y1="347.22" x2="574.11" y2="347.22" stroke="#4a1800" stroke-width="0.6" /><path d="M576.87 343.42 L583.73 343.42 L583.68 347.22 L576.79 347.22 Z" fill="#ffc600"/><path d="M576.79 347.22 L583.68 347.22 L583.67 348.37 L576.77 348.37 Z" fill="#cc7400"/><line x1="576.79" y1="347.22" x2="583.68" y2="347.22" stroke="#4a1800" stroke-width="0.6" /><path d="M586.4 343.42 L593.27 343.42 L593.26 347.22 L586.37 347.22 Z" fill="#ffc600"/><path d="M586.37 347.22 L593.26 347.22 L593.26 348.37 L586.35 348.37 Z" fill="#cc7400"/><line x1="586.37" y1="347.22" x2="593.26" y2="347.22" stroke="#4a1800" stroke-width="0.6" /><path d="M595.93 343.42 L602.8 343.42 L602.83 347.22 L595.94 347.22 Z" fill="#ffc600"/><path d="M595.94 347.22 L602.83 347.22 L602.85 348.37 L595.94 348.37 Z" fill="#cc7400"/><line x1="595.94" y1="347.22" x2="602.83" y2="347.22" stroke="#4a1800" stroke-width="0.6" /><path d="M605.47 343.42 L612.33 343.42 L612.41 347.22 L605.52 347.22 Z" fill="#ffc600"/><path d="M605.52 347.22 L612.41 347.22 L612.43 348.37 L605.53 348.37 Z" fill="#cc7400"/><line x1="605.52" y1="347.22" x2="612.41" y2="347.22" stroke="#4a1800" stroke-width="0.6" /><path d="M615 343.42 L621.86 343.42 L621.98 347.22 L615.09 347.22 Z" fill="#ffc600"/><path d="M615.09 347.22 L621.98 347.22 L622.02 348.37 L615.12 348.37 Z" fill="#cc7400"/><line x1="615.09" y1="347.22" x2="621.98" y2="347.22" stroke="#4a1800" stroke-width="0.6" /><path d="M624.53 343.42 L631.4 343.42 L631.56 347.22 L624.66 347.22 Z" fill="#ffc600"/><path d="M624.66 347.22 L631.56 347.22 L631.61 348.37 L624.7 348.37 Z" fill="#cc7400"/><line x1="624.66" y1="347.22" x2="631.56" y2="347.22" stroke="#4a1800" stroke-width="0.6" /><path d="M634.07 343.42 L640.93 343.42 L641.13 347.22 L634.24 347.22 Z" fill="#ffc600"/><path d="M634.24 347.22 L641.13 347.22 L641.19 348.37 L634.29 348.37 Z" fill="#cc7400"/><line x1="634.24" y1="347.22" x2="641.13" y2="347.22" stroke="#4a1800" stroke-width="0.6" /><path d="M643.6 343.42 L650.46 343.42 L650.71 347.22 L643.81 347.22 Z" fill="#ffc600"/><path d="M643.81 347.22 L650.71 347.22 L650.78 348.37 L643.88 348.37 Z" fill="#cc7400"/><line x1="643.81" y1="347.22" x2="650.71" y2="347.22" stroke="#4a1800" stroke-width="0.6" /><path d="M653.13 343.42 L660 343.42 L660.28 347.22 L653.39 347.22 Z" fill="#ffc600"/><path d="M653.39 347.22 L660.28 347.22 L660.37 348.37 L653.47 348.37 Z" fill="#cc7400"/><line x1="653.39" y1="347.22" x2="660.28" y2="347.22" stroke="#4a1800" stroke-width="0.6" /><path d="M662.67 343.42 L669.53 343.42 L669.86 347.22 L662.96 347.22 Z" fill="#ffc600"/><path d="M662.96 347.22 L669.86 347.22 L669.96 348.37 L663.05 348.37 Z" fill="#cc7400"/><line x1="662.96" y1="347.22" x2="669.86" y2="347.22" stroke="#4a1800" stroke-width="0.6" /><path d="M509.52 349.77 L516.43 349.77 L516.09 353.63 L509.15 353.63 Z" fill="#ffc600"/><path d="M509.15 353.63 L516.09 353.63 L515.99 354.79 L509.03 354.79 Z" fill="#cc7400"/><line x1="509.15" y1="353.63" x2="516.09" y2="353.63" stroke="#4a1800" stroke-width="0.6" /><path d="M519.12 349.77 L526.04 349.77 L525.73 353.63 L518.79 353.63 Z" fill="#ffc600"/><path d="M518.79 353.63 L525.73 353.63 L525.64 354.79 L518.69 354.79 Z" fill="#cc7400"/><line x1="518.79" y1="353.63" x2="525.73" y2="353.63" stroke="#4a1800" stroke-width="0.6" /><path d="M528.73 349.77 L535.64 349.77 L535.38 353.63 L528.44 353.63 Z" fill="#ffc600"/><path d="M528.44 353.63 L535.38 353.63 L535.3 354.79 L528.35 354.79 Z" fill="#cc7400"/><line x1="528.44" y1="353.63" x2="535.38" y2="353.63" stroke="#4a1800" stroke-width="0.6" /><path d="M538.33 349.77 L545.24 349.77 L545.02 353.63 L538.08 353.63 Z" fill="#ffc600"/><path d="M538.08 353.63 L545.02 353.63 L544.96 354.79 L538.01 354.79 Z" fill="#cc7400"/><line x1="538.08" y1="353.63" x2="545.02" y2="353.63" stroke="#4a1800" stroke-width="0.6" /><path d="M547.93 349.77 L554.84 349.77 L554.67 353.63 L547.73 353.63 Z" fill="#ffc600"/><path d="M547.73 353.63 L554.67 353.63 L554.62 354.79 L547.66 354.79 Z" fill="#cc7400"/><line x1="547.73" y1="353.63" x2="554.67" y2="353.63" stroke="#4a1800" stroke-width="0.6" /><path d="M557.53 349.77 L564.45 349.77 L564.31 353.63 L557.37 353.63 Z" fill="#ffc600"/><path d="M557.37 353.63 L564.31 353.63 L564.27 354.79 L557.32 354.79 Z" fill="#cc7400"/><line x1="557.37" y1="353.63" x2="564.31" y2="353.63" stroke="#4a1800" stroke-width="0.6" /><path d="M567.14 349.77 L574.05 349.77 L573.96 353.63 L567.02 353.63 Z" fill="#ffc600"/><path d="M567.02 353.63 L573.96 353.63 L573.93 354.79 L566.98 354.79 Z" fill="#cc7400"/><line x1="567.02" y1="353.63" x2="573.96" y2="353.63" stroke="#4a1800" stroke-width="0.6" /><path d="M576.74 349.77 L583.65 349.77 L583.6 353.63 L576.66 353.63 Z" fill="#ffc600"/><path d="M576.66 353.63 L583.6 353.63 L583.59 354.79 L576.64 354.79 Z" fill="#cc7400"/><line x1="576.66" y1="353.63" x2="583.6" y2="353.63" stroke="#4a1800" stroke-width="0.6" /><path d="M586.34 349.77 L593.26 349.77 L593.25 353.63 L586.31 353.63 Z" fill="#ffc600"/><path d="M586.31 353.63 L593.25 353.63 L593.25 354.79 L586.29 354.79 Z" fill="#cc7400"/><line x1="586.31" y1="353.63" x2="593.25" y2="353.63" stroke="#4a1800" stroke-width="0.6" /><path d="M595.94 349.77 L602.86 349.77 L602.89 353.63 L595.95 353.63 Z" fill="#ffc600"/><path d="M595.95 353.63 L602.89 353.63 L602.91 354.79 L595.95 354.79 Z" fill="#cc7400"/><line x1="595.95" y1="353.63" x2="602.89" y2="353.63" stroke="#4a1800" stroke-width="0.6" /><path d="M605.55 349.77 L612.46 349.77 L612.54 353.63 L605.6 353.63 Z" fill="#ffc600"/><path d="M605.6 353.63 L612.54 353.63 L612.56 354.79 L605.61 354.79 Z" fill="#cc7400"/><line x1="605.6" y1="353.63" x2="612.54" y2="353.63" stroke="#4a1800" stroke-width="0.6" /><path d="M615.15 349.77 L622.06 349.77 L622.18 353.63 L615.24 353.63 Z" fill="#ffc600"/><path d="M615.24 353.63 L622.18 353.63 L622.22 354.79 L615.27 354.79 Z" fill="#cc7400"/><line x1="615.24" y1="353.63" x2="622.18" y2="353.63" stroke="#4a1800" stroke-width="0.6" /><path d="M624.75 349.77 L631.67 349.77 L631.83 353.63 L624.89 353.63 Z" fill="#ffc600"/><path d="M624.89 353.63 L631.83 353.63 L631.88 354.79 L624.93 354.79 Z" fill="#cc7400"/><line x1="624.89" y1="353.63" x2="631.83" y2="353.63" stroke="#4a1800" stroke-width="0.6" /><path d="M634.36 349.77 L641.27 349.77 L641.47 353.63 L634.53 353.63 Z" fill="#ffc600"/><path d="M634.53 353.63 L641.47 353.63 L641.54 354.79 L634.58 354.79 Z" fill="#cc7400"/><line x1="634.53" y1="353.63" x2="641.47" y2="353.63" stroke="#4a1800" stroke-width="0.6" /><path d="M643.96 349.77 L650.87 349.77 L651.12 353.63 L644.18 353.63 Z" fill="#ffc600"/><path d="M644.18 353.63 L651.12 353.63 L651.19 354.79 L644.24 354.79 Z" fill="#cc7400"/><line x1="644.18" y1="353.63" x2="651.12" y2="353.63" stroke="#4a1800" stroke-width="0.6" /><path d="M653.56 349.77 L660.47 349.77 L660.76 353.63 L653.82 353.63 Z" fill="#ffc600"/><path d="M653.82 353.63 L660.76 353.63 L660.85 354.79 L653.9 354.79 Z" fill="#cc7400"/><line x1="653.82" y1="353.63" x2="660.76" y2="353.63" stroke="#4a1800" stroke-width="0.6" /><path d="M663.16 349.77 L670.08 349.77 L670.41 353.63 L663.47 353.63 Z" fill="#ffc600"/><path d="M663.47 353.63 L670.41 353.63 L670.51 354.79 L663.56 354.79 Z" fill="#cc7400"/><line x1="663.47" y1="353.63" x2="670.41" y2="353.63" stroke="#4a1800" stroke-width="0.6" /><path d="M672.77 349.77 L679.68 349.77 L680.05 353.63 L673.11 353.63 Z" fill="#ffc600"/><path d="M673.11 353.63 L680.05 353.63 L680.17 354.79 L673.21 354.79 Z" fill="#cc7400"/><line x1="673.11" y1="353.63" x2="680.05" y2="353.63" stroke="#4a1800" stroke-width="0.6" /><path d="M508.89 356.22 L515.86 356.22 L515.51 360.13 L508.51 360.13 Z" fill="#ffc600"/><path d="M508.51 360.13 L515.51 360.13 L515.4 361.32 L508.4 361.32 Z" fill="#cc7400"/><line x1="508.51" y1="360.13" x2="515.51" y2="360.13" stroke="#4a1800" stroke-width="0.6" /><path d="M518.57 356.22 L525.53 356.22 L525.23 360.13 L518.23 360.13 Z" fill="#ffc600"/><path d="M518.23 360.13 L525.23 360.13 L525.13 361.32 L518.13 361.32 Z" fill="#cc7400"/><line x1="518.23" y1="360.13" x2="525.23" y2="360.13" stroke="#4a1800" stroke-width="0.6" /><path d="M528.24 356.22 L535.21 356.22 L534.94 360.13 L527.95 360.13 Z" fill="#ffc600"/><path d="M527.95 360.13 L534.94 360.13 L534.86 361.32 L527.86 361.32 Z" fill="#cc7400"/><line x1="527.95" y1="360.13" x2="534.94" y2="360.13" stroke="#4a1800" stroke-width="0.6" /><path d="M537.91 356.22 L544.88 356.22 L544.66 360.13 L537.66 360.13 Z" fill="#ffc600"/><path d="M537.66 360.13 L544.66 360.13 L544.59 361.32 L537.59 361.32 Z" fill="#cc7400"/><line x1="537.66" y1="360.13" x2="544.66" y2="360.13" stroke="#4a1800" stroke-width="0.6" /><path d="M547.59 356.22 L554.55 356.22 L554.37 360.13 L547.38 360.13 Z" fill="#ffc600"/><path d="M547.38 360.13 L554.37 360.13 L554.32 361.32 L547.32 361.32 Z" fill="#cc7400"/><line x1="547.38" y1="360.13" x2="554.37" y2="360.13" stroke="#4a1800" stroke-width="0.6" /><path d="M557.26 356.22 L564.23 356.22 L564.09 360.13 L557.09 360.13 Z" fill="#ffc600"/><path d="M557.09 360.13 L564.09 360.13 L564.05 361.32 L557.04 361.32 Z" fill="#cc7400"/><line x1="557.09" y1="360.13" x2="564.09" y2="360.13" stroke="#4a1800" stroke-width="0.6" /><path d="M566.93 356.22 L573.9 356.22 L573.81 360.13 L566.81 360.13 Z" fill="#ffc600"/><path d="M566.81 360.13 L573.81 360.13 L573.78 361.32 L566.77 361.32 Z" fill="#cc7400"/><line x1="566.81" y1="360.13" x2="573.81" y2="360.13" stroke="#4a1800" stroke-width="0.6" /><path d="M576.61 356.22 L583.57 356.22 L583.52 360.13 L576.53 360.13 Z" fill="#ffc600"/><path d="M576.53 360.13 L583.52 360.13 L583.51 361.32 L576.5 361.32 Z" fill="#cc7400"/><line x1="576.53" y1="360.13" x2="583.52" y2="360.13" stroke="#4a1800" stroke-width="0.6" /><path d="M586.28 356.22 L593.25 356.22 L593.24 360.13 L586.24 360.13 Z" fill="#ffc600"/><path d="M586.24 360.13 L593.24 360.13 L593.24 361.32 L586.23 361.32 Z" fill="#cc7400"/><line x1="586.24" y1="360.13" x2="593.24" y2="360.13" stroke="#4a1800" stroke-width="0.6" /><path d="M595.95 356.22 L602.92 356.22 L602.96 360.13 L595.96 360.13 Z" fill="#ffc600"/><path d="M595.96 360.13 L602.96 360.13 L602.97 361.32 L595.96 361.32 Z" fill="#cc7400"/><line x1="595.96" y1="360.13" x2="602.96" y2="360.13" stroke="#4a1800" stroke-width="0.6" /><path d="M605.63 356.22 L612.59 356.22 L612.67 360.13 L605.68 360.13 Z" fill="#ffc600"/><path d="M605.68 360.13 L612.67 360.13 L612.7 361.32 L605.69 361.32 Z" fill="#cc7400"/><line x1="605.68" y1="360.13" x2="612.67" y2="360.13" stroke="#4a1800" stroke-width="0.6" /><path d="M615.3 356.22 L622.27 356.22 L622.39 360.13 L615.39 360.13 Z" fill="#ffc600"/><path d="M615.39 360.13 L622.39 360.13 L622.43 361.32 L615.42 361.32 Z" fill="#cc7400"/><line x1="615.39" y1="360.13" x2="622.39" y2="360.13" stroke="#4a1800" stroke-width="0.6" /><path d="M624.97 356.22 L631.94 356.22 L632.11 360.13 L625.11 360.13 Z" fill="#ffc600"/><path d="M625.11 360.13 L632.11 360.13 L632.16 361.32 L625.15 361.32 Z" fill="#cc7400"/><line x1="625.11" y1="360.13" x2="632.11" y2="360.13" stroke="#4a1800" stroke-width="0.6" /><path d="M634.65 356.22 L641.61 356.22 L641.82 360.13 L634.83 360.13 Z" fill="#ffc600"/><path d="M634.83 360.13 L641.82 360.13 L641.88 361.32 L634.88 361.32 Z" fill="#cc7400"/><line x1="634.83" y1="360.13" x2="641.82" y2="360.13" stroke="#4a1800" stroke-width="0.6" /><path d="M644.32 356.22 L651.29 356.22 L651.54 360.13 L644.54 360.13 Z" fill="#ffc600"/><path d="M644.54 360.13 L651.54 360.13 L651.61 361.32 L644.61 361.32 Z" fill="#cc7400"/><line x1="644.54" y1="360.13" x2="651.54" y2="360.13" stroke="#4a1800" stroke-width="0.6" /><path d="M653.99 356.22 L660.96 356.22 L661.25 360.13 L654.26 360.13 Z" fill="#ffc600"/><path d="M654.26 360.13 L661.25 360.13 L661.34 361.32 L654.34 361.32 Z" fill="#cc7400"/><line x1="654.26" y1="360.13" x2="661.25" y2="360.13" stroke="#4a1800" stroke-width="0.6" /><path d="M663.67 356.22 L670.63 356.22 L670.97 360.13 L663.97 360.13 Z" fill="#ffc600"/><path d="M663.97 360.13 L670.97 360.13 L671.07 361.32 L664.07 361.32 Z" fill="#cc7400"/><line x1="663.97" y1="360.13" x2="670.97" y2="360.13" stroke="#4a1800" stroke-width="0.6" /><path d="M673.34 356.22 L680.31 356.22 L680.69 360.13 L673.69 360.13 Z" fill="#ffc600"/><path d="M673.69 360.13 L680.69 360.13 L680.8 361.32 L673.8 361.32 Z" fill="#cc7400"/><line x1="673.69" y1="360.13" x2="680.69" y2="360.13" stroke="#4a1800" stroke-width="0.6" /><path d="M508.26 362.76 L515.27 362.76 L514.92 366.74 L507.87 366.74 Z" fill="#ffc600"/><path d="M507.87 366.74 L514.92 366.74 L514.81 367.93 L507.76 367.93 Z" fill="#cc7400"/><line x1="507.87" y1="366.74" x2="514.92" y2="366.74" stroke="#4a1800" stroke-width="0.6" /><path d="M518 362.76 L525.02 362.76 L524.71 366.74 L517.66 366.74 Z" fill="#ffc600"/><path d="M517.66 366.74 L524.71 366.74 L524.61 367.93 L517.56 367.93 Z" fill="#cc7400"/><line x1="517.66" y1="366.74" x2="524.71" y2="366.74" stroke="#4a1800" stroke-width="0.6" /><path d="M527.75 362.76 L534.76 362.76 L534.5 366.74 L527.45 366.74 Z" fill="#ffc600"/><path d="M527.45 366.74 L534.5 366.74 L534.42 367.93 L527.36 367.93 Z" fill="#cc7400"/><line x1="527.45" y1="366.74" x2="534.5" y2="366.74" stroke="#4a1800" stroke-width="0.6" /><path d="M537.49 362.76 L544.51 362.76 L544.29 366.74 L537.24 366.74 Z" fill="#ffc600"/><path d="M537.24 366.74 L544.29 366.74 L544.22 367.93 L537.16 367.93 Z" fill="#cc7400"/><line x1="537.24" y1="366.74" x2="544.29" y2="366.74" stroke="#4a1800" stroke-width="0.6" /><path d="M547.24 362.76 L554.25 362.76 L554.07 366.74 L547.03 366.74 Z" fill="#ffc600"/><path d="M547.03 366.74 L554.07 366.74 L554.02 367.93 L546.96 367.93 Z" fill="#cc7400"/><line x1="547.03" y1="366.74" x2="554.07" y2="366.74" stroke="#4a1800" stroke-width="0.6" /><path d="M556.98 362.76 L564 362.76 L563.86 366.74 L556.82 366.74 Z" fill="#ffc600"/><path d="M556.82 366.74 L563.86 366.74 L563.82 367.93 L556.76 367.93 Z" fill="#cc7400"/><line x1="556.82" y1="366.74" x2="563.86" y2="366.74" stroke="#4a1800" stroke-width="0.6" /><path d="M566.73 362.76 L573.75 362.76 L573.65 366.74 L566.6 366.74 Z" fill="#ffc600"/><path d="M566.6 366.74 L573.65 366.74 L573.62 367.93 L566.57 367.93 Z" fill="#cc7400"/><line x1="566.6" y1="366.74" x2="573.65" y2="366.74" stroke="#4a1800" stroke-width="0.6" /><path d="M576.47 362.76 L583.49 362.76 L583.44 366.74 L576.39 366.74 Z" fill="#ffc600"/><path d="M576.39 366.74 L583.44 366.74 L583.43 367.93 L576.37 367.93 Z" fill="#cc7400"/><line x1="576.39" y1="366.74" x2="583.44" y2="366.74" stroke="#4a1800" stroke-width="0.6" /><path d="M586.22 362.76 L593.24 362.76 L593.23 366.74 L586.18 366.74 Z" fill="#ffc600"/><path d="M586.18 366.74 L593.23 366.74 L593.23 367.93 L586.17 367.93 Z" fill="#cc7400"/><line x1="586.18" y1="366.74" x2="593.23" y2="366.74" stroke="#4a1800" stroke-width="0.6" /><path d="M595.96 362.76 L602.98 362.76 L603.02 366.74 L595.97 366.74 Z" fill="#ffc600"/><path d="M595.97 366.74 L603.02 366.74 L603.03 367.93 L595.97 367.93 Z" fill="#cc7400"/><line x1="595.97" y1="366.74" x2="603.02" y2="366.74" stroke="#4a1800" stroke-width="0.6" /><path d="M605.71 362.76 L612.73 362.76 L612.81 366.74 L605.76 366.74 Z" fill="#ffc600"/><path d="M605.76 366.74 L612.81 366.74 L612.83 367.93 L605.77 367.93 Z" fill="#cc7400"/><line x1="605.76" y1="366.74" x2="612.81" y2="366.74" stroke="#4a1800" stroke-width="0.6" /><path d="M615.45 362.76 L622.47 362.76 L622.6 366.74 L615.55 366.74 Z" fill="#ffc600"/><path d="M615.55 366.74 L622.6 366.74 L622.63 367.93 L615.58 367.93 Z" fill="#cc7400"/><line x1="615.55" y1="366.74" x2="622.6" y2="366.74" stroke="#4a1800" stroke-width="0.6" /><path d="M625.2 362.76 L632.22 362.76 L632.38 366.74 L625.34 366.74 Z" fill="#ffc600"/><path d="M625.34 366.74 L632.38 366.74 L632.44 367.93 L625.38 367.93 Z" fill="#cc7400"/><line x1="625.34" y1="366.74" x2="632.38" y2="366.74" stroke="#4a1800" stroke-width="0.6" /><path d="M634.95 362.76 L641.96 362.76 L642.17 366.74 L635.13 366.74 Z" fill="#ffc600"/><path d="M635.13 366.74 L642.17 366.74 L642.24 367.93 L635.18 367.93 Z" fill="#cc7400"/><line x1="635.13" y1="366.74" x2="642.17" y2="366.74" stroke="#4a1800" stroke-width="0.6" /><path d="M644.69 362.76 L651.71 362.76 L651.96 366.74 L644.91 366.74 Z" fill="#ffc600"/><path d="M644.91 366.74 L651.96 366.74 L652.04 367.93 L644.98 367.93 Z" fill="#cc7400"/><line x1="644.91" y1="366.74" x2="651.96" y2="366.74" stroke="#4a1800" stroke-width="0.6" /><path d="M654.44 362.76 L661.45 362.76 L661.75 366.74 L654.7 366.74 Z" fill="#ffc600"/><path d="M654.7 366.74 L661.75 366.74 L661.84 367.93 L654.78 367.93 Z" fill="#cc7400"/><line x1="654.7" y1="366.74" x2="661.75" y2="366.74" stroke="#4a1800" stroke-width="0.6" /><path d="M664.18 362.76 L671.2 362.76 L671.54 366.74 L664.49 366.74 Z" fill="#ffc600"/><path d="M664.49 366.74 L671.54 366.74 L671.64 367.93 L664.59 367.93 Z" fill="#cc7400"/><line x1="664.49" y1="366.74" x2="671.54" y2="366.74" stroke="#4a1800" stroke-width="0.6" /><path d="M673.93 362.76 L680.94 362.76 L681.33 366.74 L674.28 366.74 Z" fill="#ffc600"/><path d="M674.28 366.74 L681.33 366.74 L681.44 367.93 L674.39 367.93 Z" fill="#cc7400"/><line x1="674.28" y1="366.74" x2="681.33" y2="366.74" stroke="#4a1800" stroke-width="0.6" /><path d="M497.79 369.4 L504.86 369.4 L504.46 373.44 L497.36 373.44 Z" fill="#ffc600"/><path d="M497.36 373.44 L504.46 373.44 L504.34 374.65 L497.23 374.65 Z" fill="#cc7400"/><line x1="497.36" y1="373.44" x2="504.46" y2="373.44" stroke="#4a1800" stroke-width="0.6" /><path d="M507.61 369.4 L514.68 369.4 L514.32 373.44 L507.22 373.44 Z" fill="#ffc600"/><path d="M507.22 373.44 L514.32 373.44 L514.21 374.65 L507.1 374.65 Z" fill="#cc7400"/><line x1="507.22" y1="373.44" x2="514.32" y2="373.44" stroke="#4a1800" stroke-width="0.6" /><path d="M517.43 369.4 L524.5 369.4 L524.18 373.44 L517.08 373.44 Z" fill="#ffc600"/><path d="M517.08 373.44 L524.18 373.44 L524.09 374.65 L516.98 374.65 Z" fill="#cc7400"/><line x1="517.08" y1="373.44" x2="524.18" y2="373.44" stroke="#4a1800" stroke-width="0.6" /><path d="M527.25 369.4 L534.32 369.4 L534.05 373.44 L526.95 373.44 Z" fill="#ffc600"/><path d="M526.95 373.44 L534.05 373.44 L533.96 374.65 L526.85 374.65 Z" fill="#cc7400"/><line x1="526.95" y1="373.44" x2="534.05" y2="373.44" stroke="#4a1800" stroke-width="0.6" /><path d="M537.07 369.4 L544.14 369.4 L543.91 373.44 L536.81 373.44 Z" fill="#ffc600"/><path d="M536.81 373.44 L543.91 373.44 L543.84 374.65 L536.73 374.65 Z" fill="#cc7400"/><line x1="536.81" y1="373.44" x2="543.91" y2="373.44" stroke="#4a1800" stroke-width="0.6" /><path d="M546.88 369.4 L553.95 369.4 L553.77 373.44 L546.67 373.44 Z" fill="#ffc600"/><path d="M546.67 373.44 L553.77 373.44 L553.72 374.65 L546.6 374.65 Z" fill="#cc7400"/><line x1="546.67" y1="373.44" x2="553.77" y2="373.44" stroke="#4a1800" stroke-width="0.6" /><path d="M556.7 369.4 L563.77 369.4 L563.63 373.44 L556.53 373.44 Z" fill="#ffc600"/><path d="M556.53 373.44 L563.63 373.44 L563.59 374.65 L556.48 374.65 Z" fill="#cc7400"/><line x1="556.53" y1="373.44" x2="563.63" y2="373.44" stroke="#4a1800" stroke-width="0.6" /><path d="M566.52 369.4 L573.59 369.4 L573.49 373.44 L566.39 373.44 Z" fill="#ffc600"/><path d="M566.39 373.44 L573.49 373.44 L573.47 374.65 L566.36 374.65 Z" fill="#cc7400"/><line x1="566.39" y1="373.44" x2="573.49" y2="373.44" stroke="#4a1800" stroke-width="0.6" /><path d="M576.34 369.4 L583.41 369.4 L583.36 373.44 L576.26 373.44 Z" fill="#ffc600"/><path d="M576.26 373.44 L583.36 373.44 L583.34 374.65 L576.23 374.65 Z" fill="#cc7400"/><line x1="576.26" y1="373.44" x2="583.36" y2="373.44" stroke="#4a1800" stroke-width="0.6" /><path d="M586.16 369.4 L593.23 369.4 L593.22 373.44 L586.12 373.44 Z" fill="#ffc600"/><path d="M586.12 373.44 L593.22 373.44 L593.22 374.65 L586.11 374.65 Z" fill="#cc7400"/><line x1="586.12" y1="373.44" x2="593.22" y2="373.44" stroke="#4a1800" stroke-width="0.6" /><path d="M595.97 369.4 L603.04 369.4 L603.08 373.44 L595.98 373.44 Z" fill="#ffc600"/><path d="M595.98 373.44 L603.08 373.44 L603.09 374.65 L595.98 374.65 Z" fill="#cc7400"/><line x1="595.98" y1="373.44" x2="603.08" y2="373.44" stroke="#4a1800" stroke-width="0.6" /><path d="M605.79 369.4 L612.86 369.4 L612.94 373.44 L605.84 373.44 Z" fill="#ffc600"/><path d="M605.84 373.44 L612.94 373.44 L612.97 374.65 L605.86 374.65 Z" fill="#cc7400"/><line x1="605.84" y1="373.44" x2="612.94" y2="373.44" stroke="#4a1800" stroke-width="0.6" /><path d="M615.61 369.4 L622.68 369.4 L622.81 373.44 L615.71 373.44 Z" fill="#ffc600"/><path d="M615.71 373.44 L622.81 373.44 L622.84 374.65 L615.73 374.65 Z" fill="#cc7400"/><line x1="615.71" y1="373.44" x2="622.81" y2="373.44" stroke="#4a1800" stroke-width="0.6" /><path d="M625.43 369.4 L632.5 369.4 L632.67 373.44 L625.57 373.44 Z" fill="#ffc600"/><path d="M625.57 373.44 L632.67 373.44 L632.72 374.65 L625.61 374.65 Z" fill="#cc7400"/><line x1="625.57" y1="373.44" x2="632.67" y2="373.44" stroke="#4a1800" stroke-width="0.6" /><path d="M635.25 369.4 L642.32 369.4 L642.53 373.44 L635.43 373.44 Z" fill="#ffc600"/><path d="M635.43 373.44 L642.53 373.44 L642.6 374.65 L635.48 374.65 Z" fill="#cc7400"/><line x1="635.43" y1="373.44" x2="642.53" y2="373.44" stroke="#4a1800" stroke-width="0.6" /><path d="M645.06 369.4 L652.13 369.4 L652.39 373.44 L645.29 373.44 Z" fill="#ffc600"/><path d="M645.29 373.44 L652.39 373.44 L652.47 374.65 L645.36 374.65 Z" fill="#cc7400"/><line x1="645.29" y1="373.44" x2="652.39" y2="373.44" stroke="#4a1800" stroke-width="0.6" /><path d="M654.88 369.4 L661.95 369.4 L662.25 373.44 L655.15 373.44 Z" fill="#ffc600"/><path d="M655.15 373.44 L662.25 373.44 L662.35 374.65 L655.24 374.65 Z" fill="#cc7400"/><line x1="655.15" y1="373.44" x2="662.25" y2="373.44" stroke="#4a1800" stroke-width="0.6" /><path d="M664.7 369.4 L671.77 369.4 L672.12 373.44 L665.02 373.44 Z" fill="#ffc600"/><path d="M665.02 373.44 L672.12 373.44 L672.22 374.65 L665.11 374.65 Z" fill="#cc7400"/><line x1="665.02" y1="373.44" x2="672.12" y2="373.44" stroke="#4a1800" stroke-width="0.6" /><path d="M674.52 369.4 L681.59 369.4 L681.98 373.44 L674.88 373.44 Z" fill="#ffc600"/><path d="M674.88 373.44 L681.98 373.44 L682.1 374.65 L674.99 374.65 Z" fill="#cc7400"/><line x1="674.88" y1="373.44" x2="681.98" y2="373.44" stroke="#4a1800" stroke-width="0.6" /><path d="M684.34 369.4 L691.41 369.4 L691.84 373.44 L684.74 373.44 Z" fill="#ffc600"/><path d="M684.74 373.44 L691.84 373.44 L691.97 374.65 L684.86 374.65 Z" fill="#cc7400"/><line x1="684.74" y1="373.44" x2="691.84" y2="373.44" stroke="#4a1800" stroke-width="0.6" /><path d="M497.07 376.15 L504.19 376.15 L503.78 380.24 L496.62 380.24 Z" fill="#ffc600"/><path d="M496.62 380.24 L503.78 380.24 L503.65 381.47 L496.49 381.47 Z" fill="#cc7400"/><line x1="496.62" y1="380.24" x2="503.78" y2="380.24" stroke="#4a1800" stroke-width="0.6" /><path d="M506.96 376.15 L514.08 376.15 L513.71 380.24 L506.56 380.24 Z" fill="#ffc600"/><path d="M506.56 380.24 L513.71 380.24 L513.6 381.47 L506.44 381.47 Z" fill="#cc7400"/><line x1="506.56" y1="380.24" x2="513.71" y2="380.24" stroke="#4a1800" stroke-width="0.6" /><path d="M516.85 376.15 L523.97 376.15 L523.65 380.24 L516.5 380.24 Z" fill="#ffc600"/><path d="M516.5 380.24 L523.65 380.24 L523.55 381.47 L516.39 381.47 Z" fill="#cc7400"/><line x1="516.5" y1="380.24" x2="523.65" y2="380.24" stroke="#4a1800" stroke-width="0.6" /><path d="M526.74 376.15 L533.86 376.15 L533.59 380.24 L526.43 380.24 Z" fill="#ffc600"/><path d="M526.43 380.24 L533.59 380.24 L533.5 381.47 L526.34 381.47 Z" fill="#cc7400"/><line x1="526.43" y1="380.24" x2="533.59" y2="380.24" stroke="#4a1800" stroke-width="0.6" /><path d="M536.63 376.15 L543.76 376.15 L543.52 380.24 L536.37 380.24 Z" fill="#ffc600"/><path d="M536.37 380.24 L543.52 380.24 L543.46 381.47 L536.29 381.47 Z" fill="#cc7400"/><line x1="536.37" y1="380.24" x2="543.52" y2="380.24" stroke="#4a1800" stroke-width="0.6" /><path d="M546.53 376.15 L553.65 376.15 L553.46 380.24 L546.31 380.24 Z" fill="#ffc600"/><path d="M546.31 380.24 L553.46 380.24 L553.41 381.47 L546.24 381.47 Z" fill="#cc7400"/><line x1="546.31" y1="380.24" x2="553.46" y2="380.24" stroke="#4a1800" stroke-width="0.6" /><path d="M556.42 376.15 L563.54 376.15 L563.4 380.24 L556.24 380.24 Z" fill="#ffc600"/><path d="M556.24 380.24 L563.4 380.24 L563.36 381.47 L556.19 381.47 Z" fill="#cc7400"/><line x1="556.24" y1="380.24" x2="563.4" y2="380.24" stroke="#4a1800" stroke-width="0.6" /><path d="M566.31 376.15 L573.43 376.15 L573.34 380.24 L566.18 380.24 Z" fill="#ffc600"/><path d="M566.18 380.24 L573.34 380.24 L573.31 381.47 L566.14 381.47 Z" fill="#cc7400"/><line x1="566.18" y1="380.24" x2="573.34" y2="380.24" stroke="#4a1800" stroke-width="0.6" /><path d="M576.2 376.15 L583.32 376.15 L583.27 380.24 L576.12 380.24 Z" fill="#ffc600"/><path d="M576.12 380.24 L583.27 380.24 L583.26 381.47 L576.09 381.47 Z" fill="#cc7400"/><line x1="576.12" y1="380.24" x2="583.27" y2="380.24" stroke="#4a1800" stroke-width="0.6" /><path d="M586.09 376.15 L593.22 376.15 L593.21 380.24 L586.05 380.24 Z" fill="#ffc600"/><path d="M586.05 380.24 L593.21 380.24 L593.21 381.47 L586.04 381.47 Z" fill="#cc7400"/><line x1="586.05" y1="380.24" x2="593.21" y2="380.24" stroke="#4a1800" stroke-width="0.6" /><path d="M595.98 376.15 L603.11 376.15 L603.15 380.24 L595.99 380.24 Z" fill="#ffc600"/><path d="M595.99 380.24 L603.15 380.24 L603.16 381.47 L595.99 381.47 Z" fill="#cc7400"/><line x1="595.99" y1="380.24" x2="603.15" y2="380.24" stroke="#4a1800" stroke-width="0.6" /><path d="M605.88 376.15 L613 376.15 L613.08 380.24 L605.93 380.24 Z" fill="#ffc600"/><path d="M605.93 380.24 L613.08 380.24 L613.11 381.47 L605.94 381.47 Z" fill="#cc7400"/><line x1="605.93" y1="380.24" x2="613.08" y2="380.24" stroke="#4a1800" stroke-width="0.6" /><path d="M615.77 376.15 L622.89 376.15 L623.02 380.24 L615.86 380.24 Z" fill="#ffc600"/><path d="M615.86 380.24 L623.02 380.24 L623.06 381.47 L615.89 381.47 Z" fill="#cc7400"/><line x1="615.86" y1="380.24" x2="623.02" y2="380.24" stroke="#4a1800" stroke-width="0.6" /><path d="M625.66 376.15 L632.78 376.15 L632.96 380.24 L625.8 380.24 Z" fill="#ffc600"/><path d="M625.8 380.24 L632.96 380.24 L633.01 381.47 L625.84 381.47 Z" fill="#cc7400"/><line x1="625.8" y1="380.24" x2="632.96" y2="380.24" stroke="#4a1800" stroke-width="0.6" /><path d="M635.55 376.15 L642.67 376.15 L642.89 380.24 L635.74 380.24 Z" fill="#ffc600"/><path d="M635.74 380.24 L642.89 380.24 L642.96 381.47 L635.79 381.47 Z" fill="#cc7400"/><line x1="635.74" y1="380.24" x2="642.89" y2="380.24" stroke="#4a1800" stroke-width="0.6" /><path d="M645.44 376.15 L652.57 376.15 L652.83 380.24 L645.68 380.24 Z" fill="#ffc600"/><path d="M645.68 380.24 L652.83 380.24 L652.91 381.47 L645.74 381.47 Z" fill="#cc7400"/><line x1="645.68" y1="380.24" x2="652.83" y2="380.24" stroke="#4a1800" stroke-width="0.6" /><path d="M655.34 376.15 L662.46 376.15 L662.77 380.24 L655.61 380.24 Z" fill="#ffc600"/><path d="M655.61 380.24 L662.77 380.24 L662.86 381.47 L655.7 381.47 Z" fill="#cc7400"/><line x1="655.61" y1="380.24" x2="662.77" y2="380.24" stroke="#4a1800" stroke-width="0.6" /><path d="M665.23 376.15 L672.35 376.15 L672.7 380.24 L665.55 380.24 Z" fill="#ffc600"/><path d="M665.55 380.24 L672.7 380.24 L672.81 381.47 L665.65 381.47 Z" fill="#cc7400"/><line x1="665.55" y1="380.24" x2="672.7" y2="380.24" stroke="#4a1800" stroke-width="0.6" /><path d="M675.12 376.15 L682.24 376.15 L682.64 380.24 L675.49 380.24 Z" fill="#ffc600"/><path d="M675.49 380.24 L682.64 380.24 L682.76 381.47 L675.6 381.47 Z" fill="#cc7400"/><line x1="675.49" y1="380.24" x2="682.64" y2="380.24" stroke="#4a1800" stroke-width="0.6" /><path d="M685.01 376.15 L692.13 376.15 L692.58 380.24 L685.42 380.24 Z" fill="#ffc600"/><path d="M685.42 380.24 L692.58 380.24 L692.71 381.47 L685.55 381.47 Z" fill="#cc7400"/><line x1="685.42" y1="380.24" x2="692.58" y2="380.24" stroke="#4a1800" stroke-width="0.6" /><path d="M496.33 382.99 L503.5 382.99 L503.09 387.15 L495.88 387.15 Z" fill="#ffc600"/><path d="M495.88 387.15 L503.09 387.15 L502.96 388.4 L495.74 388.4 Z" fill="#cc7400"/><line x1="495.88" y1="387.15" x2="503.09" y2="387.15" stroke="#4a1800" stroke-width="0.6" /><path d="M506.29 382.99 L513.47 382.99 L513.1 387.15 L505.89 387.15 Z" fill="#ffc600"/><path d="M505.89 387.15 L513.1 387.15 L512.99 388.4 L505.77 388.4 Z" fill="#cc7400"/><line x1="505.89" y1="387.15" x2="513.1" y2="387.15" stroke="#4a1800" stroke-width="0.6" /><path d="M516.26 382.99 L523.44 382.99 L523.11 387.15 L515.9 387.15 Z" fill="#ffc600"/><path d="M515.9 387.15 L523.11 387.15 L523.01 388.4 L515.79 388.4 Z" fill="#cc7400"/><line x1="515.9" y1="387.15" x2="523.11" y2="387.15" stroke="#4a1800" stroke-width="0.6" /><path d="M526.23 382.99 L533.4 382.99 L533.12 387.15 L525.91 387.15 Z" fill="#ffc600"/><path d="M525.91 387.15 L533.12 387.15 L533.04 388.4 L525.82 388.4 Z" fill="#cc7400"/><line x1="525.91" y1="387.15" x2="533.12" y2="387.15" stroke="#4a1800" stroke-width="0.6" /><path d="M536.19 382.99 L543.37 382.99 L543.14 387.15 L535.93 387.15 Z" fill="#ffc600"/><path d="M535.93 387.15 L543.14 387.15 L543.06 388.4 L535.85 388.4 Z" fill="#cc7400"/><line x1="535.93" y1="387.15" x2="543.14" y2="387.15" stroke="#4a1800" stroke-width="0.6" /><path d="M546.16 382.99 L553.34 382.99 L553.15 387.15 L545.94 387.15 Z" fill="#ffc600"/><path d="M545.94 387.15 L553.15 387.15 L553.09 388.4 L545.87 388.4 Z" fill="#cc7400"/><line x1="545.94" y1="387.15" x2="553.15" y2="387.15" stroke="#4a1800" stroke-width="0.6" /><path d="M556.13 382.99 L563.3 382.99 L563.16 387.15 L555.95 387.15 Z" fill="#ffc600"/><path d="M555.95 387.15 L563.16 387.15 L563.12 388.4 L555.9 388.4 Z" fill="#cc7400"/><line x1="555.95" y1="387.15" x2="563.16" y2="387.15" stroke="#4a1800" stroke-width="0.6" /><path d="M566.09 382.99 L573.27 382.99 L573.17 387.15 L565.96 387.15 Z" fill="#ffc600"/><path d="M565.96 387.15 L573.17 387.15 L573.14 388.4 L565.92 388.4 Z" fill="#cc7400"/><line x1="565.96" y1="387.15" x2="573.17" y2="387.15" stroke="#4a1800" stroke-width="0.6" /><path d="M576.06 382.99 L583.24 382.99 L583.19 387.15 L575.98 387.15 Z" fill="#ffc600"/><path d="M575.98 387.15 L583.19 387.15 L583.17 388.4 L575.95 388.4 Z" fill="#cc7400"/><line x1="575.98" y1="387.15" x2="583.19" y2="387.15" stroke="#4a1800" stroke-width="0.6" /><path d="M586.03 382.99 L593.2 382.99 L593.2 387.15 L585.99 387.15 Z" fill="#ffc600"/><path d="M585.99 387.15 L593.2 387.15 L593.2 388.4 L585.98 388.4 Z" fill="#cc7400"/><line x1="585.99" y1="387.15" x2="593.2" y2="387.15" stroke="#4a1800" stroke-width="0.6" /><path d="M596 382.99 L603.17 382.99 L603.21 387.15 L596 387.15 Z" fill="#ffc600"/><path d="M596 387.15 L603.21 387.15 L603.22 388.4 L596 388.4 Z" fill="#cc7400"/><line x1="596" y1="387.15" x2="603.21" y2="387.15" stroke="#4a1800" stroke-width="0.6" /><path d="M605.96 382.99 L613.14 382.99 L613.22 387.15 L606.01 387.15 Z" fill="#ffc600"/><path d="M606.01 387.15 L613.22 387.15 L613.25 388.4 L606.03 388.4 Z" fill="#cc7400"/><line x1="606.01" y1="387.15" x2="613.22" y2="387.15" stroke="#4a1800" stroke-width="0.6" /><path d="M615.93 382.99 L623.11 382.99 L623.24 387.15 L616.03 387.15 Z" fill="#ffc600"/><path d="M616.03 387.15 L623.24 387.15 L623.28 388.4 L616.06 388.4 Z" fill="#cc7400"/><line x1="616.03" y1="387.15" x2="623.24" y2="387.15" stroke="#4a1800" stroke-width="0.6" /><path d="M625.9 382.99 L633.07 382.99 L633.25 387.15 L626.04 387.15 Z" fill="#ffc600"/><path d="M626.04 387.15 L633.25 387.15 L633.3 388.4 L626.08 388.4 Z" fill="#cc7400"/><line x1="626.04" y1="387.15" x2="633.25" y2="387.15" stroke="#4a1800" stroke-width="0.6" /><path d="M635.86 382.99 L643.04 382.99 L643.26 387.15 L636.05 387.15 Z" fill="#ffc600"/><path d="M636.05 387.15 L643.26 387.15 L643.33 388.4 L636.11 388.4 Z" fill="#cc7400"/><line x1="636.05" y1="387.15" x2="643.26" y2="387.15" stroke="#4a1800" stroke-width="0.6" /><path d="M645.83 382.99 L653.01 382.99 L653.27 387.15 L646.06 387.15 Z" fill="#ffc600"/><path d="M646.06 387.15 L653.27 387.15 L653.35 388.4 L646.14 388.4 Z" fill="#cc7400"/><line x1="646.06" y1="387.15" x2="653.27" y2="387.15" stroke="#4a1800" stroke-width="0.6" /><path d="M655.8 382.99 L662.97 382.99 L663.29 387.15 L656.08 387.15 Z" fill="#ffc600"/><path d="M656.08 387.15 L663.29 387.15 L663.38 388.4 L656.16 388.4 Z" fill="#cc7400"/><line x1="656.08" y1="387.15" x2="663.29" y2="387.15" stroke="#4a1800" stroke-width="0.6" /><path d="M665.76 382.99 L672.94 382.99 L673.3 387.15 L666.09 387.15 Z" fill="#ffc600"/><path d="M666.09 387.15 L673.3 387.15 L673.41 388.4 L666.19 388.4 Z" fill="#cc7400"/><line x1="666.09" y1="387.15" x2="673.3" y2="387.15" stroke="#4a1800" stroke-width="0.6" /><path d="M675.73 382.99 L682.91 382.99 L683.31 387.15 L676.1 387.15 Z" fill="#ffc600"/><path d="M676.1 387.15 L683.31 387.15 L683.43 388.4 L676.21 388.4 Z" fill="#cc7400"/><line x1="676.1" y1="387.15" x2="683.31" y2="387.15" stroke="#4a1800" stroke-width="0.6" /><path d="M685.7 382.99 L692.87 382.99 L693.32 387.15 L686.11 387.15 Z" fill="#ffc600"/><path d="M686.11 387.15 L693.32 387.15 L693.46 388.4 L686.24 388.4 Z" fill="#cc7400"/><line x1="686.11" y1="387.15" x2="693.32" y2="387.15" stroke="#4a1800" stroke-width="0.6" /><path d="M495.57 389.94 L502.81 389.94 L502.38 394.16 L495.12 394.16 Z" fill="#ffc600"/><path d="M495.12 394.16 L502.38 394.16 L502.26 395.43 L494.98 395.43 Z" fill="#cc7400"/><line x1="495.12" y1="394.16" x2="502.38" y2="394.16" stroke="#4a1800" stroke-width="0.6" /><path d="M505.62 389.94 L512.85 389.94 L512.47 394.16 L505.21 394.16 Z" fill="#ffc600"/><path d="M505.21 394.16 L512.47 394.16 L512.36 395.43 L505.08 395.43 Z" fill="#cc7400"/><line x1="505.21" y1="394.16" x2="512.47" y2="394.16" stroke="#4a1800" stroke-width="0.6" /><path d="M515.66 389.94 L522.89 389.94 L522.56 394.16 L515.3 394.16 Z" fill="#ffc600"/><path d="M515.3 394.16 L522.56 394.16 L522.46 395.43 L515.19 395.43 Z" fill="#cc7400"/><line x1="515.3" y1="394.16" x2="522.56" y2="394.16" stroke="#4a1800" stroke-width="0.6" /><path d="M525.7 389.94 L532.94 389.94 L532.65 394.16 L525.39 394.16 Z" fill="#ffc600"/><path d="M525.39 394.16 L532.65 394.16 L532.57 395.43 L525.29 395.43 Z" fill="#cc7400"/><line x1="525.39" y1="394.16" x2="532.65" y2="394.16" stroke="#4a1800" stroke-width="0.6" /><path d="M535.75 389.94 L542.98 389.94 L542.74 394.16 L535.48 394.16 Z" fill="#ffc600"/><path d="M535.48 394.16 L542.74 394.16 L542.67 395.43 L535.39 395.43 Z" fill="#cc7400"/><line x1="535.48" y1="394.16" x2="542.74" y2="394.16" stroke="#4a1800" stroke-width="0.6" /><path d="M545.79 389.94 L553.02 389.94 L552.83 394.16 L545.57 394.16 Z" fill="#ffc600"/><path d="M545.57 394.16 L552.83 394.16 L552.77 395.43 L545.5 395.43 Z" fill="#cc7400"/><line x1="545.57" y1="394.16" x2="552.83" y2="394.16" stroke="#4a1800" stroke-width="0.6" /><path d="M555.83 389.94 L563.06 389.94 L562.92 394.16 L555.65 394.16 Z" fill="#ffc600"/><path d="M555.65 394.16 L562.92 394.16 L562.88 395.43 L555.6 395.43 Z" fill="#cc7400"/><line x1="555.65" y1="394.16" x2="562.92" y2="394.16" stroke="#4a1800" stroke-width="0.6" /><path d="M565.88 389.94 L573.11 389.94 L573.01 394.16 L565.74 394.16 Z" fill="#ffc600"/><path d="M565.74 394.16 L573.01 394.16 L572.98 395.43 L565.7 395.43 Z" fill="#cc7400"/><line x1="565.74" y1="394.16" x2="573.01" y2="394.16" stroke="#4a1800" stroke-width="0.6" /><path d="M575.92 389.94 L583.15 389.94 L583.1 394.16 L575.83 394.16 Z" fill="#ffc600"/><path d="M575.83 394.16 L583.1 394.16 L583.08 395.43 L575.81 395.43 Z" fill="#cc7400"/><line x1="575.83" y1="394.16" x2="583.1" y2="394.16" stroke="#4a1800" stroke-width="0.6" /><path d="M585.96 389.94 L593.19 389.94 L593.19 394.16 L585.92 394.16 Z" fill="#ffc600"/><path d="M585.92 394.16 L593.19 394.16 L593.19 395.43 L585.91 395.43 Z" fill="#cc7400"/><line x1="585.92" y1="394.16" x2="593.19" y2="394.16" stroke="#4a1800" stroke-width="0.6" /><path d="M596.01 389.94 L603.24 389.94 L603.28 394.16 L596.01 394.16 Z" fill="#ffc600"/><path d="M596.01 394.16 L603.28 394.16 L603.29 395.43 L596.01 395.43 Z" fill="#cc7400"/><line x1="596.01" y1="394.16" x2="603.28" y2="394.16" stroke="#4a1800" stroke-width="0.6" /><path d="M606.05 389.94 L613.28 389.94 L613.37 394.16 L606.1 394.16 Z" fill="#ffc600"/><path d="M606.1 394.16 L613.37 394.16 L613.39 395.43 L606.12 395.43 Z" fill="#cc7400"/><line x1="606.1" y1="394.16" x2="613.37" y2="394.16" stroke="#4a1800" stroke-width="0.6" /><path d="M616.09 389.94 L623.32 389.94 L623.46 394.16 L616.19 394.16 Z" fill="#ffc600"/><path d="M616.19 394.16 L623.46 394.16 L623.5 395.43 L616.22 395.43 Z" fill="#cc7400"/><line x1="616.19" y1="394.16" x2="623.46" y2="394.16" stroke="#4a1800" stroke-width="0.6" /><path d="M626.14 389.94 L633.37 389.94 L633.55 394.16 L626.28 394.16 Z" fill="#ffc600"/><path d="M626.28 394.16 L633.55 394.16 L633.6 395.43 L626.32 395.43 Z" fill="#cc7400"/><line x1="626.28" y1="394.16" x2="633.55" y2="394.16" stroke="#4a1800" stroke-width="0.6" /><path d="M636.18 389.94 L643.41 389.94 L643.63 394.16 L636.37 394.16 Z" fill="#ffc600"/><path d="M636.37 394.16 L643.63 394.16 L643.7 395.43 L636.43 395.43 Z" fill="#cc7400"/><line x1="636.37" y1="394.16" x2="643.63" y2="394.16" stroke="#4a1800" stroke-width="0.6" /><path d="M646.22 389.94 L653.45 389.94 L653.72 394.16 L646.46 394.16 Z" fill="#ffc600"/><path d="M646.46 394.16 L653.72 394.16 L653.81 395.43 L646.53 395.43 Z" fill="#cc7400"/><line x1="646.46" y1="394.16" x2="653.72" y2="394.16" stroke="#4a1800" stroke-width="0.6" /><path d="M656.26 389.94 L663.5 389.94 L663.81 394.16 L656.55 394.16 Z" fill="#ffc600"/><path d="M656.55 394.16 L663.81 394.16 L663.91 395.43 L656.63 395.43 Z" fill="#cc7400"/><line x1="656.55" y1="394.16" x2="663.81" y2="394.16" stroke="#4a1800" stroke-width="0.6" /><path d="M666.31 389.94 L673.54 389.94 L673.9 394.16 L666.64 394.16 Z" fill="#ffc600"/><path d="M666.64 394.16 L673.9 394.16 L674.01 395.43 L666.74 395.43 Z" fill="#cc7400"/><line x1="666.64" y1="394.16" x2="673.9" y2="394.16" stroke="#4a1800" stroke-width="0.6" /><path d="M676.35 389.94 L683.58 389.94 L683.99 394.16 L676.73 394.16 Z" fill="#ffc600"/><path d="M676.73 394.16 L683.99 394.16 L684.12 395.43 L676.84 395.43 Z" fill="#cc7400"/><line x1="676.73" y1="394.16" x2="683.99" y2="394.16" stroke="#4a1800" stroke-width="0.6" /><path d="M686.39 389.94 L693.63 389.94 L694.08 394.16 L686.82 394.16 Z" fill="#ffc600"/><path d="M686.82 394.16 L694.08 394.16 L694.22 395.43 L686.94 395.43 Z" fill="#cc7400"/><line x1="686.82" y1="394.16" x2="694.08" y2="394.16" stroke="#4a1800" stroke-width="0.6" /><path d="M504.93 396.99 L512.22 396.99 L511.84 401.28 L504.52 401.28 Z" fill="#ffc600"/><path d="M504.52 401.28 L511.84 401.28 L511.72 402.57 L504.39 402.57 Z" fill="#cc7400"/><line x1="504.52" y1="401.28" x2="511.84" y2="401.28" stroke="#4a1800" stroke-width="0.6" /><path d="M515.05 396.99 L522.34 396.99 L522 401.28 L514.68 401.28 Z" fill="#ffc600"/><path d="M514.68 401.28 L522 401.28 L521.9 402.57 L514.57 402.57 Z" fill="#cc7400"/><line x1="514.68" y1="401.28" x2="522" y2="401.28" stroke="#4a1800" stroke-width="0.6" /><path d="M525.17 396.99 L532.46 396.99 L532.17 401.28 L524.85 401.28 Z" fill="#ffc600"/><path d="M524.85 401.28 L532.17 401.28 L532.08 402.57 L524.75 402.57 Z" fill="#cc7400"/><line x1="524.85" y1="401.28" x2="532.17" y2="401.28" stroke="#4a1800" stroke-width="0.6" /><path d="M535.29 396.99 L542.58 396.99 L542.34 401.28 L535.02 401.28 Z" fill="#ffc600"/><path d="M535.02 401.28 L542.34 401.28 L542.27 402.57 L534.94 402.57 Z" fill="#cc7400"/><line x1="535.02" y1="401.28" x2="542.34" y2="401.28" stroke="#4a1800" stroke-width="0.6" /><path d="M545.41 396.99 L552.7 396.99 L552.51 401.28 L545.19 401.28 Z" fill="#ffc600"/><path d="M545.19 401.28 L552.51 401.28 L552.45 402.57 L545.12 402.57 Z" fill="#cc7400"/><line x1="545.19" y1="401.28" x2="552.51" y2="401.28" stroke="#4a1800" stroke-width="0.6" /><path d="M555.53 396.99 L562.82 396.99 L562.67 401.28 L555.35 401.28 Z" fill="#ffc600"/><path d="M555.35 401.28 L562.67 401.28 L562.63 402.57 L555.3 402.57 Z" fill="#cc7400"/><line x1="555.35" y1="401.28" x2="562.67" y2="401.28" stroke="#4a1800" stroke-width="0.6" /><path d="M565.66 396.99 L572.94 396.99 L572.84 401.28 L565.52 401.28 Z" fill="#ffc600"/><path d="M565.52 401.28 L572.84 401.28 L572.81 402.57 L565.48 402.57 Z" fill="#cc7400"/><line x1="565.52" y1="401.28" x2="572.84" y2="401.28" stroke="#4a1800" stroke-width="0.6" /><path d="M575.78 396.99 L583.06 396.99 L583.01 401.28 L575.69 401.28 Z" fill="#ffc600"/><path d="M575.69 401.28 L583.01 401.28 L582.99 402.57 L575.66 402.57 Z" fill="#cc7400"/><line x1="575.69" y1="401.28" x2="583.01" y2="401.28" stroke="#4a1800" stroke-width="0.6" /><path d="M585.9 396.99 L593.18 396.99 L593.18 401.28 L585.86 401.28 Z" fill="#ffc600"/><path d="M585.86 401.28 L593.18 401.28 L593.17 402.57 L585.84 402.57 Z" fill="#cc7400"/><line x1="585.86" y1="401.28" x2="593.18" y2="401.28" stroke="#4a1800" stroke-width="0.6" /><path d="M596.02 396.99 L603.3 396.99 L603.34 401.28 L596.02 401.28 Z" fill="#ffc600"/><path d="M596.02 401.28 L603.34 401.28 L603.36 402.57 L596.03 402.57 Z" fill="#cc7400"/><line x1="596.02" y1="401.28" x2="603.34" y2="401.28" stroke="#4a1800" stroke-width="0.6" /><path d="M606.14 396.99 L613.42 396.99 L613.51 401.28 L606.19 401.28 Z" fill="#ffc600"/><path d="M606.19 401.28 L613.51 401.28 L613.54 402.57 L606.21 402.57 Z" fill="#cc7400"/><line x1="606.19" y1="401.28" x2="613.51" y2="401.28" stroke="#4a1800" stroke-width="0.6" /><path d="M616.26 396.99 L623.54 396.99 L623.68 401.28 L616.36 401.28 Z" fill="#ffc600"/><path d="M616.36 401.28 L623.68 401.28 L623.72 402.57 L616.39 402.57 Z" fill="#cc7400"/><line x1="616.36" y1="401.28" x2="623.68" y2="401.28" stroke="#4a1800" stroke-width="0.6" /><path d="M626.38 396.99 L633.67 396.99 L633.85 401.28 L626.53 401.28 Z" fill="#ffc600"/><path d="M626.53 401.28 L633.85 401.28 L633.9 402.57 L626.57 402.57 Z" fill="#cc7400"/><line x1="626.53" y1="401.28" x2="633.85" y2="401.28" stroke="#4a1800" stroke-width="0.6" /><path d="M636.5 396.99 L643.79 396.99 L644.01 401.28 L636.69 401.28 Z" fill="#ffc600"/><path d="M636.69 401.28 L644.01 401.28 L644.08 402.57 L636.75 402.57 Z" fill="#cc7400"/><line x1="636.69" y1="401.28" x2="644.01" y2="401.28" stroke="#4a1800" stroke-width="0.6" /><path d="M646.62 396.99 L653.91 396.99 L654.18 401.28 L646.86 401.28 Z" fill="#ffc600"/><path d="M646.86 401.28 L654.18 401.28 L654.26 402.57 L646.93 402.57 Z" fill="#cc7400"/><line x1="646.86" y1="401.28" x2="654.18" y2="401.28" stroke="#4a1800" stroke-width="0.6" /><path d="M656.74 396.99 L664.03 396.99 L664.35 401.28 L657.03 401.28 Z" fill="#ffc600"/><path d="M657.03 401.28 L664.35 401.28 L664.45 402.57 L657.12 402.57 Z" fill="#cc7400"/><line x1="657.03" y1="401.28" x2="664.35" y2="401.28" stroke="#4a1800" stroke-width="0.6" /><path d="M666.86 396.99 L674.15 396.99 L674.52 401.28 L667.2 401.28 Z" fill="#ffc600"/><path d="M667.2 401.28 L674.52 401.28 L674.63 402.57 L667.3 402.57 Z" fill="#cc7400"/><line x1="667.2" y1="401.28" x2="674.52" y2="401.28" stroke="#4a1800" stroke-width="0.6" /><path d="M676.98 396.99 L684.27 396.99 L684.68 401.28 L677.36 401.28 Z" fill="#ffc600"/><path d="M677.36 401.28 L684.68 401.28 L684.81 402.57 L677.48 402.57 Z" fill="#cc7400"/><line x1="677.36" y1="401.28" x2="684.68" y2="401.28" stroke="#4a1800" stroke-width="0.6" /><path d="M504.24 404.16 L511.58 404.16 L511.19 408.51 L503.81 408.51 Z" fill="#ffc600"/><path d="M503.81 408.51 L511.19 408.51 L511.07 409.82 L503.69 409.82 Z" fill="#cc7400"/><line x1="503.81" y1="408.51" x2="511.19" y2="408.51" stroke="#4a1800" stroke-width="0.6" /><path d="M514.44 404.16 L521.78 404.16 L521.44 408.51 L514.06 408.51 Z" fill="#ffc600"/><path d="M514.06 408.51 L521.44 408.51 L521.34 409.82 L513.95 409.82 Z" fill="#cc7400"/><line x1="514.06" y1="408.51" x2="521.44" y2="408.51" stroke="#4a1800" stroke-width="0.6" /><path d="M524.63 404.16 L531.98 404.16 L531.68 408.51 L524.31 408.51 Z" fill="#ffc600"/><path d="M524.31 408.51 L531.68 408.51 L531.6 409.82 L524.21 409.82 Z" fill="#cc7400"/><line x1="524.31" y1="408.51" x2="531.68" y2="408.51" stroke="#4a1800" stroke-width="0.6" /><path d="M534.83 404.16 L542.18 404.16 L541.93 408.51 L534.55 408.51 Z" fill="#ffc600"/><path d="M534.55 408.51 L541.93 408.51 L541.86 409.82 L534.47 409.82 Z" fill="#cc7400"/><line x1="534.55" y1="408.51" x2="541.93" y2="408.51" stroke="#4a1800" stroke-width="0.6" /><path d="M545.03 404.16 L552.38 404.16 L552.18 408.51 L544.8 408.51 Z" fill="#ffc600"/><path d="M544.8 408.51 L552.18 408.51 L552.12 409.82 L544.73 409.82 Z" fill="#cc7400"/><line x1="544.8" y1="408.51" x2="552.18" y2="408.51" stroke="#4a1800" stroke-width="0.6" /><path d="M555.23 404.16 L562.57 404.16 L562.43 408.51 L555.05 408.51 Z" fill="#ffc600"/><path d="M555.05 408.51 L562.43 408.51 L562.38 409.82 L554.99 409.82 Z" fill="#cc7400"/><line x1="555.05" y1="408.51" x2="562.43" y2="408.51" stroke="#4a1800" stroke-width="0.6" /><path d="M565.43 404.16 L572.77 404.16 L572.67 408.51 L565.29 408.51 Z" fill="#ffc600"/><path d="M565.29 408.51 L572.67 408.51 L572.64 409.82 L565.25 409.82 Z" fill="#cc7400"/><line x1="565.29" y1="408.51" x2="572.67" y2="408.51" stroke="#4a1800" stroke-width="0.6" /><path d="M575.63 404.16 L582.97 404.16 L582.92 408.51 L575.54 408.51 Z" fill="#ffc600"/><path d="M575.54 408.51 L582.92 408.51 L582.9 409.82 L575.51 409.82 Z" fill="#cc7400"/><line x1="575.54" y1="408.51" x2="582.92" y2="408.51" stroke="#4a1800" stroke-width="0.6" /><path d="M585.83 404.16 L593.17 404.16 L593.17 408.51 L585.79 408.51 Z" fill="#ffc600"/><path d="M585.79 408.51 L593.17 408.51 L593.16 409.82 L585.78 409.82 Z" fill="#cc7400"/><line x1="585.79" y1="408.51" x2="593.17" y2="408.51" stroke="#4a1800" stroke-width="0.6" /><path d="M596.03 404.16 L603.37 404.16 L603.41 408.51 L596.03 408.51 Z" fill="#ffc600"/><path d="M596.03 408.51 L603.41 408.51 L603.42 409.82 L596.04 409.82 Z" fill="#cc7400"/><line x1="596.03" y1="408.51" x2="603.41" y2="408.51" stroke="#4a1800" stroke-width="0.6" /><path d="M606.23 404.16 L613.57 404.16 L613.66 408.51 L606.28 408.51 Z" fill="#ffc600"/><path d="M606.28 408.51 L613.66 408.51 L613.69 409.82 L606.3 409.82 Z" fill="#cc7400"/><line x1="606.28" y1="408.51" x2="613.66" y2="408.51" stroke="#4a1800" stroke-width="0.6" /><path d="M616.43 404.16 L623.77 404.16 L623.91 408.51 L616.53 408.51 Z" fill="#ffc600"/><path d="M616.53 408.51 L623.91 408.51 L623.95 409.82 L616.56 409.82 Z" fill="#cc7400"/><line x1="616.53" y1="408.51" x2="623.91" y2="408.51" stroke="#4a1800" stroke-width="0.6" /><path d="M626.63 404.16 L633.97 404.16 L634.15 408.51 L626.77 408.51 Z" fill="#ffc600"/><path d="M626.77 408.51 L634.15 408.51 L634.21 409.82 L626.82 409.82 Z" fill="#cc7400"/><line x1="626.77" y1="408.51" x2="634.15" y2="408.51" stroke="#4a1800" stroke-width="0.6" /><path d="M636.82 404.16 L644.17 404.16 L644.4 408.51 L637.02 408.51 Z" fill="#ffc600"/><path d="M637.02 408.51 L644.4 408.51 L644.47 409.82 L637.08 409.82 Z" fill="#cc7400"/><line x1="637.02" y1="408.51" x2="644.4" y2="408.51" stroke="#4a1800" stroke-width="0.6" /><path d="M647.02 404.16 L654.37 404.16 L654.65 408.51 L647.27 408.51 Z" fill="#ffc600"/><path d="M647.27 408.51 L654.65 408.51 L654.73 409.82 L647.34 409.82 Z" fill="#cc7400"/><line x1="647.27" y1="408.51" x2="654.65" y2="408.51" stroke="#4a1800" stroke-width="0.6" /><path d="M657.22 404.16 L664.57 404.16 L664.89 408.51 L657.52 408.51 Z" fill="#ffc600"/><path d="M657.52 408.51 L664.89 408.51 L664.99 409.82 L657.6 409.82 Z" fill="#cc7400"/><line x1="657.52" y1="408.51" x2="664.89" y2="408.51" stroke="#4a1800" stroke-width="0.6" /><path d="M667.42 404.16 L674.76 404.16 L675.14 408.51 L667.76 408.51 Z" fill="#ffc600"/><path d="M667.76 408.51 L675.14 408.51 L675.25 409.82 L667.86 409.82 Z" fill="#cc7400"/><line x1="667.76" y1="408.51" x2="675.14" y2="408.51" stroke="#4a1800" stroke-width="0.6" /><path d="M677.62 404.16 L684.96 404.16 L685.39 408.51 L678.01 408.51 Z" fill="#ffc600"/><path d="M678.01 408.51 L685.39 408.51 L685.51 409.82 L678.13 409.82 Z" fill="#cc7400"/><line x1="678.01" y1="408.51" x2="685.39" y2="408.51" stroke="#4a1800" stroke-width="0.6" /><path d="M503.53 411.43 L510.93 411.43 L510.54 415.85 L503.1 415.85 Z" fill="#ffc600"/><path d="M503.1 415.85 L510.54 415.85 L510.42 417.19 L502.97 417.19 Z" fill="#cc7400"/><line x1="503.1" y1="415.85" x2="510.54" y2="415.85" stroke="#4a1800" stroke-width="0.6" /><path d="M513.81 411.43 L521.21 411.43 L520.86 415.85 L513.43 415.85 Z" fill="#ffc600"/><path d="M513.43 415.85 L520.86 415.85 L520.76 417.19 L513.31 417.19 Z" fill="#cc7400"/><line x1="513.43" y1="415.85" x2="520.86" y2="415.85" stroke="#4a1800" stroke-width="0.6" /><path d="M524.09 411.43 L531.49 411.43 L531.19 415.85 L523.75 415.85 Z" fill="#ffc600"/><path d="M523.75 415.85 L531.19 415.85 L531.1 417.19 L523.65 417.19 Z" fill="#cc7400"/><line x1="523.75" y1="415.85" x2="531.19" y2="415.85" stroke="#4a1800" stroke-width="0.6" /><path d="M534.37 411.43 L541.77 411.43 L541.52 415.85 L534.08 415.85 Z" fill="#ffc600"/><path d="M534.08 415.85 L541.52 415.85 L541.44 417.19 L534 417.19 Z" fill="#cc7400"/><line x1="534.08" y1="415.85" x2="541.52" y2="415.85" stroke="#4a1800" stroke-width="0.6" /><path d="M544.64 411.43 L552.05 411.43 L551.84 415.85 L544.41 415.85 Z" fill="#ffc600"/><path d="M544.41 415.85 L551.84 415.85 L551.78 417.19 L544.34 417.19 Z" fill="#cc7400"/><line x1="544.41" y1="415.85" x2="551.84" y2="415.85" stroke="#4a1800" stroke-width="0.6" /><path d="M554.92 411.43 L562.32 411.43 L562.17 415.85 L554.74 415.85 Z" fill="#ffc600"/><path d="M554.74 415.85 L562.17 415.85 L562.13 417.19 L554.68 417.19 Z" fill="#cc7400"/><line x1="554.74" y1="415.85" x2="562.17" y2="415.85" stroke="#4a1800" stroke-width="0.6" /><path d="M565.2 411.43 L572.6 411.43 L572.5 415.85 L565.06 415.85 Z" fill="#ffc600"/><path d="M565.06 415.85 L572.5 415.85 L572.47 417.19 L565.02 417.19 Z" fill="#cc7400"/><line x1="565.06" y1="415.85" x2="572.5" y2="415.85" stroke="#4a1800" stroke-width="0.6" /><path d="M575.48 411.43 L582.88 411.43 L582.83 415.85 L575.39 415.85 Z" fill="#ffc600"/><path d="M575.39 415.85 L582.83 415.85 L582.81 417.19 L575.36 417.19 Z" fill="#cc7400"/><line x1="575.39" y1="415.85" x2="582.83" y2="415.85" stroke="#4a1800" stroke-width="0.6" /><path d="M585.76 411.43 L593.16 411.43 L593.15 415.85 L585.72 415.85 Z" fill="#ffc600"/><path d="M585.72 415.85 L593.15 415.85 L593.15 417.19 L585.71 417.19 Z" fill="#cc7400"/><line x1="585.72" y1="415.85" x2="593.15" y2="415.85" stroke="#4a1800" stroke-width="0.6" /><path d="M596.04 411.43 L603.44 411.43 L603.48 415.85 L596.05 415.85 Z" fill="#ffc600"/><path d="M596.05 415.85 L603.48 415.85 L603.49 417.19 L596.05 417.19 Z" fill="#cc7400"/><line x1="596.05" y1="415.85" x2="603.48" y2="415.85" stroke="#4a1800" stroke-width="0.6" /><path d="M606.32 411.43 L613.72 411.43 L613.81 415.85 L606.37 415.85 Z" fill="#ffc600"/><path d="M606.37 415.85 L613.81 415.85 L613.84 417.19 L606.39 417.19 Z" fill="#cc7400"/><line x1="606.37" y1="415.85" x2="613.81" y2="415.85" stroke="#4a1800" stroke-width="0.6" /><path d="M616.6 411.43 L624 411.43 L624.14 415.85 L616.7 415.85 Z" fill="#ffc600"/><path d="M616.7 415.85 L624.14 415.85 L624.18 417.19 L616.73 417.19 Z" fill="#cc7400"/><line x1="616.7" y1="415.85" x2="624.14" y2="415.85" stroke="#4a1800" stroke-width="0.6" /><path d="M626.88 411.43 L634.28 411.43 L634.46 415.85 L627.03 415.85 Z" fill="#ffc600"/><path d="M627.03 415.85 L634.46 415.85 L634.52 417.19 L627.07 417.19 Z" fill="#cc7400"/><line x1="627.03" y1="415.85" x2="634.46" y2="415.85" stroke="#4a1800" stroke-width="0.6" /><path d="M637.15 411.43 L644.56 411.43 L644.79 415.85 L637.36 415.85 Z" fill="#ffc600"/><path d="M637.36 415.85 L644.79 415.85 L644.86 417.19 L637.42 417.19 Z" fill="#cc7400"/><line x1="637.36" y1="415.85" x2="644.79" y2="415.85" stroke="#4a1800" stroke-width="0.6" /><path d="M647.43 411.43 L654.83 411.43 L655.12 415.85 L647.68 415.85 Z" fill="#ffc600"/><path d="M647.68 415.85 L655.12 415.85 L655.2 417.19 L647.76 417.19 Z" fill="#cc7400"/><line x1="647.68" y1="415.85" x2="655.12" y2="415.85" stroke="#4a1800" stroke-width="0.6" /><path d="M657.71 411.43 L665.11 411.43 L665.45 415.85 L658.01 415.85 Z" fill="#ffc600"/><path d="M658.01 415.85 L665.45 415.85 L665.55 417.19 L658.1 417.19 Z" fill="#cc7400"/><line x1="658.01" y1="415.85" x2="665.45" y2="415.85" stroke="#4a1800" stroke-width="0.6" /><path d="M667.99 411.43 L675.39 411.43 L675.77 415.85 L668.34 415.85 Z" fill="#ffc600"/><path d="M668.34 415.85 L675.77 415.85 L675.89 417.19 L668.44 417.19 Z" fill="#cc7400"/><line x1="668.34" y1="415.85" x2="675.77" y2="415.85" stroke="#4a1800" stroke-width="0.6" /><path d="M678.27 411.43 L685.67 411.43 L686.1 415.85 L678.66 415.85 Z" fill="#ffc600"/><path d="M678.66 415.85 L686.1 415.85 L686.23 417.19 L678.78 417.19 Z" fill="#cc7400"/><line x1="678.66" y1="415.85" x2="686.1" y2="415.85" stroke="#4a1800" stroke-width="0.6" /><path d="M513.17 418.83 L520.63 418.83 L520.28 423.32 L512.78 423.32 Z" fill="#ffc600"/><path d="M512.78 423.32 L520.28 423.32 L520.17 424.67 L512.67 424.67 Z" fill="#cc7400"/><line x1="512.78" y1="423.32" x2="520.28" y2="423.32" stroke="#4a1800" stroke-width="0.6" /><path d="M523.53 418.83 L530.99 418.83 L530.69 423.32 L523.19 423.32 Z" fill="#ffc600"/><path d="M523.19 423.32 L530.69 423.32 L530.6 424.67 L523.09 424.67 Z" fill="#cc7400"/><line x1="523.19" y1="423.32" x2="530.69" y2="423.32" stroke="#4a1800" stroke-width="0.6" /><path d="M533.89 418.83 L541.35 418.83 L541.1 423.32 L533.6 423.32 Z" fill="#ffc600"/><path d="M533.6 423.32 L541.1 423.32 L541.02 424.67 L533.52 424.67 Z" fill="#cc7400"/><line x1="533.6" y1="423.32" x2="541.1" y2="423.32" stroke="#4a1800" stroke-width="0.6" /><path d="M544.25 418.83 L551.71 418.83 L551.51 423.32 L544.01 423.32 Z" fill="#ffc600"/><path d="M544.01 423.32 L551.51 423.32 L551.44 424.67 L543.94 424.67 Z" fill="#cc7400"/><line x1="544.01" y1="423.32" x2="551.51" y2="423.32" stroke="#4a1800" stroke-width="0.6" /><path d="M554.61 418.83 L562.07 418.83 L561.92 423.32 L554.42 423.32 Z" fill="#ffc600"/><path d="M554.42 423.32 L561.92 423.32 L561.87 424.67 L554.36 424.67 Z" fill="#cc7400"/><line x1="554.42" y1="423.32" x2="561.92" y2="423.32" stroke="#4a1800" stroke-width="0.6" /><path d="M564.97 418.83 L572.43 418.83 L572.32 423.32 L564.83 423.32 Z" fill="#ffc600"/><path d="M564.83 423.32 L572.32 423.32 L572.29 424.67 L564.79 424.67 Z" fill="#cc7400"/><line x1="564.83" y1="423.32" x2="572.32" y2="423.32" stroke="#4a1800" stroke-width="0.6" /><path d="M575.33 418.83 L582.79 418.83 L582.73 423.32 L575.24 423.32 Z" fill="#ffc600"/><path d="M575.24 423.32 L582.73 423.32 L582.72 424.67 L575.21 424.67 Z" fill="#cc7400"/><line x1="575.24" y1="423.32" x2="582.73" y2="423.32" stroke="#4a1800" stroke-width="0.6" /><path d="M585.69 418.83 L593.15 418.83 L593.14 423.32 L585.65 423.32 Z" fill="#ffc600"/><path d="M585.65 423.32 L593.14 423.32 L593.14 424.67 L585.64 424.67 Z" fill="#cc7400"/><line x1="585.65" y1="423.32" x2="593.14" y2="423.32" stroke="#4a1800" stroke-width="0.6" /><path d="M596.05 418.83 L603.51 418.83 L603.55 423.32 L596.06 423.32 Z" fill="#ffc600"/><path d="M596.06 423.32 L603.55 423.32 L603.56 424.67 L596.06 424.67 Z" fill="#cc7400"/><line x1="596.06" y1="423.32" x2="603.55" y2="423.32" stroke="#4a1800" stroke-width="0.6" /><path d="M606.41 418.83 L613.87 418.83 L613.96 423.32 L606.47 423.32 Z" fill="#ffc600"/><path d="M606.47 423.32 L613.96 423.32 L613.99 424.67 L606.48 424.67 Z" fill="#cc7400"/><line x1="606.47" y1="423.32" x2="613.96" y2="423.32" stroke="#4a1800" stroke-width="0.6" /><path d="M616.77 418.83 L624.23 418.83 L624.37 423.32 L616.88 423.32 Z" fill="#ffc600"/><path d="M616.88 423.32 L624.37 423.32 L624.41 424.67 L616.91 424.67 Z" fill="#cc7400"/><line x1="616.88" y1="423.32" x2="624.37" y2="423.32" stroke="#4a1800" stroke-width="0.6" /><path d="M627.13 418.83 L634.59 418.83 L634.78 423.32 L627.28 423.32 Z" fill="#ffc600"/><path d="M627.28 423.32 L634.78 423.32 L634.84 424.67 L627.33 424.67 Z" fill="#cc7400"/><line x1="627.28" y1="423.32" x2="634.78" y2="423.32" stroke="#4a1800" stroke-width="0.6" /><path d="M637.49 418.83 L644.95 418.83 L645.19 423.32 L637.69 423.32 Z" fill="#ffc600"/><path d="M637.69 423.32 L645.19 423.32 L645.26 424.67 L637.76 424.67 Z" fill="#cc7400"/><line x1="637.69" y1="423.32" x2="645.19" y2="423.32" stroke="#4a1800" stroke-width="0.6" /><path d="M647.85 418.83 L655.31 418.83 L655.6 423.32 L648.1 423.32 Z" fill="#ffc600"/><path d="M648.1 423.32 L655.6 423.32 L655.68 424.67 L648.18 424.67 Z" fill="#cc7400"/><line x1="648.1" y1="423.32" x2="655.6" y2="423.32" stroke="#4a1800" stroke-width="0.6" /><path d="M658.21 418.83 L665.67 418.83 L666.01 423.32 L658.51 423.32 Z" fill="#ffc600"/><path d="M658.51 423.32 L666.01 423.32 L666.11 424.67 L658.6 424.67 Z" fill="#cc7400"/><line x1="658.51" y1="423.32" x2="666.01" y2="423.32" stroke="#4a1800" stroke-width="0.6" /><path d="M668.57 418.83 L676.03 418.83 L676.42 423.32 L668.92 423.32 Z" fill="#ffc600"/><path d="M668.92 423.32 L676.42 423.32 L676.53 424.67 L669.03 424.67 Z" fill="#cc7400"/><line x1="668.92" y1="423.32" x2="676.42" y2="423.32" stroke="#4a1800" stroke-width="0.6" /><path d="M522.97 426.33 L530.48 426.33 L530.18 430.9 L522.62 430.9 Z" fill="#ffc600"/><path d="M522.62 430.9 L530.18 430.9 L530.08 432.28 L522.52 432.28 Z" fill="#cc7400"/><line x1="522.62" y1="430.9" x2="530.18" y2="430.9" stroke="#4a1800" stroke-width="0.6" /><path d="M533.41 426.33 L540.93 426.33 L540.67 430.9 L533.12 430.9 Z" fill="#ffc600"/><path d="M533.12 430.9 L540.67 430.9 L540.59 432.28 L533.03 432.28 Z" fill="#cc7400"/><line x1="533.12" y1="430.9" x2="540.67" y2="430.9" stroke="#4a1800" stroke-width="0.6" /><path d="M543.85 426.33 L551.37 426.33 L551.16 430.9 L543.61 430.9 Z" fill="#ffc600"/><path d="M543.61 430.9 L551.16 430.9 L551.1 432.28 L543.53 432.28 Z" fill="#cc7400"/><line x1="543.61" y1="430.9" x2="551.16" y2="430.9" stroke="#4a1800" stroke-width="0.6" /><path d="M554.29 426.33 L561.81 426.33 L561.65 430.9 L554.1 430.9 Z" fill="#ffc600"/><path d="M554.1 430.9 L561.65 430.9 L561.61 432.28 L554.04 432.28 Z" fill="#cc7400"/><line x1="554.1" y1="430.9" x2="561.65" y2="430.9" stroke="#4a1800" stroke-width="0.6" /><path d="M564.74 426.33 L572.25 426.33 L572.15 430.9 L564.59 430.9 Z" fill="#ffc600"/><path d="M564.59 430.9 L572.15 430.9 L572.11 432.28 L564.55 432.28 Z" fill="#cc7400"/><line x1="564.59" y1="430.9" x2="572.15" y2="430.9" stroke="#4a1800" stroke-width="0.6" /><path d="M575.18 426.33 L582.7 426.33 L582.64 430.9 L575.08 430.9 Z" fill="#ffc600"/><path d="M575.08 430.9 L582.64 430.9 L582.62 432.28 L575.06 432.28 Z" fill="#cc7400"/><line x1="575.08" y1="430.9" x2="582.64" y2="430.9" stroke="#4a1800" stroke-width="0.6" /><path d="M585.62 426.33 L593.14 426.33 L593.13 430.9 L585.58 430.9 Z" fill="#ffc600"/><path d="M585.58 430.9 L593.13 430.9 L593.13 432.28 L585.56 432.28 Z" fill="#cc7400"/><line x1="585.58" y1="430.9" x2="593.13" y2="430.9" stroke="#4a1800" stroke-width="0.6" /><path d="M596.06 426.33 L603.58 426.33 L603.62 430.9 L596.07 430.9 Z" fill="#ffc600"/><path d="M596.07 430.9 L603.62 430.9 L603.64 432.28 L596.07 432.28 Z" fill="#cc7400"/><line x1="596.07" y1="430.9" x2="603.62" y2="430.9" stroke="#4a1800" stroke-width="0.6" /><path d="M606.5 426.33 L614.02 426.33 L614.12 430.9 L606.56 430.9 Z" fill="#ffc600"/><path d="M606.56 430.9 L614.12 430.9 L614.14 432.28 L606.58 432.28 Z" fill="#cc7400"/><line x1="606.56" y1="430.9" x2="614.12" y2="430.9" stroke="#4a1800" stroke-width="0.6" /><path d="M616.95 426.33 L624.46 426.33 L624.61 430.9 L617.05 430.9 Z" fill="#ffc600"/><path d="M617.05 430.9 L624.61 430.9 L624.65 432.28 L617.09 432.28 Z" fill="#cc7400"/><line x1="617.05" y1="430.9" x2="624.61" y2="430.9" stroke="#4a1800" stroke-width="0.6" /><path d="M627.39 426.33 L634.91 426.33 L635.1 430.9 L627.55 430.9 Z" fill="#ffc600"/><path d="M627.55 430.9 L635.1 430.9 L635.16 432.28 L627.59 432.28 Z" fill="#cc7400"/><line x1="627.55" y1="430.9" x2="635.1" y2="430.9" stroke="#4a1800" stroke-width="0.6" /><path d="M637.83 426.33 L645.35 426.33 L645.59 430.9 L638.04 430.9 Z" fill="#ffc600"/><path d="M638.04 430.9 L645.59 430.9 L645.67 432.28 L638.1 432.28 Z" fill="#cc7400"/><line x1="638.04" y1="430.9" x2="645.59" y2="430.9" stroke="#4a1800" stroke-width="0.6" /><path d="M648.27 426.33 L655.79 426.33 L656.08 430.9 L648.53 430.9 Z" fill="#ffc600"/><path d="M648.53 430.9 L656.08 430.9 L656.17 432.28 L648.61 432.28 Z" fill="#cc7400"/><line x1="648.53" y1="430.9" x2="656.08" y2="430.9" stroke="#4a1800" stroke-width="0.6" /><path d="M658.72 426.33 L666.23 426.33 L666.58 430.9 L659.02 430.9 Z" fill="#ffc600"/><path d="M659.02 430.9 L666.58 430.9 L666.68 432.28 L659.12 432.28 Z" fill="#cc7400"/><line x1="659.02" y1="430.9" x2="666.58" y2="430.9" stroke="#4a1800" stroke-width="0.6" /><path d="M532.92 433.96 L540.5 433.96 L540.24 438.6 L532.62 438.6 Z" fill="#ffc600"/><path d="M532.62 438.6 L540.24 438.6 L540.16 440 L532.53 440 Z" fill="#cc7400"/><line x1="532.62" y1="438.6" x2="540.24" y2="438.6" stroke="#4a1800" stroke-width="0.6" /><path d="M543.44 433.96 L551.02 433.96 L550.81 438.6 L543.2 438.6 Z" fill="#ffc600"/><path d="M543.2 438.6 L550.81 438.6 L550.75 440 L543.12 440 Z" fill="#cc7400"/><line x1="543.2" y1="438.6" x2="550.81" y2="438.6" stroke="#4a1800" stroke-width="0.6" /><path d="M553.97 433.96 L561.55 433.96 L561.39 438.6 L553.77 438.6 Z" fill="#ffc600"/><path d="M553.77 438.6 L561.39 438.6 L561.34 440 L553.71 440 Z" fill="#cc7400"/><line x1="553.77" y1="438.6" x2="561.39" y2="438.6" stroke="#4a1800" stroke-width="0.6" /><path d="M564.5 433.96 L572.07 433.96 L571.97 438.6 L564.35 438.6 Z" fill="#ffc600"/><path d="M564.35 438.6 L571.97 438.6 L571.93 440 L564.31 440 Z" fill="#cc7400"/><line x1="564.35" y1="438.6" x2="571.97" y2="438.6" stroke="#4a1800" stroke-width="0.6" /><path d="M575.02 433.96 L582.6 433.96 L582.54 438.6 L574.93 438.6 Z" fill="#ffc600"/><path d="M574.93 438.6 L582.54 438.6 L582.53 440 L574.9 440 Z" fill="#cc7400"/><line x1="574.93" y1="438.6" x2="582.54" y2="438.6" stroke="#4a1800" stroke-width="0.6" /><path d="M585.55 433.96 L593.13 433.96 L593.12 438.6 L585.5 438.6 Z" fill="#ffc600"/><path d="M585.5 438.6 L593.12 438.6 L593.12 440 L585.49 440 Z" fill="#cc7400"/><line x1="585.5" y1="438.6" x2="593.12" y2="438.6" stroke="#4a1800" stroke-width="0.6" /><path d="M596.07 433.96 L603.65 433.96 L603.7 438.6 L596.08 438.6 Z" fill="#ffc600"/><path d="M596.08 438.6 L603.7 438.6 L603.71 440 L596.08 440 Z" fill="#cc7400"/><line x1="596.08" y1="438.6" x2="603.7" y2="438.6" stroke="#4a1800" stroke-width="0.6" /><path d="M606.6 433.96 L614.18 433.96 L614.27 438.6 L606.66 438.6 Z" fill="#ffc600"/><path d="M606.66 438.6 L614.27 438.6 L614.3 440 L606.67 440 Z" fill="#cc7400"/><line x1="606.66" y1="438.6" x2="614.27" y2="438.6" stroke="#4a1800" stroke-width="0.6" /><path d="M617.13 433.96 L624.7 433.96 L624.85 438.6 L617.23 438.6 Z" fill="#ffc600"/><path d="M617.23 438.6 L624.85 438.6 L624.89 440 L617.27 440 Z" fill="#cc7400"/><line x1="617.23" y1="438.6" x2="624.85" y2="438.6" stroke="#4a1800" stroke-width="0.6" /><path d="M627.65 433.96 L635.23 433.96 L635.43 438.6 L627.81 438.6 Z" fill="#ffc600"/><path d="M627.81 438.6 L635.43 438.6 L635.49 440 L627.86 440 Z" fill="#cc7400"/><line x1="627.81" y1="438.6" x2="635.43" y2="438.6" stroke="#4a1800" stroke-width="0.6" /><path d="M638.18 433.96 L645.76 433.96 L646 438.6 L638.39 438.6 Z" fill="#ffc600"/><path d="M638.39 438.6 L646 438.6 L646.08 440 L638.45 440 Z" fill="#cc7400"/><line x1="638.39" y1="438.6" x2="646" y2="438.6" stroke="#4a1800" stroke-width="0.6" /><path d="M648.7 433.96 L656.28 433.96 L656.58 438.6 L648.96 438.6 Z" fill="#ffc600"/><path d="M648.96 438.6 L656.58 438.6 L656.67 440 L649.04 440 Z" fill="#cc7400"/><line x1="648.96" y1="438.6" x2="656.58" y2="438.6" stroke="#4a1800" stroke-width="0.6" /><path d="M543.03 441.72 L550.67 441.72 L550.46 446.43 L542.78 446.43 Z" fill="#ffc600"/><path d="M542.78 446.43 L550.46 446.43 L550.39 447.85 L542.7 447.85 Z" fill="#cc7400"/><line x1="542.78" y1="446.43" x2="550.46" y2="446.43" stroke="#4a1800" stroke-width="0.6" /><path d="M553.64 441.72 L561.28 441.72 L561.12 446.43 L553.44 446.43 Z" fill="#ffc600"/><path d="M553.44 446.43 L561.12 446.43 L561.07 447.85 L553.38 447.85 Z" fill="#cc7400"/><line x1="553.44" y1="446.43" x2="561.12" y2="446.43" stroke="#4a1800" stroke-width="0.6" /><path d="M564.25 441.72 L571.89 441.72 L571.78 446.43 L564.11 446.43 Z" fill="#ffc600"/><path d="M564.11 446.43 L571.78 446.43 L571.75 447.85 L564.06 447.85 Z" fill="#cc7400"/><line x1="564.11" y1="446.43" x2="571.78" y2="446.43" stroke="#4a1800" stroke-width="0.6" /><path d="M574.86 441.72 L582.5 441.72 L582.44 446.43 L574.77 446.43 Z" fill="#ffc600"/><path d="M574.77 446.43 L582.44 446.43 L582.43 447.85 L574.74 447.85 Z" fill="#cc7400"/><line x1="574.77" y1="446.43" x2="582.44" y2="446.43" stroke="#4a1800" stroke-width="0.6" /><path d="M585.47 441.72 L593.11 441.72 L593.11 446.43 L585.43 446.43 Z" fill="#ffc600"/><path d="M585.43 446.43 L593.11 446.43 L593.11 447.85 L585.42 447.85 Z" fill="#cc7400"/><line x1="585.43" y1="446.43" x2="593.11" y2="446.43" stroke="#4a1800" stroke-width="0.6" /><path d="M596.09 441.72 L603.73 441.72 L603.77 446.43 L596.09 446.43 Z" fill="#ffc600"/><path d="M596.09 446.43 L603.77 446.43 L603.78 447.85 L596.09 447.85 Z" fill="#cc7400"/><line x1="596.09" y1="446.43" x2="603.77" y2="446.43" stroke="#4a1800" stroke-width="0.6" /><path d="M606.7 441.72 L614.34 441.72 L614.43 446.43 L606.76 446.43 Z" fill="#ffc600"/><path d="M606.76 446.43 L614.43 446.43 L614.46 447.85 L606.77 447.85 Z" fill="#cc7400"/><line x1="606.76" y1="446.43" x2="614.43" y2="446.43" stroke="#4a1800" stroke-width="0.6" /><path d="M617.31 441.72 L624.95 441.72 L625.09 446.43 L617.42 446.43 Z" fill="#ffc600"/><path d="M617.42 446.43 L625.09 446.43 L625.14 447.85 L617.45 447.85 Z" fill="#cc7400"/><line x1="617.42" y1="446.43" x2="625.09" y2="446.43" stroke="#4a1800" stroke-width="0.6" /><path d="M627.92 441.72 L635.56 441.72 L635.76 446.43 L628.08 446.43 Z" fill="#ffc600"/><path d="M628.08 446.43 L635.76 446.43 L635.82 447.85 L628.13 447.85 Z" fill="#cc7400"/><line x1="628.08" y1="446.43" x2="635.76" y2="446.43" stroke="#4a1800" stroke-width="0.6" /><path d="M638.53 441.72 L646.17 441.72 L646.42 446.43 L638.74 446.43 Z" fill="#ffc600"/><path d="M638.74 446.43 L646.42 446.43 L646.5 447.85 L638.81 447.85 Z" fill="#cc7400"/><line x1="638.74" y1="446.43" x2="646.42" y2="446.43" stroke="#4a1800" stroke-width="0.6" /><path d="M574.7 449.6 L582.41 449.6 L582.35 454.38 L574.61 454.38 Z" fill="#ffc600"/><path d="M574.61 454.38 L582.35 454.38 L582.33 455.83 L574.58 455.83 Z" fill="#cc7400"/><line x1="574.61" y1="454.38" x2="582.35" y2="454.38" stroke="#4a1800" stroke-width="0.6" /><path d="M585.4 449.6 L593.1 449.6 L593.1 454.38 L585.36 454.38 Z" fill="#ffc600"/><path d="M585.36 454.38 L593.1 454.38 L593.09 455.83 L585.34 455.83 Z" fill="#cc7400"/><line x1="585.36" y1="454.38" x2="593.1" y2="454.38" stroke="#4a1800" stroke-width="0.6" /><path d="M596.1 449.6 L603.8 449.6 L603.84 454.38 L596.1 454.38 Z" fill="#ffc600"/><path d="M596.1 454.38 L603.84 454.38 L603.86 455.83 L596.11 455.83 Z" fill="#cc7400"/><line x1="596.1" y1="454.38" x2="603.84" y2="454.38" stroke="#4a1800" stroke-width="0.6" /><path d="M606.79 449.6 L614.5 449.6 L614.59 454.38 L606.85 454.38 Z" fill="#ffc600"/><path d="M606.85 454.38 L614.59 454.38 L614.62 455.83 L606.87 455.83 Z" fill="#cc7400"/><line x1="606.85" y1="454.38" x2="614.59" y2="454.38" stroke="#4a1800" stroke-width="0.6" /><line x1="506.45" y1="359.4" x2="501.77" y2="406.42" stroke="#4a1800" stroke-width="0.6" /><line x1="508.26" y1="356.8" x2="503.12" y2="409.32" stroke="#4a1800" stroke-width="0.6" /><line x1="517.27" y1="346.79" x2="510.72" y2="420.82" stroke="#4a1800" stroke-width="0.6" /><line x1="518.93" y1="345.31" x2="512.22" y2="422.57" stroke="#4a1800" stroke-width="0.6" /><line x1="527.46" y1="338.83" x2="520.36" y2="430.37" stroke="#4a1800" stroke-width="0.6" /><line x1="529.06" y1="337.79" x2="521.94" y2="431.64" stroke="#4a1800" stroke-width="0.6" /><line x1="537.33" y1="333.08" x2="530.37" y2="437.5" stroke="#4a1800" stroke-width="0.6" /><line x1="538.89" y1="332.31" x2="531.99" y2="438.48" stroke="#4a1800" stroke-width="0.6" /><line x1="546.99" y1="328.76" x2="540.63" y2="443" stroke="#4a1800" stroke-width="0.6" /><line x1="548.52" y1="328.17" x2="542.28" y2="443.75" stroke="#4a1800" stroke-width="0.6" /><line x1="556.51" y1="325.5" x2="551.06" y2="447.22" stroke="#4a1800" stroke-width="0.6" /><line x1="558.02" y1="325.06" x2="552.74" y2="447.79" stroke="#4a1800" stroke-width="0.6" /><line x1="565.92" y1="323.1" x2="561.63" y2="450.37" stroke="#4a1800" stroke-width="0.6" /><line x1="567.42" y1="322.79" x2="563.33" y2="450.79" stroke="#4a1800" stroke-width="0.6" /><line x1="575.27" y1="321.44" x2="572.28" y2="452.58" stroke="#4a1800" stroke-width="0.6" /><line x1="576.76" y1="321.24" x2="573.99" y2="452.85" stroke="#4a1800" stroke-width="0.6" /><line x1="584.58" y1="320.45" x2="583" y2="453.9" stroke="#4a1800" stroke-width="0.6" /><line x1="586.06" y1="320.35" x2="584.71" y2="454.03" stroke="#4a1800" stroke-width="0.6" /><line x1="593.86" y1="320.09" x2="593.74" y2="454.38" stroke="#4a1800" stroke-width="0.6" /><line x1="595.34" y1="320.09" x2="595.46" y2="454.38" stroke="#4a1800" stroke-width="0.6" /><line x1="603.14" y1="320.35" x2="604.49" y2="454.03" stroke="#4a1800" stroke-width="0.6" /><line x1="604.62" y1="320.45" x2="606.2" y2="453.9" stroke="#4a1800" stroke-width="0.6" /><line x1="612.44" y1="321.24" x2="615.21" y2="452.85" stroke="#4a1800" stroke-width="0.6" /><line x1="613.93" y1="321.44" x2="616.92" y2="452.58" stroke="#4a1800" stroke-width="0.6" /><line x1="621.78" y1="322.79" x2="625.87" y2="450.79" stroke="#4a1800" stroke-width="0.6" /><line x1="623.28" y1="323.1" x2="627.57" y2="450.37" stroke="#4a1800" stroke-width="0.6" /><line x1="631.18" y1="325.06" x2="636.46" y2="447.79" stroke="#4a1800" stroke-width="0.6" /><line x1="632.69" y1="325.5" x2="638.14" y2="447.22" stroke="#4a1800" stroke-width="0.6" /><line x1="640.68" y1="328.17" x2="646.92" y2="443.75" stroke="#4a1800" stroke-width="0.6" /><line x1="642.21" y1="328.76" x2="648.57" y2="443" stroke="#4a1800" stroke-width="0.6" /><line x1="650.31" y1="332.31" x2="657.21" y2="438.48" stroke="#4a1800" stroke-width="0.6" /><line x1="651.87" y1="333.08" x2="658.83" y2="437.5" stroke="#4a1800" stroke-width="0.6" /><line x1="660.14" y1="337.79" x2="667.26" y2="431.64" stroke="#4a1800" stroke-width="0.6" /><line x1="661.74" y1="338.83" x2="668.84" y2="430.37" stroke="#4a1800" stroke-width="0.6" /><line x1="670.27" y1="345.31" x2="676.98" y2="422.57" stroke="#4a1800" stroke-width="0.6" /><line x1="671.93" y1="346.79" x2="678.48" y2="420.82" stroke="#4a1800" stroke-width="0.6" /><line x1="680.94" y1="356.8" x2="686.08" y2="409.32" stroke="#4a1800" stroke-width="0.6" /><line x1="682.75" y1="359.4" x2="687.43" y2="406.42" stroke="#4a1800" stroke-width="0.6" /></g><path d="M694.19 382.3 L694.41 385.01 L694.48 387.73 L694.39 390.47 L694.15 393.2 L693.75 395.93 L693.19 398.66 L692.47 401.38 L691.59 404.09 L690.56 406.77 L689.36 409.43 L688.01 412.07 L686.5 414.67 L684.84 417.24 L683.02 419.76 L681.05 422.23 L678.93 424.66 L676.66 427.02 L674.25 429.33 L671.7 431.57 L669.01 433.74 L666.19 435.84 L663.24 437.86 L660.16 439.79 L656.96 441.64 L653.65 443.4 L650.23 445.06 L646.71 446.63 L643.09 448.09 L639.38 449.45 L635.58 450.7 L631.71 451.84 L627.77 452.87 L623.76 453.78 L619.7 454.57 L615.59 455.25 L611.44 455.81 L607.26 456.24 L603.05 456.55 L598.83 456.73 L594.6 456.8 L590.37 456.73 L586.15 456.55 L581.94 456.24 L577.76 455.81 L573.61 455.25 L569.5 454.57 L565.44 453.78 L561.43 452.87 L557.49 451.84 L553.62 450.7 L549.82 449.45 L546.11 448.09 L542.49 446.63 L538.97 445.06 L535.55 443.4 L532.24 441.64 L529.04 439.79 L525.96 437.86 L523.01 435.84 L520.19 433.74 L517.5 431.57 L514.95 429.33 L512.54 427.02 L510.27 424.66 L508.15 422.23 L506.18 419.76 L504.36 417.24 L502.7 414.67 L501.19 412.07 L499.84 409.43 L498.64 406.77 L497.61 404.09 L496.73 401.38 L496.01 398.66 L495.45 395.93 L495.05 393.2 L494.81 390.47 L494.72 387.73 L494.79 385.01 L495.01 382.3 L495.38 379.6 L495.9 376.93 L496.57 374.28 L497.38 371.66 L498.34 369.06 L499.44 366.51 L500.68 363.99 L502.05 361.51 L503.55 359.08 L505.18 356.69 L506.94 354.36 L508.81 352.08 L510.81 349.86 L512.92 347.7 L515.14 345.59 L517.46 343.56 L519.89 341.59 L522.42 339.68 L525.04 337.85 L527.76 336.09 L530.56 334.41 L533.44 332.8 L536.41 331.27 L539.44 329.82 L542.55 328.45 L545.72 327.16 L548.95 325.96 L552.25 324.84 L555.59 323.8 L558.98 322.85 L562.42 321.99 L565.89 321.22 L569.4 320.54 L572.95 319.95 L576.51 319.45 L580.11 319.03 L583.71 318.71 L587.33 318.48 L590.97 318.35 L594.6 318.3 L598.23 318.35 L601.87 318.48 L605.49 318.71 L609.09 319.03 L612.69 319.45 L616.25 319.95 L619.8 320.54 L623.31 321.22 L626.78 321.99 L630.22 322.85 L633.61 323.8 L636.95 324.84 L640.25 325.96 L643.48 327.16 L646.65 328.45 L649.76 329.82 L652.79 331.27 L655.76 332.8 L658.64 334.41 L661.44 336.09 L664.16 337.85 L666.78 339.68 L669.31 341.59 L671.74 343.56 L674.06 345.59 L676.28 347.7 L678.39 349.86 L680.39 352.08 L682.26 354.36 L684.02 356.69 L685.65 359.08 L687.15 361.51 L688.52 363.99 L689.76 366.51 L690.86 369.06 L691.82 371.66 L692.63 374.28 L693.3 376.93 L693.82 379.6 Z" fill="url(#ovD)"/><rect x="586.3" y="312.3" width="7.2" height="8" fill="none" stroke="#555" stroke-width="0.6"/><rect x="602.8" y="312.3" width="7.2" height="8" fill="none" stroke="#555" stroke-width="0.6"/><clipPath id="clipD2"><path d="M694.19 382.3 L694.41 385.01 L694.48 387.73 L694.39 390.47 L694.15 393.2 L693.75 395.93 L693.19 398.66 L692.47 401.38 L691.59 404.09 L690.56 406.77 L689.36 409.43 L688.01 412.07 L686.5 414.67 L684.84 417.24 L683.02 419.76 L681.05 422.23 L678.93 424.66 L676.66 427.02 L674.25 429.33 L671.7 431.57 L669.01 433.74 L666.19 435.84 L663.24 437.86 L660.16 439.79 L656.96 441.64 L653.65 443.4 L650.23 445.06 L646.71 446.63 L643.09 448.09 L639.38 449.45 L635.58 450.7 L631.71 451.84 L627.77 452.87 L623.76 453.78 L619.7 454.57 L615.59 455.25 L611.44 455.81 L607.26 456.24 L603.05 456.55 L598.83 456.73 L594.6 456.8 L590.37 456.73 L586.15 456.55 L581.94 456.24 L577.76 455.81 L573.61 455.25 L569.5 454.57 L565.44 453.78 L561.43 452.87 L557.49 451.84 L553.62 450.7 L549.82 449.45 L546.11 448.09 L542.49 446.63 L538.97 445.06 L535.55 443.4 L532.24 441.64 L529.04 439.79 L525.96 437.86 L523.01 435.84 L520.19 433.74 L517.5 431.57 L514.95 429.33 L512.54 427.02 L510.27 424.66 L508.15 422.23 L506.18 419.76 L504.36 417.24 L502.7 414.67 L501.19 412.07 L499.84 409.43 L498.64 406.77 L497.61 404.09 L496.73 401.38 L496.01 398.66 L495.45 395.93 L495.05 393.2 L494.81 390.47 L494.72 387.73 L494.79 385.01 L495.01 382.3 L495.38 379.6 L495.9 376.93 L496.57 374.28 L497.38 371.66 L498.34 369.06 L499.44 366.51 L500.68 363.99 L502.05 361.51 L503.55 359.08 L505.18 356.69 L506.94 354.36 L508.81 352.08 L510.81 349.86 L512.92 347.7 L515.14 345.59 L517.46 343.56 L519.89 341.59 L522.42 339.68 L525.04 337.85 L527.76 336.09 L530.56 334.41 L533.44 332.8 L536.41 331.27 L539.44 329.82 L542.55 328.45 L545.72 327.16 L548.95 325.96 L552.25 324.84 L555.59 323.8 L558.98 322.85 L562.42 321.99 L565.89 321.22 L569.4 320.54 L572.95 319.95 L576.51 319.45 L580.11 319.03 L583.71 318.71 L587.33 318.48 L590.97 318.35 L594.6 318.3 L598.23 318.35 L601.87 318.48 L605.49 318.71 L609.09 319.03 L612.69 319.45 L616.25 319.95 L619.8 320.54 L623.31 321.22 L626.78 321.99 L630.22 322.85 L633.61 323.8 L636.95 324.84 L640.25 325.96 L643.48 327.16 L646.65 328.45 L649.76 329.82 L652.79 331.27 L655.76 332.8 L658.64 334.41 L661.44 336.09 L664.16 337.85 L666.78 339.68 L669.31 341.59 L671.74 343.56 L674.06 345.59 L676.28 347.7 L678.39 349.86 L680.39 352.08 L682.26 354.36 L684.02 356.69 L685.65 359.08 L687.15 361.51 L688.52 363.99 L689.76 366.51 L690.86 369.06 L691.82 371.66 L692.63 374.28 L693.3 376.93 L693.82 379.6 Z"/></clipPath><g clip-path="url(#clipD2)"><rect x="490" y="377.6" width="210" height="7.5" fill="#f00800"/><rect x="490" y="377.6" width="210" height="3.6" fill="#cc0000"/></g><line x1="600.3" y1="312" x2="591.8" y2="462" stroke="#f02000" stroke-width="0.9" opacity="0.9"/><line x1="591" y1="462" x2="590.9" y2="471" stroke="#333" stroke-width="0.9" /><text x="486.3" y="484.9" font-size="6.3" fill="#555555" text-anchor="middle" >1</text><text x="537.8" y="484.9" font-size="6.3" fill="#555555" text-anchor="middle" >0.5</text><text x="590.2" y="484.9" font-size="6.3" fill="#555555" text-anchor="middle" >0</text><text x="643" y="484.9" font-size="6.3" fill="#555555" text-anchor="middle" >-0.5</text><text x="696.4" y="484.9" font-size="6.3" fill="#555555" text-anchor="middle" >-1</text><text x="701.7" y="333.7" font-size="6.3" fill="#555555" text-anchor="middle" >1</text><text x="702.5" y="368.4" font-size="6.3" fill="#555555" text-anchor="middle" >0.5</text><text x="700.5" y="403.5" font-size="6.3" fill="#555555" text-anchor="middle" >0</text><text x="702.5" y="439.7" font-size="6.3" fill="#555555" text-anchor="middle" >-0.5</text><text x="703.4" y="479.7" font-size="6.3" fill="#555555" text-anchor="middle" >-1</text><text x="476.6" y="461.8" font-size="6.3" fill="#555555" text-anchor="middle" >0.2</text><text x="477.3" y="470.2" font-size="6.3" fill="#555555" text-anchor="middle" >0.1</text><text x="478.1" y="478.9" font-size="6.3" fill="#555555" text-anchor="middle" >0</text><line x1="482.3" y1="484.2" x2="470.6" y2="484.2" stroke="#00d040" stroke-width="1.2" /><line x1="482.3" y1="484.2" x2="482.3" y2="474.7" stroke="#1030e0" stroke-width="1.2" /><line x1="482.9" y1="478" x2="483.3" y2="475" stroke="#ff2020" stroke-width="0.9" /><text x="466.2" y="485.4" font-size="6" fill="#666" text-anchor="middle" >y</text><text x="483.3" y="473.5" font-size="5" fill="#666" text-anchor="middle" >x</text><text x="561.1" y="276.2" font-size="6.3" fill="#555555" textLength="84" lengthAdjust="spacingAndGlyphs">Multislice: Electric potential (V)</text><rect x="751" y="268" width="6.4" height="5.0" rx="1.2" fill="#2450a4"/><rect x="754.9" y="268.7" width="1.8" height="3.6" fill="#4a86d8"/><rect x="752.3" y="269.1" width="2.4" height="2.8" fill="#d4efd0"/><rect x="720.8" y="305.2" width="6.9" height="173.1" fill="url(#jet)"/><line x1="726.2" y1="478.3" x2="727.7" y2="478.3" stroke="#333" stroke-width="0.4" /><text x="731.1" y="480.5" font-size="6.3" fill="#555555" text-anchor="start" >0</text><line x1="726.2" y1="445" x2="727.7" y2="445" stroke="#333" stroke-width="0.4" /><text x="731.1" y="447.2" font-size="6.3" fill="#555555" text-anchor="start" >5</text><line x1="726.2" y1="411.7" x2="727.7" y2="411.7" stroke="#333" stroke-width="0.4" /><text x="731.1" y="413.9" font-size="6.3" fill="#555555" text-anchor="start" >10</text><line x1="726.2" y1="378.4" x2="727.7" y2="378.4" stroke="#333" stroke-width="0.4" /><text x="731.1" y="380.6" font-size="6.3" fill="#555555" text-anchor="start" >15</text><line x1="726.2" y1="345.1" x2="727.7" y2="345.1" stroke="#333" stroke-width="0.4" /><text x="731.1" y="347.3" font-size="6.3" fill="#555555" text-anchor="start" >20</text><line x1="726.2" y1="311.8" x2="727.7" y2="311.8" stroke="#333" stroke-width="0.4" /><text x="731.1" y="314" font-size="6.3" fill="#555555" text-anchor="start" >25</text><path d="M714.7 293 l2.3 -4.4 l2.3 4.4z" fill="#111"/><text x="721.2" y="293" font-size="6.3" fill="#555555" text-anchor="start" >26</text><path d="M714.7 484.8 l2.3 4.4 l2.3 -4.4z" fill="#111"/><text x="721.2" y="489.2" font-size="6.3" fill="#555555" text-anchor="start" >-1.28&#215;10<tspan dy="-2.6" font-size="4.8">-4</tspan></text></g>
<g filter="url(#bl2)">
<text transform="translate(28 50.9) scale(0.88 1)" font-family="Liberation Serif" font-weight="bold" font-size="27" fill="#000">A</text>
<text transform="translate(419.8 51.1) scale(0.88 1)" font-family="Liberation Serif" font-weight="bold" font-size="27" fill="#000">B</text>
<text transform="translate(19.9 294.5) scale(0.93 1)" font-family="Liberation Serif" font-weight="bold" font-size="27" fill="#000">C</text>
<text transform="translate(419.8 294.8) scale(0.88 1)" font-family="Liberation Serif" font-weight="bold" font-size="27" fill="#000">D</text>
</g>
<rect x="2.7" y="2.85" width="790.9" height="503.9" rx="0.6" fill="none" stroke="#000" stroke-width="1.95"/>
<line x1="397.8" y1="4.6" x2="397.8" y2="506" stroke="#000" stroke-width="2" stroke-dasharray="5.9 2.2"/>
<line x1="2.26" y1="255.4" x2="793" y2="255.4" stroke="#000" stroke-width="2.1" stroke-dasharray="5.5 2.04"/>
</svg>
</body></html>
